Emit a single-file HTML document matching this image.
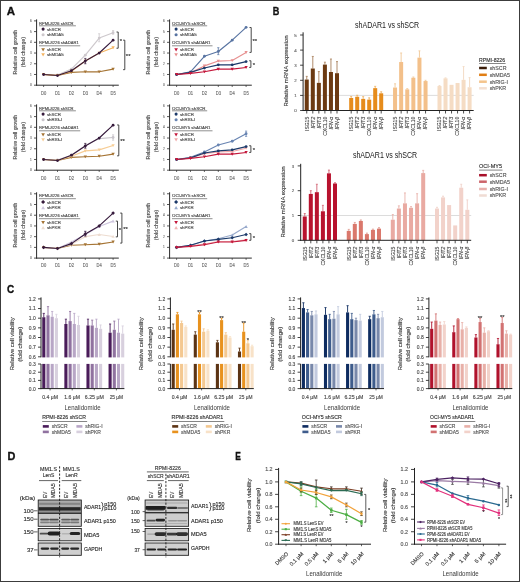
<!DOCTYPE html>
<html><head><meta charset="utf-8"><style>
html,body{margin:0;padding:0;background:#fff;}
svg{display:block;filter:blur(0.3px);}
text{font-family:"Liberation Sans", sans-serif;}
</style></head><body>
<svg width="520" height="582" viewBox="0 0 520 582">
<defs><filter id="soft" x="-30%" y="-80%" width="160%" height="260%"><feGaussianBlur stdDeviation="0.5"/></filter></defs>
<rect x="0" y="0" width="520" height="582" fill="#fff"/>
<text x="6.80" y="14.90" font-size="11.2" text-anchor="start" fill="#111" stroke="#111" stroke-width="0.35" font-weight="bold" textLength="8.30" lengthAdjust="spacingAndGlyphs">A</text>
<text x="17.20" y="52.20" font-size="5.2" text-anchor="middle" fill="#4a4a4a" stroke="#4a4a4a" stroke-width="0.14" textLength="44.70" lengthAdjust="spacingAndGlyphs" transform="rotate(-90 17.20 52.20)">Relative cell growth</text>
<text x="25.50" y="52.20" font-size="5.2" text-anchor="middle" fill="#4a4a4a" stroke="#4a4a4a" stroke-width="0.14" textLength="30.20" lengthAdjust="spacingAndGlyphs" transform="rotate(-90 25.50 52.20)">(fold change)</text>
<line x1="36.60" y1="19.38" x2="36.60" y2="85.70" stroke="#2a2a2a" stroke-width="1.0" />
<line x1="36.10" y1="85.20" x2="118.80" y2="85.20" stroke="#2a2a2a" stroke-width="1.0" />
<line x1="34.00" y1="85.20" x2="36.60" y2="85.20" stroke="#2a2a2a" stroke-width="0.8" />
<text x="30.80" y="86.30" font-size="3.1" text-anchor="middle" fill="#777" stroke="#777" stroke-width="0.14">0</text>
<line x1="34.00" y1="74.48" x2="36.60" y2="74.48" stroke="#2a2a2a" stroke-width="0.8" />
<text x="30.80" y="75.58" font-size="3.1" text-anchor="middle" fill="#777" stroke="#777" stroke-width="0.14">1</text>
<line x1="34.00" y1="63.76" x2="36.60" y2="63.76" stroke="#2a2a2a" stroke-width="0.8" />
<text x="30.80" y="64.86" font-size="3.1" text-anchor="middle" fill="#777" stroke="#777" stroke-width="0.14">2</text>
<line x1="34.00" y1="53.04" x2="36.60" y2="53.04" stroke="#2a2a2a" stroke-width="0.8" />
<text x="30.80" y="54.14" font-size="3.1" text-anchor="middle" fill="#777" stroke="#777" stroke-width="0.14">3</text>
<line x1="34.00" y1="42.32" x2="36.60" y2="42.32" stroke="#2a2a2a" stroke-width="0.8" />
<text x="30.80" y="43.42" font-size="3.1" text-anchor="middle" fill="#777" stroke="#777" stroke-width="0.14">4</text>
<line x1="34.00" y1="31.60" x2="36.60" y2="31.60" stroke="#2a2a2a" stroke-width="0.8" />
<text x="30.80" y="32.70" font-size="3.1" text-anchor="middle" fill="#777" stroke="#777" stroke-width="0.14">5</text>
<line x1="34.00" y1="20.88" x2="36.60" y2="20.88" stroke="#2a2a2a" stroke-width="0.8" />
<text x="30.80" y="21.98" font-size="3.1" text-anchor="middle" fill="#777" stroke="#777" stroke-width="0.14">6</text>
<line x1="43.60" y1="85.20" x2="43.60" y2="87.00" stroke="#2a2a2a" stroke-width="0.7" />
<text x="43.60" y="94.50" font-size="4.6" text-anchor="middle" fill="#707070" stroke="#707070" stroke-width="0.14" textLength="5.20" lengthAdjust="spacingAndGlyphs">D0</text>
<line x1="57.50" y1="85.20" x2="57.50" y2="87.00" stroke="#2a2a2a" stroke-width="0.7" />
<text x="57.50" y="94.50" font-size="4.6" text-anchor="middle" fill="#707070" stroke="#707070" stroke-width="0.14" textLength="5.20" lengthAdjust="spacingAndGlyphs">D1</text>
<line x1="71.40" y1="85.20" x2="71.40" y2="87.00" stroke="#2a2a2a" stroke-width="0.7" />
<text x="71.40" y="94.50" font-size="4.6" text-anchor="middle" fill="#707070" stroke="#707070" stroke-width="0.14" textLength="5.20" lengthAdjust="spacingAndGlyphs">D2</text>
<line x1="85.30" y1="85.20" x2="85.30" y2="87.00" stroke="#2a2a2a" stroke-width="0.7" />
<text x="85.30" y="94.50" font-size="4.6" text-anchor="middle" fill="#707070" stroke="#707070" stroke-width="0.14" textLength="5.20" lengthAdjust="spacingAndGlyphs">D3</text>
<line x1="99.20" y1="85.20" x2="99.20" y2="87.00" stroke="#2a2a2a" stroke-width="0.7" />
<text x="99.20" y="94.50" font-size="4.6" text-anchor="middle" fill="#707070" stroke="#707070" stroke-width="0.14" textLength="5.20" lengthAdjust="spacingAndGlyphs">D4</text>
<line x1="113.10" y1="85.20" x2="113.10" y2="87.00" stroke="#2a2a2a" stroke-width="0.7" />
<text x="113.10" y="94.50" font-size="4.6" text-anchor="middle" fill="#707070" stroke="#707070" stroke-width="0.14" textLength="5.20" lengthAdjust="spacingAndGlyphs">D5</text>
<polyline points="43.60,74.48 57.50,75.02 71.40,69.12 85.30,55.18 99.20,38.03 113.10,32.67" fill="none" stroke="#cdc8cc" stroke-width="1.15" stroke-linejoin="round"/>
<line x1="99.20" y1="41.78" x2="99.20" y2="33.74" stroke="#cdc8cc" stroke-width="0.8" />
<line x1="98.10" y1="33.74" x2="100.30" y2="33.74" stroke="#cdc8cc" stroke-width="0.7" />
<line x1="98.10" y1="41.78" x2="100.30" y2="41.78" stroke="#cdc8cc" stroke-width="0.7" />
<line x1="113.10" y1="34.28" x2="113.10" y2="30.53" stroke="#cdc8cc" stroke-width="0.8" />
<line x1="112.00" y1="30.53" x2="114.20" y2="30.53" stroke="#cdc8cc" stroke-width="0.7" />
<line x1="112.00" y1="34.28" x2="114.20" y2="34.28" stroke="#cdc8cc" stroke-width="0.7" />
<circle cx="43.60" cy="74.48" r="1.4" fill="#cdc8cc"/>
<circle cx="57.50" cy="75.02" r="1.4" fill="#cdc8cc"/>
<circle cx="71.40" cy="69.12" r="1.4" fill="#cdc8cc"/>
<circle cx="85.30" cy="55.18" r="1.4" fill="#cdc8cc"/>
<circle cx="99.20" cy="38.03" r="1.4" fill="#cdc8cc"/>
<circle cx="113.10" cy="32.67" r="1.4" fill="#cdc8cc"/>
<polyline points="43.60,74.48 57.50,75.55 71.40,72.34 85.30,71.80 99.20,71.80 113.10,69.12" fill="none" stroke="#a57434" stroke-width="1.15" stroke-linejoin="round"/>
<path d="M41.92,73.08 L45.28,73.08 L43.60,76.02Z" fill="#a57434"/>
<path d="M55.82,74.15 L59.18,74.15 L57.50,77.09Z" fill="#a57434"/>
<path d="M69.72,70.94 L73.08,70.94 L71.40,73.88Z" fill="#a57434"/>
<path d="M83.62,70.40 L86.98,70.40 L85.30,73.34Z" fill="#a57434"/>
<path d="M97.52,70.40 L100.88,70.40 L99.20,73.34Z" fill="#a57434"/>
<path d="M111.42,67.72 L114.78,67.72 L113.10,70.66Z" fill="#a57434"/>
<polyline points="43.60,74.48 57.50,75.55 71.40,71.26 85.30,61.08 99.20,53.04 113.10,47.68" fill="none" stroke="#f4b462" stroke-width="1.15" stroke-linejoin="round"/>
<path d="M41.92,73.08 L45.28,73.08 L43.60,76.02Z" fill="#f4b462"/>
<path d="M55.82,74.15 L59.18,74.15 L57.50,77.09Z" fill="#f4b462"/>
<path d="M69.72,69.86 L73.08,69.86 L71.40,72.80Z" fill="#f4b462"/>
<path d="M83.62,59.68 L86.98,59.68 L85.30,62.62Z" fill="#f4b462"/>
<path d="M97.52,51.64 L100.88,51.64 L99.20,54.58Z" fill="#f4b462"/>
<path d="M111.42,46.28 L114.78,46.28 L113.10,49.22Z" fill="#f4b462"/>
<polyline points="43.60,74.48 57.50,75.55 71.40,70.73 85.30,61.08 99.20,53.04 113.10,40.18" fill="none" stroke="#361a3c" stroke-width="1.15" stroke-linejoin="round"/>
<line x1="85.30" y1="63.76" x2="85.30" y2="58.40" stroke="#361a3c" stroke-width="0.8" />
<line x1="84.20" y1="58.40" x2="86.40" y2="58.40" stroke="#361a3c" stroke-width="0.7" />
<line x1="84.20" y1="63.76" x2="86.40" y2="63.76" stroke="#361a3c" stroke-width="0.7" />
<circle cx="43.60" cy="74.48" r="1.4" fill="#361a3c"/>
<circle cx="57.50" cy="75.55" r="1.4" fill="#361a3c"/>
<circle cx="71.40" cy="70.73" r="1.4" fill="#361a3c"/>
<circle cx="85.30" cy="61.08" r="1.4" fill="#361a3c"/>
<circle cx="99.20" cy="53.04" r="1.4" fill="#361a3c"/>
<circle cx="113.10" cy="40.18" r="1.4" fill="#361a3c"/>
<text x="39.00" y="24.50" font-size="4.1" text-anchor="start" fill="#4a4a4a" stroke="#4a4a4a" stroke-width="0.14" textLength="34.50" lengthAdjust="spacingAndGlyphs">RPMI-8226 shSCR</text>
<line x1="39.00" y1="25.80" x2="75.90" y2="25.80" stroke="#555" stroke-width="0.65" />
<circle cx="43.10" cy="29.10" r="1.55" fill="#361a3c"/>
<text x="46.90" y="30.60" font-size="4.4" text-anchor="start" fill="#4a4a4a" stroke="#4a4a4a" stroke-width="0.14">shSCR</text>
<circle cx="43.10" cy="34.70" r="1.55" fill="#cdc8cc"/>
<text x="46.90" y="36.20" font-size="4.4" text-anchor="start" fill="#4a4a4a" stroke="#4a4a4a" stroke-width="0.14">shMDA5</text>
<text x="39.00" y="44.40" font-size="4.1" text-anchor="start" fill="#4a4a4a" stroke="#4a4a4a" stroke-width="0.14" textLength="39.75" lengthAdjust="spacingAndGlyphs">RPMI-8226 shADAR1</text>
<line x1="39.00" y1="45.80" x2="80.20" y2="45.80" stroke="#555" stroke-width="0.65" />
<path d="M41.24,48.15 L44.96,48.15 L43.10,51.41Z" fill="#a57434"/>
<text x="46.90" y="51.20" font-size="4.4" text-anchor="start" fill="#4a4a4a" stroke="#4a4a4a" stroke-width="0.14">shSCR</text>
<path d="M41.24,53.15 L44.96,53.15 L43.10,56.41Z" fill="#f4b462"/>
<text x="46.90" y="56.20" font-size="4.4" text-anchor="start" fill="#4a4a4a" stroke="#4a4a4a" stroke-width="0.14">shMDA5</text>
<path d="M116.50,32.03 H118.20 V48.22 H116.50" fill="none" stroke="#333" stroke-width="0.9" />
<text x="121.00" y="42.72" font-size="6.0" text-anchor="middle" fill="#333" stroke="#333" stroke-width="0.14">*</text>
<path d="M123.10,40.18 H124.80 V69.66 H123.10" fill="none" stroke="#333" stroke-width="0.9" />
<text x="128.20" y="57.52" font-size="6.0" text-anchor="middle" fill="#333" stroke="#333" stroke-width="0.14">**</text>
<text x="150.20" y="52.20" font-size="5.2" text-anchor="middle" fill="#4a4a4a" stroke="#4a4a4a" stroke-width="0.14" textLength="44.70" lengthAdjust="spacingAndGlyphs" transform="rotate(-90 150.20 52.20)">Relative cell growth</text>
<text x="158.50" y="52.20" font-size="5.2" text-anchor="middle" fill="#4a4a4a" stroke="#4a4a4a" stroke-width="0.14" textLength="30.20" lengthAdjust="spacingAndGlyphs" transform="rotate(-90 158.50 52.20)">(fold change)</text>
<line x1="169.60" y1="19.38" x2="169.60" y2="85.70" stroke="#2a2a2a" stroke-width="1.0" />
<line x1="169.10" y1="85.20" x2="251.80" y2="85.20" stroke="#2a2a2a" stroke-width="1.0" />
<line x1="167.00" y1="85.20" x2="169.60" y2="85.20" stroke="#2a2a2a" stroke-width="0.8" />
<text x="163.80" y="86.30" font-size="3.1" text-anchor="middle" fill="#777" stroke="#777" stroke-width="0.14">0</text>
<line x1="167.00" y1="74.48" x2="169.60" y2="74.48" stroke="#2a2a2a" stroke-width="0.8" />
<text x="163.80" y="75.58" font-size="3.1" text-anchor="middle" fill="#777" stroke="#777" stroke-width="0.14">1</text>
<line x1="167.00" y1="63.76" x2="169.60" y2="63.76" stroke="#2a2a2a" stroke-width="0.8" />
<text x="163.80" y="64.86" font-size="3.1" text-anchor="middle" fill="#777" stroke="#777" stroke-width="0.14">2</text>
<line x1="167.00" y1="53.04" x2="169.60" y2="53.04" stroke="#2a2a2a" stroke-width="0.8" />
<text x="163.80" y="54.14" font-size="3.1" text-anchor="middle" fill="#777" stroke="#777" stroke-width="0.14">3</text>
<line x1="167.00" y1="42.32" x2="169.60" y2="42.32" stroke="#2a2a2a" stroke-width="0.8" />
<text x="163.80" y="43.42" font-size="3.1" text-anchor="middle" fill="#777" stroke="#777" stroke-width="0.14">4</text>
<line x1="167.00" y1="31.60" x2="169.60" y2="31.60" stroke="#2a2a2a" stroke-width="0.8" />
<text x="163.80" y="32.70" font-size="3.1" text-anchor="middle" fill="#777" stroke="#777" stroke-width="0.14">5</text>
<line x1="167.00" y1="20.88" x2="169.60" y2="20.88" stroke="#2a2a2a" stroke-width="0.8" />
<text x="163.80" y="21.98" font-size="3.1" text-anchor="middle" fill="#777" stroke="#777" stroke-width="0.14">6</text>
<line x1="176.60" y1="85.20" x2="176.60" y2="87.00" stroke="#2a2a2a" stroke-width="0.7" />
<text x="176.60" y="94.50" font-size="4.6" text-anchor="middle" fill="#707070" stroke="#707070" stroke-width="0.14" textLength="5.20" lengthAdjust="spacingAndGlyphs">D0</text>
<line x1="190.50" y1="85.20" x2="190.50" y2="87.00" stroke="#2a2a2a" stroke-width="0.7" />
<text x="190.50" y="94.50" font-size="4.6" text-anchor="middle" fill="#707070" stroke="#707070" stroke-width="0.14" textLength="5.20" lengthAdjust="spacingAndGlyphs">D1</text>
<line x1="204.40" y1="85.20" x2="204.40" y2="87.00" stroke="#2a2a2a" stroke-width="0.7" />
<text x="204.40" y="94.50" font-size="4.6" text-anchor="middle" fill="#707070" stroke="#707070" stroke-width="0.14" textLength="5.20" lengthAdjust="spacingAndGlyphs">D2</text>
<line x1="218.30" y1="85.20" x2="218.30" y2="87.00" stroke="#2a2a2a" stroke-width="0.7" />
<text x="218.30" y="94.50" font-size="4.6" text-anchor="middle" fill="#707070" stroke="#707070" stroke-width="0.14" textLength="5.20" lengthAdjust="spacingAndGlyphs">D3</text>
<line x1="232.20" y1="85.20" x2="232.20" y2="87.00" stroke="#2a2a2a" stroke-width="0.7" />
<text x="232.20" y="94.50" font-size="4.6" text-anchor="middle" fill="#707070" stroke="#707070" stroke-width="0.14" textLength="5.20" lengthAdjust="spacingAndGlyphs">D4</text>
<line x1="246.10" y1="85.20" x2="246.10" y2="87.00" stroke="#2a2a2a" stroke-width="0.7" />
<text x="246.10" y="94.50" font-size="4.6" text-anchor="middle" fill="#707070" stroke="#707070" stroke-width="0.14" textLength="5.20" lengthAdjust="spacingAndGlyphs">D5</text>
<polyline points="176.60,74.48 190.50,71.80 204.40,56.26 218.30,51.43 232.20,40.18 246.10,27.31" fill="none" stroke="#5874a2" stroke-width="1.15" stroke-linejoin="round"/>
<line x1="218.30" y1="54.65" x2="218.30" y2="47.68" stroke="#5874a2" stroke-width="0.8" />
<line x1="217.20" y1="47.68" x2="219.40" y2="47.68" stroke="#5874a2" stroke-width="0.7" />
<line x1="217.20" y1="54.65" x2="219.40" y2="54.65" stroke="#5874a2" stroke-width="0.7" />
<circle cx="176.60" cy="74.48" r="1.4" fill="#5874a2"/>
<circle cx="190.50" cy="71.80" r="1.4" fill="#5874a2"/>
<circle cx="204.40" cy="56.26" r="1.4" fill="#5874a2"/>
<circle cx="218.30" cy="51.43" r="1.4" fill="#5874a2"/>
<circle cx="232.20" cy="40.18" r="1.4" fill="#5874a2"/>
<circle cx="246.10" cy="27.31" r="1.4" fill="#5874a2"/>
<polyline points="176.60,74.48 190.50,72.87 204.40,65.90 218.30,61.08 232.20,60.54 246.10,52.50" fill="none" stroke="#e79090" stroke-width="1.15" stroke-linejoin="round"/>
<path d="M174.92,73.08 L178.28,73.08 L176.60,76.02Z" fill="#e79090"/>
<path d="M188.82,71.47 L192.18,71.47 L190.50,74.41Z" fill="#e79090"/>
<path d="M202.72,64.50 L206.08,64.50 L204.40,67.44Z" fill="#e79090"/>
<path d="M216.62,59.68 L219.98,59.68 L218.30,62.62Z" fill="#e79090"/>
<path d="M230.52,59.14 L233.88,59.14 L232.20,62.08Z" fill="#e79090"/>
<path d="M244.42,51.10 L247.78,51.10 L246.10,54.04Z" fill="#e79090"/>
<polyline points="176.60,74.48 190.50,72.34 204.40,68.05 218.30,64.83 232.20,64.83 246.10,61.62" fill="none" stroke="#1c3a6a" stroke-width="1.15" stroke-linejoin="round"/>
<circle cx="176.60" cy="74.48" r="1.4" fill="#1c3a6a"/>
<circle cx="190.50" cy="72.34" r="1.4" fill="#1c3a6a"/>
<circle cx="204.40" cy="68.05" r="1.4" fill="#1c3a6a"/>
<circle cx="218.30" cy="64.83" r="1.4" fill="#1c3a6a"/>
<circle cx="232.20" cy="64.83" r="1.4" fill="#1c3a6a"/>
<circle cx="246.10" cy="61.62" r="1.4" fill="#1c3a6a"/>
<polyline points="176.60,74.48 190.50,73.41 204.40,71.80 218.30,69.12 232.20,69.12 246.10,67.51" fill="none" stroke="#c4183c" stroke-width="1.15" stroke-linejoin="round"/>
<path d="M174.92,73.08 L178.28,73.08 L176.60,76.02Z" fill="#c4183c"/>
<path d="M188.82,72.01 L192.18,72.01 L190.50,74.95Z" fill="#c4183c"/>
<path d="M202.72,70.40 L206.08,70.40 L204.40,73.34Z" fill="#c4183c"/>
<path d="M216.62,67.72 L219.98,67.72 L218.30,70.66Z" fill="#c4183c"/>
<path d="M230.52,67.72 L233.88,67.72 L232.20,70.66Z" fill="#c4183c"/>
<path d="M244.42,66.11 L247.78,66.11 L246.10,69.05Z" fill="#c4183c"/>
<text x="172.00" y="24.50" font-size="4.1" text-anchor="start" fill="#4a4a4a" stroke="#4a4a4a" stroke-width="0.14" textLength="33.50" lengthAdjust="spacingAndGlyphs">OCI-MY5 shSCR</text>
<line x1="172.00" y1="25.80" x2="207.20" y2="25.80" stroke="#555" stroke-width="0.65" />
<circle cx="176.10" cy="29.10" r="1.55" fill="#1c3a6a"/>
<text x="179.90" y="30.60" font-size="4.4" text-anchor="start" fill="#4a4a4a" stroke="#4a4a4a" stroke-width="0.14">shSCR</text>
<circle cx="176.10" cy="34.70" r="1.55" fill="#5874a2"/>
<text x="179.90" y="36.20" font-size="4.4" text-anchor="start" fill="#4a4a4a" stroke="#4a4a4a" stroke-width="0.14">shMDA5</text>
<text x="172.00" y="44.40" font-size="4.1" text-anchor="start" fill="#4a4a4a" stroke="#4a4a4a" stroke-width="0.14" textLength="38.50" lengthAdjust="spacingAndGlyphs">OCI-MY5 shADAR1</text>
<line x1="172.00" y1="45.80" x2="212.50" y2="45.80" stroke="#555" stroke-width="0.65" />
<path d="M174.24,48.15 L177.96,48.15 L176.10,51.41Z" fill="#c4183c"/>
<text x="179.90" y="51.20" font-size="4.4" text-anchor="start" fill="#4a4a4a" stroke="#4a4a4a" stroke-width="0.14">shSCR</text>
<path d="M174.24,53.15 L177.96,53.15 L176.10,56.41Z" fill="#e79090"/>
<text x="179.90" y="56.20" font-size="4.4" text-anchor="start" fill="#4a4a4a" stroke="#4a4a4a" stroke-width="0.14">shMDA5</text>
<path d="M249.50,27.53 H251.20 V52.40 H249.50" fill="none" stroke="#333" stroke-width="0.9" />
<text x="254.80" y="42.56" font-size="6.0" text-anchor="middle" fill="#333" stroke="#333" stroke-width="0.14">**</text>
<path d="M249.20,60.76 H250.90 V67.40 H249.20" fill="none" stroke="#333" stroke-width="0.9" />
<text x="253.80" y="66.68" font-size="6.0" text-anchor="middle" fill="#333" stroke="#333" stroke-width="0.14">*</text>
<text x="17.20" y="137.20" font-size="5.2" text-anchor="middle" fill="#4a4a4a" stroke="#4a4a4a" stroke-width="0.14" textLength="44.70" lengthAdjust="spacingAndGlyphs" transform="rotate(-90 17.20 137.20)">Relative cell growth</text>
<text x="25.50" y="137.20" font-size="5.2" text-anchor="middle" fill="#4a4a4a" stroke="#4a4a4a" stroke-width="0.14" textLength="30.20" lengthAdjust="spacingAndGlyphs" transform="rotate(-90 25.50 137.20)">(fold change)</text>
<line x1="36.60" y1="104.38" x2="36.60" y2="170.70" stroke="#2a2a2a" stroke-width="1.0" />
<line x1="36.10" y1="170.20" x2="118.80" y2="170.20" stroke="#2a2a2a" stroke-width="1.0" />
<line x1="34.00" y1="170.20" x2="36.60" y2="170.20" stroke="#2a2a2a" stroke-width="0.8" />
<text x="30.80" y="171.30" font-size="3.1" text-anchor="middle" fill="#777" stroke="#777" stroke-width="0.14">0</text>
<line x1="34.00" y1="159.48" x2="36.60" y2="159.48" stroke="#2a2a2a" stroke-width="0.8" />
<text x="30.80" y="160.58" font-size="3.1" text-anchor="middle" fill="#777" stroke="#777" stroke-width="0.14">1</text>
<line x1="34.00" y1="148.76" x2="36.60" y2="148.76" stroke="#2a2a2a" stroke-width="0.8" />
<text x="30.80" y="149.86" font-size="3.1" text-anchor="middle" fill="#777" stroke="#777" stroke-width="0.14">2</text>
<line x1="34.00" y1="138.04" x2="36.60" y2="138.04" stroke="#2a2a2a" stroke-width="0.8" />
<text x="30.80" y="139.14" font-size="3.1" text-anchor="middle" fill="#777" stroke="#777" stroke-width="0.14">3</text>
<line x1="34.00" y1="127.32" x2="36.60" y2="127.32" stroke="#2a2a2a" stroke-width="0.8" />
<text x="30.80" y="128.42" font-size="3.1" text-anchor="middle" fill="#777" stroke="#777" stroke-width="0.14">4</text>
<line x1="34.00" y1="116.60" x2="36.60" y2="116.60" stroke="#2a2a2a" stroke-width="0.8" />
<text x="30.80" y="117.70" font-size="3.1" text-anchor="middle" fill="#777" stroke="#777" stroke-width="0.14">5</text>
<line x1="34.00" y1="105.88" x2="36.60" y2="105.88" stroke="#2a2a2a" stroke-width="0.8" />
<text x="30.80" y="106.98" font-size="3.1" text-anchor="middle" fill="#777" stroke="#777" stroke-width="0.14">6</text>
<line x1="43.60" y1="170.20" x2="43.60" y2="172.00" stroke="#2a2a2a" stroke-width="0.7" />
<text x="43.60" y="179.50" font-size="4.6" text-anchor="middle" fill="#707070" stroke="#707070" stroke-width="0.14" textLength="5.20" lengthAdjust="spacingAndGlyphs">D0</text>
<line x1="57.50" y1="170.20" x2="57.50" y2="172.00" stroke="#2a2a2a" stroke-width="0.7" />
<text x="57.50" y="179.50" font-size="4.6" text-anchor="middle" fill="#707070" stroke="#707070" stroke-width="0.14" textLength="5.20" lengthAdjust="spacingAndGlyphs">D1</text>
<line x1="71.40" y1="170.20" x2="71.40" y2="172.00" stroke="#2a2a2a" stroke-width="0.7" />
<text x="71.40" y="179.50" font-size="4.6" text-anchor="middle" fill="#707070" stroke="#707070" stroke-width="0.14" textLength="5.20" lengthAdjust="spacingAndGlyphs">D2</text>
<line x1="85.30" y1="170.20" x2="85.30" y2="172.00" stroke="#2a2a2a" stroke-width="0.7" />
<text x="85.30" y="179.50" font-size="4.6" text-anchor="middle" fill="#707070" stroke="#707070" stroke-width="0.14" textLength="5.20" lengthAdjust="spacingAndGlyphs">D3</text>
<line x1="99.20" y1="170.20" x2="99.20" y2="172.00" stroke="#2a2a2a" stroke-width="0.7" />
<text x="99.20" y="179.50" font-size="4.6" text-anchor="middle" fill="#707070" stroke="#707070" stroke-width="0.14" textLength="5.20" lengthAdjust="spacingAndGlyphs">D4</text>
<line x1="113.10" y1="170.20" x2="113.10" y2="172.00" stroke="#2a2a2a" stroke-width="0.7" />
<text x="113.10" y="179.50" font-size="4.6" text-anchor="middle" fill="#707070" stroke="#707070" stroke-width="0.14" textLength="5.20" lengthAdjust="spacingAndGlyphs">D5</text>
<polyline points="43.60,159.48 57.50,160.02 71.40,155.19 85.30,145.54 99.20,138.58 113.10,137.50" fill="none" stroke="#c9c5cb" stroke-width="1.15" stroke-linejoin="round"/>
<line x1="113.10" y1="140.18" x2="113.10" y2="134.82" stroke="#c9c5cb" stroke-width="0.8" />
<line x1="112.00" y1="134.82" x2="114.20" y2="134.82" stroke="#c9c5cb" stroke-width="0.7" />
<line x1="112.00" y1="140.18" x2="114.20" y2="140.18" stroke="#c9c5cb" stroke-width="0.7" />
<circle cx="43.60" cy="159.48" r="1.4" fill="#c9c5cb"/>
<circle cx="57.50" cy="160.02" r="1.4" fill="#c9c5cb"/>
<circle cx="71.40" cy="155.19" r="1.4" fill="#c9c5cb"/>
<circle cx="85.30" cy="145.54" r="1.4" fill="#c9c5cb"/>
<circle cx="99.20" cy="138.58" r="1.4" fill="#c9c5cb"/>
<circle cx="113.10" cy="137.50" r="1.4" fill="#c9c5cb"/>
<polyline points="43.60,159.48 57.50,160.55 71.40,157.34 85.30,156.80 99.20,156.26 113.10,154.12" fill="none" stroke="#a57434" stroke-width="1.15" stroke-linejoin="round"/>
<path d="M41.92,158.08 L45.28,158.08 L43.60,161.02Z" fill="#a57434"/>
<path d="M55.82,159.15 L59.18,159.15 L57.50,162.09Z" fill="#a57434"/>
<path d="M69.72,155.94 L73.08,155.94 L71.40,158.88Z" fill="#a57434"/>
<path d="M83.62,155.40 L86.98,155.40 L85.30,158.34Z" fill="#a57434"/>
<path d="M97.52,154.86 L100.88,154.86 L99.20,157.80Z" fill="#a57434"/>
<path d="M111.42,152.72 L114.78,152.72 L113.10,155.66Z" fill="#a57434"/>
<polyline points="43.60,159.48 57.50,160.55 71.40,156.26 85.30,150.90 99.20,149.83 113.10,145.54" fill="none" stroke="#f6cc94" stroke-width="1.15" stroke-linejoin="round"/>
<path d="M41.92,158.08 L45.28,158.08 L43.60,161.02Z" fill="#f6cc94"/>
<path d="M55.82,159.15 L59.18,159.15 L57.50,162.09Z" fill="#f6cc94"/>
<path d="M69.72,154.86 L73.08,154.86 L71.40,157.80Z" fill="#f6cc94"/>
<path d="M83.62,149.50 L86.98,149.50 L85.30,152.44Z" fill="#f6cc94"/>
<path d="M97.52,148.43 L100.88,148.43 L99.20,151.37Z" fill="#f6cc94"/>
<path d="M111.42,144.14 L114.78,144.14 L113.10,147.08Z" fill="#f6cc94"/>
<polyline points="43.60,159.48 57.50,160.55 71.40,155.19 85.30,146.08 99.20,138.04 113.10,125.18" fill="none" stroke="#361a3c" stroke-width="1.15" stroke-linejoin="round"/>
<line x1="85.30" y1="148.22" x2="85.30" y2="143.40" stroke="#361a3c" stroke-width="0.8" />
<line x1="84.20" y1="143.40" x2="86.40" y2="143.40" stroke="#361a3c" stroke-width="0.7" />
<line x1="84.20" y1="148.22" x2="86.40" y2="148.22" stroke="#361a3c" stroke-width="0.7" />
<circle cx="43.60" cy="159.48" r="1.4" fill="#361a3c"/>
<circle cx="57.50" cy="160.55" r="1.4" fill="#361a3c"/>
<circle cx="71.40" cy="155.19" r="1.4" fill="#361a3c"/>
<circle cx="85.30" cy="146.08" r="1.4" fill="#361a3c"/>
<circle cx="99.20" cy="138.04" r="1.4" fill="#361a3c"/>
<circle cx="113.10" cy="125.18" r="1.4" fill="#361a3c"/>
<text x="39.00" y="109.50" font-size="4.1" text-anchor="start" fill="#4a4a4a" stroke="#4a4a4a" stroke-width="0.14" textLength="34.50" lengthAdjust="spacingAndGlyphs">RPMI-8226 shSCR</text>
<line x1="39.00" y1="110.80" x2="75.90" y2="110.80" stroke="#555" stroke-width="0.65" />
<circle cx="43.10" cy="114.10" r="1.55" fill="#361a3c"/>
<text x="46.90" y="115.60" font-size="4.4" text-anchor="start" fill="#4a4a4a" stroke="#4a4a4a" stroke-width="0.14">shSCR</text>
<circle cx="43.10" cy="119.70" r="1.55" fill="#c9c5cb"/>
<text x="46.90" y="121.20" font-size="4.4" text-anchor="start" fill="#4a4a4a" stroke="#4a4a4a" stroke-width="0.14">shRIG-I</text>
<text x="39.00" y="129.40" font-size="4.1" text-anchor="start" fill="#4a4a4a" stroke="#4a4a4a" stroke-width="0.14" textLength="39.75" lengthAdjust="spacingAndGlyphs">RPMI-8226 shADAR1</text>
<line x1="39.00" y1="130.80" x2="80.20" y2="130.80" stroke="#555" stroke-width="0.65" />
<path d="M41.24,133.15 L44.96,133.15 L43.10,136.41Z" fill="#a57434"/>
<text x="46.90" y="136.20" font-size="4.4" text-anchor="start" fill="#4a4a4a" stroke="#4a4a4a" stroke-width="0.14">shSCR</text>
<path d="M41.24,138.15 L44.96,138.15 L43.10,141.41Z" fill="#f6cc94"/>
<text x="46.90" y="141.20" font-size="4.4" text-anchor="start" fill="#4a4a4a" stroke="#4a4a4a" stroke-width="0.14">shRIG-I</text>
<path d="M117.10,124.96 H118.80 V155.84 H117.10" fill="none" stroke="#333" stroke-width="0.9" />
<text x="122.50" y="143.00" font-size="6.0" text-anchor="middle" fill="#333" stroke="#333" stroke-width="0.14">**</text>
<text x="150.20" y="137.20" font-size="5.2" text-anchor="middle" fill="#4a4a4a" stroke="#4a4a4a" stroke-width="0.14" textLength="44.70" lengthAdjust="spacingAndGlyphs" transform="rotate(-90 150.20 137.20)">Relative cell growth</text>
<text x="158.50" y="137.20" font-size="5.2" text-anchor="middle" fill="#4a4a4a" stroke="#4a4a4a" stroke-width="0.14" textLength="30.20" lengthAdjust="spacingAndGlyphs" transform="rotate(-90 158.50 137.20)">(fold change)</text>
<line x1="169.60" y1="104.38" x2="169.60" y2="170.70" stroke="#2a2a2a" stroke-width="1.0" />
<line x1="169.10" y1="170.20" x2="251.80" y2="170.20" stroke="#2a2a2a" stroke-width="1.0" />
<line x1="167.00" y1="170.20" x2="169.60" y2="170.20" stroke="#2a2a2a" stroke-width="0.8" />
<text x="163.80" y="171.30" font-size="3.1" text-anchor="middle" fill="#777" stroke="#777" stroke-width="0.14">0</text>
<line x1="167.00" y1="159.48" x2="169.60" y2="159.48" stroke="#2a2a2a" stroke-width="0.8" />
<text x="163.80" y="160.58" font-size="3.1" text-anchor="middle" fill="#777" stroke="#777" stroke-width="0.14">1</text>
<line x1="167.00" y1="148.76" x2="169.60" y2="148.76" stroke="#2a2a2a" stroke-width="0.8" />
<text x="163.80" y="149.86" font-size="3.1" text-anchor="middle" fill="#777" stroke="#777" stroke-width="0.14">2</text>
<line x1="167.00" y1="138.04" x2="169.60" y2="138.04" stroke="#2a2a2a" stroke-width="0.8" />
<text x="163.80" y="139.14" font-size="3.1" text-anchor="middle" fill="#777" stroke="#777" stroke-width="0.14">3</text>
<line x1="167.00" y1="127.32" x2="169.60" y2="127.32" stroke="#2a2a2a" stroke-width="0.8" />
<text x="163.80" y="128.42" font-size="3.1" text-anchor="middle" fill="#777" stroke="#777" stroke-width="0.14">4</text>
<line x1="167.00" y1="116.60" x2="169.60" y2="116.60" stroke="#2a2a2a" stroke-width="0.8" />
<text x="163.80" y="117.70" font-size="3.1" text-anchor="middle" fill="#777" stroke="#777" stroke-width="0.14">5</text>
<line x1="167.00" y1="105.88" x2="169.60" y2="105.88" stroke="#2a2a2a" stroke-width="0.8" />
<text x="163.80" y="106.98" font-size="3.1" text-anchor="middle" fill="#777" stroke="#777" stroke-width="0.14">6</text>
<line x1="176.60" y1="170.20" x2="176.60" y2="172.00" stroke="#2a2a2a" stroke-width="0.7" />
<text x="176.60" y="179.50" font-size="4.6" text-anchor="middle" fill="#707070" stroke="#707070" stroke-width="0.14" textLength="5.20" lengthAdjust="spacingAndGlyphs">D0</text>
<line x1="190.50" y1="170.20" x2="190.50" y2="172.00" stroke="#2a2a2a" stroke-width="0.7" />
<text x="190.50" y="179.50" font-size="4.6" text-anchor="middle" fill="#707070" stroke="#707070" stroke-width="0.14" textLength="5.20" lengthAdjust="spacingAndGlyphs">D1</text>
<line x1="204.40" y1="170.20" x2="204.40" y2="172.00" stroke="#2a2a2a" stroke-width="0.7" />
<text x="204.40" y="179.50" font-size="4.6" text-anchor="middle" fill="#707070" stroke="#707070" stroke-width="0.14" textLength="5.20" lengthAdjust="spacingAndGlyphs">D2</text>
<line x1="218.30" y1="170.20" x2="218.30" y2="172.00" stroke="#2a2a2a" stroke-width="0.7" />
<text x="218.30" y="179.50" font-size="4.6" text-anchor="middle" fill="#707070" stroke="#707070" stroke-width="0.14" textLength="5.20" lengthAdjust="spacingAndGlyphs">D3</text>
<line x1="232.20" y1="170.20" x2="232.20" y2="172.00" stroke="#2a2a2a" stroke-width="0.7" />
<text x="232.20" y="179.50" font-size="4.6" text-anchor="middle" fill="#707070" stroke="#707070" stroke-width="0.14" textLength="5.20" lengthAdjust="spacingAndGlyphs">D4</text>
<line x1="246.10" y1="170.20" x2="246.10" y2="172.00" stroke="#2a2a2a" stroke-width="0.7" />
<text x="246.10" y="179.50" font-size="4.6" text-anchor="middle" fill="#707070" stroke="#707070" stroke-width="0.14" textLength="5.20" lengthAdjust="spacingAndGlyphs">D5</text>
<polyline points="176.60,159.48 190.50,157.34 204.40,151.98 218.30,145.01 232.20,141.26 246.10,133.75" fill="none" stroke="#6884b2" stroke-width="1.15" stroke-linejoin="round"/>
<line x1="246.10" y1="136.43" x2="246.10" y2="131.07" stroke="#6884b2" stroke-width="0.8" />
<line x1="245.00" y1="131.07" x2="247.20" y2="131.07" stroke="#6884b2" stroke-width="0.7" />
<line x1="245.00" y1="136.43" x2="247.20" y2="136.43" stroke="#6884b2" stroke-width="0.7" />
<circle cx="176.60" cy="159.48" r="1.4" fill="#6884b2"/>
<circle cx="190.50" cy="157.34" r="1.4" fill="#6884b2"/>
<circle cx="204.40" cy="151.98" r="1.4" fill="#6884b2"/>
<circle cx="218.30" cy="145.01" r="1.4" fill="#6884b2"/>
<circle cx="232.20" cy="141.26" r="1.4" fill="#6884b2"/>
<circle cx="246.10" cy="133.75" r="1.4" fill="#6884b2"/>
<polyline points="176.60,159.48 190.50,157.87 204.40,153.58 218.30,151.98 232.20,151.44 246.10,148.22" fill="none" stroke="#f0aaaa" stroke-width="1.15" stroke-linejoin="round"/>
<path d="M174.92,158.08 L178.28,158.08 L176.60,161.02Z" fill="#f0aaaa"/>
<path d="M188.82,156.47 L192.18,156.47 L190.50,159.41Z" fill="#f0aaaa"/>
<path d="M202.72,152.18 L206.08,152.18 L204.40,155.12Z" fill="#f0aaaa"/>
<path d="M216.62,150.58 L219.98,150.58 L218.30,153.52Z" fill="#f0aaaa"/>
<path d="M230.52,150.04 L233.88,150.04 L232.20,152.98Z" fill="#f0aaaa"/>
<path d="M244.42,146.82 L247.78,146.82 L246.10,149.76Z" fill="#f0aaaa"/>
<polyline points="176.60,159.48 190.50,157.87 204.40,153.05 218.30,150.90 232.20,149.83 246.10,146.62" fill="none" stroke="#1c3a6a" stroke-width="1.15" stroke-linejoin="round"/>
<circle cx="176.60" cy="159.48" r="1.4" fill="#1c3a6a"/>
<circle cx="190.50" cy="157.87" r="1.4" fill="#1c3a6a"/>
<circle cx="204.40" cy="153.05" r="1.4" fill="#1c3a6a"/>
<circle cx="218.30" cy="150.90" r="1.4" fill="#1c3a6a"/>
<circle cx="232.20" cy="149.83" r="1.4" fill="#1c3a6a"/>
<circle cx="246.10" cy="146.62" r="1.4" fill="#1c3a6a"/>
<polyline points="176.60,159.48 190.50,158.41 204.40,156.80 218.30,154.12 232.20,154.12 246.10,152.51" fill="none" stroke="#c4183c" stroke-width="1.15" stroke-linejoin="round"/>
<path d="M174.92,158.08 L178.28,158.08 L176.60,161.02Z" fill="#c4183c"/>
<path d="M188.82,157.01 L192.18,157.01 L190.50,159.95Z" fill="#c4183c"/>
<path d="M202.72,155.40 L206.08,155.40 L204.40,158.34Z" fill="#c4183c"/>
<path d="M216.62,152.72 L219.98,152.72 L218.30,155.66Z" fill="#c4183c"/>
<path d="M230.52,152.72 L233.88,152.72 L232.20,155.66Z" fill="#c4183c"/>
<path d="M244.42,151.11 L247.78,151.11 L246.10,154.05Z" fill="#c4183c"/>
<text x="172.00" y="109.50" font-size="4.1" text-anchor="start" fill="#4a4a4a" stroke="#4a4a4a" stroke-width="0.14" textLength="33.50" lengthAdjust="spacingAndGlyphs">OCI-MY5 shSCR</text>
<line x1="172.00" y1="110.80" x2="207.20" y2="110.80" stroke="#555" stroke-width="0.65" />
<circle cx="176.10" cy="114.10" r="1.55" fill="#1c3a6a"/>
<text x="179.90" y="115.60" font-size="4.4" text-anchor="start" fill="#4a4a4a" stroke="#4a4a4a" stroke-width="0.14">shSCR</text>
<circle cx="176.10" cy="119.70" r="1.55" fill="#6884b2"/>
<text x="179.90" y="121.20" font-size="4.4" text-anchor="start" fill="#4a4a4a" stroke="#4a4a4a" stroke-width="0.14">shRIG-I</text>
<text x="172.00" y="129.40" font-size="4.1" text-anchor="start" fill="#4a4a4a" stroke="#4a4a4a" stroke-width="0.14" textLength="38.50" lengthAdjust="spacingAndGlyphs">OCI-MY5 shADAR1</text>
<line x1="172.00" y1="130.80" x2="212.50" y2="130.80" stroke="#555" stroke-width="0.65" />
<path d="M174.24,133.15 L177.96,133.15 L176.10,136.41Z" fill="#c4183c"/>
<text x="179.90" y="136.20" font-size="4.4" text-anchor="start" fill="#4a4a4a" stroke="#4a4a4a" stroke-width="0.14">shSCR</text>
<path d="M174.24,138.15 L177.96,138.15 L176.10,141.41Z" fill="#f0aaaa"/>
<text x="179.90" y="141.20" font-size="4.4" text-anchor="start" fill="#4a4a4a" stroke="#4a4a4a" stroke-width="0.14">shRIG-I</text>
<path d="M249.20,145.76 H250.90 V152.40 H249.20" fill="none" stroke="#333" stroke-width="0.9" />
<text x="253.80" y="151.68" font-size="6.0" text-anchor="middle" fill="#333" stroke="#333" stroke-width="0.14">*</text>
<text x="17.20" y="225.10" font-size="5.2" text-anchor="middle" fill="#4a4a4a" stroke="#4a4a4a" stroke-width="0.14" textLength="44.70" lengthAdjust="spacingAndGlyphs" transform="rotate(-90 17.20 225.10)">Relative cell growth</text>
<text x="25.50" y="225.10" font-size="5.2" text-anchor="middle" fill="#4a4a4a" stroke="#4a4a4a" stroke-width="0.14" textLength="30.20" lengthAdjust="spacingAndGlyphs" transform="rotate(-90 25.50 225.10)">(fold change)</text>
<line x1="36.60" y1="192.28" x2="36.60" y2="258.60" stroke="#2a2a2a" stroke-width="1.0" />
<line x1="36.10" y1="258.10" x2="118.80" y2="258.10" stroke="#2a2a2a" stroke-width="1.0" />
<line x1="34.00" y1="258.10" x2="36.60" y2="258.10" stroke="#2a2a2a" stroke-width="0.8" />
<text x="30.80" y="259.20" font-size="3.1" text-anchor="middle" fill="#777" stroke="#777" stroke-width="0.14">0</text>
<line x1="34.00" y1="247.38" x2="36.60" y2="247.38" stroke="#2a2a2a" stroke-width="0.8" />
<text x="30.80" y="248.48" font-size="3.1" text-anchor="middle" fill="#777" stroke="#777" stroke-width="0.14">1</text>
<line x1="34.00" y1="236.66" x2="36.60" y2="236.66" stroke="#2a2a2a" stroke-width="0.8" />
<text x="30.80" y="237.76" font-size="3.1" text-anchor="middle" fill="#777" stroke="#777" stroke-width="0.14">2</text>
<line x1="34.00" y1="225.94" x2="36.60" y2="225.94" stroke="#2a2a2a" stroke-width="0.8" />
<text x="30.80" y="227.04" font-size="3.1" text-anchor="middle" fill="#777" stroke="#777" stroke-width="0.14">3</text>
<line x1="34.00" y1="215.22" x2="36.60" y2="215.22" stroke="#2a2a2a" stroke-width="0.8" />
<text x="30.80" y="216.32" font-size="3.1" text-anchor="middle" fill="#777" stroke="#777" stroke-width="0.14">4</text>
<line x1="34.00" y1="204.50" x2="36.60" y2="204.50" stroke="#2a2a2a" stroke-width="0.8" />
<text x="30.80" y="205.60" font-size="3.1" text-anchor="middle" fill="#777" stroke="#777" stroke-width="0.14">5</text>
<line x1="34.00" y1="193.78" x2="36.60" y2="193.78" stroke="#2a2a2a" stroke-width="0.8" />
<text x="30.80" y="194.88" font-size="3.1" text-anchor="middle" fill="#777" stroke="#777" stroke-width="0.14">6</text>
<line x1="43.60" y1="258.10" x2="43.60" y2="259.90" stroke="#2a2a2a" stroke-width="0.7" />
<text x="43.60" y="267.40" font-size="4.6" text-anchor="middle" fill="#707070" stroke="#707070" stroke-width="0.14" textLength="5.20" lengthAdjust="spacingAndGlyphs">D0</text>
<line x1="57.50" y1="258.10" x2="57.50" y2="259.90" stroke="#2a2a2a" stroke-width="0.7" />
<text x="57.50" y="267.40" font-size="4.6" text-anchor="middle" fill="#707070" stroke="#707070" stroke-width="0.14" textLength="5.20" lengthAdjust="spacingAndGlyphs">D1</text>
<line x1="71.40" y1="258.10" x2="71.40" y2="259.90" stroke="#2a2a2a" stroke-width="0.7" />
<text x="71.40" y="267.40" font-size="4.6" text-anchor="middle" fill="#707070" stroke="#707070" stroke-width="0.14" textLength="5.20" lengthAdjust="spacingAndGlyphs">D2</text>
<line x1="85.30" y1="258.10" x2="85.30" y2="259.90" stroke="#2a2a2a" stroke-width="0.7" />
<text x="85.30" y="267.40" font-size="4.6" text-anchor="middle" fill="#707070" stroke="#707070" stroke-width="0.14" textLength="5.20" lengthAdjust="spacingAndGlyphs">D3</text>
<line x1="99.20" y1="258.10" x2="99.20" y2="259.90" stroke="#2a2a2a" stroke-width="0.7" />
<text x="99.20" y="267.40" font-size="4.6" text-anchor="middle" fill="#707070" stroke="#707070" stroke-width="0.14" textLength="5.20" lengthAdjust="spacingAndGlyphs">D4</text>
<line x1="113.10" y1="258.10" x2="113.10" y2="259.90" stroke="#2a2a2a" stroke-width="0.7" />
<text x="113.10" y="267.40" font-size="4.6" text-anchor="middle" fill="#707070" stroke="#707070" stroke-width="0.14" textLength="5.20" lengthAdjust="spacingAndGlyphs">D5</text>
<polyline points="43.60,247.38 57.50,248.45 71.40,242.02 85.30,234.52 99.20,226.48 113.10,221.12" fill="none" stroke="#cfc6de" stroke-width="1.15" stroke-linejoin="round"/>
<line x1="85.30" y1="235.59" x2="85.30" y2="231.30" stroke="#cfc6de" stroke-width="0.8" />
<line x1="84.20" y1="231.30" x2="86.40" y2="231.30" stroke="#cfc6de" stroke-width="0.7" />
<line x1="84.20" y1="235.59" x2="86.40" y2="235.59" stroke="#cfc6de" stroke-width="0.7" />
<path d="M41.92,248.78 L45.28,248.78 L43.60,245.84Z" fill="#cfc6de"/>
<path d="M55.82,249.85 L59.18,249.85 L57.50,246.91Z" fill="#cfc6de"/>
<path d="M69.72,243.42 L73.08,243.42 L71.40,240.48Z" fill="#cfc6de"/>
<path d="M83.62,235.92 L86.98,235.92 L85.30,232.98Z" fill="#cfc6de"/>
<path d="M97.52,227.88 L100.88,227.88 L99.20,224.94Z" fill="#cfc6de"/>
<path d="M111.42,222.52 L114.78,222.52 L113.10,219.58Z" fill="#cfc6de"/>
<polyline points="43.60,247.38 57.50,248.45 71.40,245.24 85.30,244.70 99.20,244.16 113.10,242.02" fill="none" stroke="#a57434" stroke-width="1.15" stroke-linejoin="round"/>
<path d="M41.92,245.98 L45.28,245.98 L43.60,248.92Z" fill="#a57434"/>
<path d="M55.82,247.05 L59.18,247.05 L57.50,249.99Z" fill="#a57434"/>
<path d="M69.72,243.84 L73.08,243.84 L71.40,246.78Z" fill="#a57434"/>
<path d="M83.62,243.30 L86.98,243.30 L85.30,246.24Z" fill="#a57434"/>
<path d="M97.52,242.76 L100.88,242.76 L99.20,245.70Z" fill="#a57434"/>
<path d="M111.42,240.62 L114.78,240.62 L113.10,243.56Z" fill="#a57434"/>
<polyline points="43.60,247.38 57.50,248.45 71.40,244.16 85.30,236.66 99.20,234.52 113.10,236.45" fill="none" stroke="#eddcd0" stroke-width="1.15" stroke-linejoin="round"/>
<path d="M41.92,248.78 L45.28,248.78 L43.60,245.84Z" fill="#eddcd0"/>
<path d="M55.82,249.85 L59.18,249.85 L57.50,246.91Z" fill="#eddcd0"/>
<path d="M69.72,245.56 L73.08,245.56 L71.40,242.62Z" fill="#eddcd0"/>
<path d="M83.62,238.06 L86.98,238.06 L85.30,235.12Z" fill="#eddcd0"/>
<path d="M97.52,235.92 L100.88,235.92 L99.20,232.98Z" fill="#eddcd0"/>
<path d="M111.42,237.85 L114.78,237.85 L113.10,234.91Z" fill="#eddcd0"/>
<polyline points="43.60,247.38 57.50,248.45 71.40,243.63 85.30,233.98 99.20,225.94 113.10,213.08" fill="none" stroke="#361a3c" stroke-width="1.15" stroke-linejoin="round"/>
<line x1="85.30" y1="236.12" x2="85.30" y2="231.30" stroke="#361a3c" stroke-width="0.8" />
<line x1="84.20" y1="231.30" x2="86.40" y2="231.30" stroke="#361a3c" stroke-width="0.7" />
<line x1="84.20" y1="236.12" x2="86.40" y2="236.12" stroke="#361a3c" stroke-width="0.7" />
<path d="M41.78,247.38 L43.60,245.56 L45.42,247.38 L43.60,249.20Z" fill="#361a3c"/>
<path d="M55.68,248.45 L57.50,246.63 L59.32,248.45 L57.50,250.27Z" fill="#361a3c"/>
<path d="M69.58,243.63 L71.40,241.81 L73.22,243.63 L71.40,245.45Z" fill="#361a3c"/>
<path d="M83.48,233.98 L85.30,232.16 L87.12,233.98 L85.30,235.80Z" fill="#361a3c"/>
<path d="M97.38,225.94 L99.20,224.12 L101.02,225.94 L99.20,227.76Z" fill="#361a3c"/>
<path d="M111.28,213.08 L113.10,211.26 L114.92,213.08 L113.10,214.90Z" fill="#361a3c"/>
<text x="39.00" y="197.40" font-size="4.1" text-anchor="start" fill="#4a4a4a" stroke="#4a4a4a" stroke-width="0.14" textLength="34.50" lengthAdjust="spacingAndGlyphs">RPMI-8226 shSCR</text>
<line x1="39.00" y1="198.70" x2="75.90" y2="198.70" stroke="#555" stroke-width="0.65" />
<path d="M41.09,202.00 L43.10,199.99 L45.12,202.00 L43.10,204.02Z" fill="#361a3c"/>
<text x="46.90" y="203.50" font-size="4.4" text-anchor="start" fill="#4a4a4a" stroke="#4a4a4a" stroke-width="0.14">shSCR</text>
<path d="M41.24,209.15 L44.96,209.15 L43.10,205.90Z" fill="#cfc6de"/>
<text x="46.90" y="209.10" font-size="4.4" text-anchor="start" fill="#4a4a4a" stroke="#4a4a4a" stroke-width="0.14">shPKR</text>
<text x="39.00" y="217.30" font-size="4.1" text-anchor="start" fill="#4a4a4a" stroke="#4a4a4a" stroke-width="0.14" textLength="39.75" lengthAdjust="spacingAndGlyphs">RPMI-8226 shADAR1</text>
<line x1="39.00" y1="218.70" x2="80.20" y2="218.70" stroke="#555" stroke-width="0.65" />
<path d="M41.24,221.05 L44.96,221.05 L43.10,224.31Z" fill="#a57434"/>
<text x="46.90" y="224.10" font-size="4.4" text-anchor="start" fill="#4a4a4a" stroke="#4a4a4a" stroke-width="0.14">shSCR</text>
<path d="M41.24,229.15 L44.96,229.15 L43.10,225.90Z" fill="#eddcd0"/>
<text x="46.90" y="229.10" font-size="4.4" text-anchor="start" fill="#4a4a4a" stroke="#4a4a4a" stroke-width="0.14">shPKR</text>
<path d="M115.80,221.12 H117.50 V236.87 H115.80" fill="none" stroke="#333" stroke-width="0.9" />
<text x="120.00" y="231.60" font-size="6.0" text-anchor="middle" fill="#333" stroke="#333" stroke-width="0.14">*</text>
<path d="M120.20,213.08 H121.90 V243.09 H120.20" fill="none" stroke="#333" stroke-width="0.9" />
<text x="125.60" y="230.68" font-size="6.0" text-anchor="middle" fill="#333" stroke="#333" stroke-width="0.14">**</text>
<text x="150.20" y="225.10" font-size="5.2" text-anchor="middle" fill="#4a4a4a" stroke="#4a4a4a" stroke-width="0.14" textLength="44.70" lengthAdjust="spacingAndGlyphs" transform="rotate(-90 150.20 225.10)">Relative cell growth</text>
<text x="158.50" y="225.10" font-size="5.2" text-anchor="middle" fill="#4a4a4a" stroke="#4a4a4a" stroke-width="0.14" textLength="30.20" lengthAdjust="spacingAndGlyphs" transform="rotate(-90 158.50 225.10)">(fold change)</text>
<line x1="169.60" y1="192.28" x2="169.60" y2="258.60" stroke="#2a2a2a" stroke-width="1.0" />
<line x1="169.10" y1="258.10" x2="251.80" y2="258.10" stroke="#2a2a2a" stroke-width="1.0" />
<line x1="167.00" y1="258.10" x2="169.60" y2="258.10" stroke="#2a2a2a" stroke-width="0.8" />
<text x="163.80" y="259.20" font-size="3.1" text-anchor="middle" fill="#777" stroke="#777" stroke-width="0.14">0</text>
<line x1="167.00" y1="247.38" x2="169.60" y2="247.38" stroke="#2a2a2a" stroke-width="0.8" />
<text x="163.80" y="248.48" font-size="3.1" text-anchor="middle" fill="#777" stroke="#777" stroke-width="0.14">1</text>
<line x1="167.00" y1="236.66" x2="169.60" y2="236.66" stroke="#2a2a2a" stroke-width="0.8" />
<text x="163.80" y="237.76" font-size="3.1" text-anchor="middle" fill="#777" stroke="#777" stroke-width="0.14">2</text>
<line x1="167.00" y1="225.94" x2="169.60" y2="225.94" stroke="#2a2a2a" stroke-width="0.8" />
<text x="163.80" y="227.04" font-size="3.1" text-anchor="middle" fill="#777" stroke="#777" stroke-width="0.14">3</text>
<line x1="167.00" y1="215.22" x2="169.60" y2="215.22" stroke="#2a2a2a" stroke-width="0.8" />
<text x="163.80" y="216.32" font-size="3.1" text-anchor="middle" fill="#777" stroke="#777" stroke-width="0.14">4</text>
<line x1="167.00" y1="204.50" x2="169.60" y2="204.50" stroke="#2a2a2a" stroke-width="0.8" />
<text x="163.80" y="205.60" font-size="3.1" text-anchor="middle" fill="#777" stroke="#777" stroke-width="0.14">5</text>
<line x1="167.00" y1="193.78" x2="169.60" y2="193.78" stroke="#2a2a2a" stroke-width="0.8" />
<text x="163.80" y="194.88" font-size="3.1" text-anchor="middle" fill="#777" stroke="#777" stroke-width="0.14">6</text>
<line x1="176.60" y1="258.10" x2="176.60" y2="259.90" stroke="#2a2a2a" stroke-width="0.7" />
<text x="176.60" y="267.40" font-size="4.6" text-anchor="middle" fill="#707070" stroke="#707070" stroke-width="0.14" textLength="5.20" lengthAdjust="spacingAndGlyphs">D0</text>
<line x1="190.50" y1="258.10" x2="190.50" y2="259.90" stroke="#2a2a2a" stroke-width="0.7" />
<text x="190.50" y="267.40" font-size="4.6" text-anchor="middle" fill="#707070" stroke="#707070" stroke-width="0.14" textLength="5.20" lengthAdjust="spacingAndGlyphs">D1</text>
<line x1="204.40" y1="258.10" x2="204.40" y2="259.90" stroke="#2a2a2a" stroke-width="0.7" />
<text x="204.40" y="267.40" font-size="4.6" text-anchor="middle" fill="#707070" stroke="#707070" stroke-width="0.14" textLength="5.20" lengthAdjust="spacingAndGlyphs">D2</text>
<line x1="218.30" y1="258.10" x2="218.30" y2="259.90" stroke="#2a2a2a" stroke-width="0.7" />
<text x="218.30" y="267.40" font-size="4.6" text-anchor="middle" fill="#707070" stroke="#707070" stroke-width="0.14" textLength="5.20" lengthAdjust="spacingAndGlyphs">D3</text>
<line x1="232.20" y1="258.10" x2="232.20" y2="259.90" stroke="#2a2a2a" stroke-width="0.7" />
<text x="232.20" y="267.40" font-size="4.6" text-anchor="middle" fill="#707070" stroke="#707070" stroke-width="0.14" textLength="5.20" lengthAdjust="spacingAndGlyphs">D4</text>
<line x1="246.10" y1="258.10" x2="246.10" y2="259.90" stroke="#2a2a2a" stroke-width="0.7" />
<text x="246.10" y="267.40" font-size="4.6" text-anchor="middle" fill="#707070" stroke="#707070" stroke-width="0.14" textLength="5.20" lengthAdjust="spacingAndGlyphs">D5</text>
<polyline points="176.60,247.38 190.50,245.24 204.40,240.95 218.30,238.80 232.20,235.05 246.10,226.48" fill="none" stroke="#98aacc" stroke-width="1.15" stroke-linejoin="round"/>
<path d="M174.92,248.78 L178.28,248.78 L176.60,245.84Z" fill="#98aacc"/>
<path d="M188.82,246.64 L192.18,246.64 L190.50,243.70Z" fill="#98aacc"/>
<path d="M202.72,242.35 L206.08,242.35 L204.40,239.41Z" fill="#98aacc"/>
<path d="M216.62,240.20 L219.98,240.20 L218.30,237.26Z" fill="#98aacc"/>
<path d="M230.52,236.45 L233.88,236.45 L232.20,233.51Z" fill="#98aacc"/>
<path d="M244.42,227.88 L247.78,227.88 L246.10,224.94Z" fill="#98aacc"/>
<polyline points="176.60,247.38 190.50,245.77 204.40,244.16 218.30,241.48 232.20,241.48 246.10,239.88" fill="none" stroke="#f0b4b4" stroke-width="1.15" stroke-linejoin="round"/>
<path d="M174.92,248.78 L178.28,248.78 L176.60,245.84Z" fill="#f0b4b4"/>
<path d="M188.82,247.17 L192.18,247.17 L190.50,244.23Z" fill="#f0b4b4"/>
<path d="M202.72,245.56 L206.08,245.56 L204.40,242.62Z" fill="#f0b4b4"/>
<path d="M216.62,242.88 L219.98,242.88 L218.30,239.94Z" fill="#f0b4b4"/>
<path d="M230.52,242.88 L233.88,242.88 L232.20,239.94Z" fill="#f0b4b4"/>
<path d="M244.42,241.28 L247.78,241.28 L246.10,238.34Z" fill="#f0b4b4"/>
<polyline points="176.60,247.38 190.50,245.24 204.40,240.95 218.30,239.34 232.20,237.73 246.10,234.52" fill="none" stroke="#1c3a6a" stroke-width="1.15" stroke-linejoin="round"/>
<path d="M174.78,247.38 L176.60,245.56 L178.42,247.38 L176.60,249.20Z" fill="#1c3a6a"/>
<path d="M188.68,245.24 L190.50,243.42 L192.32,245.24 L190.50,247.06Z" fill="#1c3a6a"/>
<path d="M202.58,240.95 L204.40,239.13 L206.22,240.95 L204.40,242.77Z" fill="#1c3a6a"/>
<path d="M216.48,239.34 L218.30,237.52 L220.12,239.34 L218.30,241.16Z" fill="#1c3a6a"/>
<path d="M230.38,237.73 L232.20,235.91 L234.02,237.73 L232.20,239.55Z" fill="#1c3a6a"/>
<path d="M244.28,234.52 L246.10,232.70 L247.92,234.52 L246.10,236.34Z" fill="#1c3a6a"/>
<polyline points="176.60,247.38 190.50,246.31 204.40,244.70 218.30,242.02 232.20,242.02 246.10,240.41" fill="none" stroke="#c4183c" stroke-width="1.15" stroke-linejoin="round"/>
<path d="M174.92,245.98 L178.28,245.98 L176.60,248.92Z" fill="#c4183c"/>
<path d="M188.82,244.91 L192.18,244.91 L190.50,247.85Z" fill="#c4183c"/>
<path d="M202.72,243.30 L206.08,243.30 L204.40,246.24Z" fill="#c4183c"/>
<path d="M216.62,240.62 L219.98,240.62 L218.30,243.56Z" fill="#c4183c"/>
<path d="M230.52,240.62 L233.88,240.62 L232.20,243.56Z" fill="#c4183c"/>
<path d="M244.42,239.01 L247.78,239.01 L246.10,241.95Z" fill="#c4183c"/>
<text x="172.00" y="197.40" font-size="4.1" text-anchor="start" fill="#4a4a4a" stroke="#4a4a4a" stroke-width="0.14" textLength="33.50" lengthAdjust="spacingAndGlyphs">OCI-MY5 shSCR</text>
<line x1="172.00" y1="198.70" x2="207.20" y2="198.70" stroke="#555" stroke-width="0.65" />
<path d="M174.09,202.00 L176.10,199.99 L178.11,202.00 L176.10,204.02Z" fill="#1c3a6a"/>
<text x="179.90" y="203.50" font-size="4.4" text-anchor="start" fill="#4a4a4a" stroke="#4a4a4a" stroke-width="0.14">shSCR</text>
<path d="M174.24,209.15 L177.96,209.15 L176.10,205.90Z" fill="#98aacc"/>
<text x="179.90" y="209.10" font-size="4.4" text-anchor="start" fill="#4a4a4a" stroke="#4a4a4a" stroke-width="0.14">shPKR</text>
<text x="172.00" y="217.30" font-size="4.1" text-anchor="start" fill="#4a4a4a" stroke="#4a4a4a" stroke-width="0.14" textLength="38.50" lengthAdjust="spacingAndGlyphs">OCI-MY5 shADAR1</text>
<line x1="172.00" y1="218.70" x2="212.50" y2="218.70" stroke="#555" stroke-width="0.65" />
<path d="M174.24,221.05 L177.96,221.05 L176.10,224.31Z" fill="#c4183c"/>
<text x="179.90" y="224.10" font-size="4.4" text-anchor="start" fill="#4a4a4a" stroke="#4a4a4a" stroke-width="0.14">shSCR</text>
<path d="M174.24,229.15 L177.96,229.15 L176.10,225.90Z" fill="#f0b4b4"/>
<text x="179.90" y="229.10" font-size="4.4" text-anchor="start" fill="#4a4a4a" stroke="#4a4a4a" stroke-width="0.14">shPKR</text>
<path d="M249.20,233.66 H250.90 V240.30 H249.20" fill="none" stroke="#333" stroke-width="0.9" />
<text x="253.80" y="239.58" font-size="6.0" text-anchor="middle" fill="#333" stroke="#333" stroke-width="0.14">*</text>
<text x="272.80" y="14.90" font-size="11.2" text-anchor="start" fill="#111" stroke="#111" stroke-width="0.35" font-weight="bold" textLength="6.60" lengthAdjust="spacingAndGlyphs">B</text>
<text x="387.10" y="28.00" font-size="8.2" text-anchor="middle" fill="#1a1a1a" textLength="64.20" lengthAdjust="spacingAndGlyphs">shADAR1 vs shSCR</text>
<text x="287.50" y="71.00" font-size="6.2" text-anchor="middle" fill="#3a3a3a" stroke="#3a3a3a" stroke-width="0.14" textLength="71.00" lengthAdjust="spacingAndGlyphs" transform="rotate(-90 287.50 71.00)">Relative mRNA expression</text>
<line x1="303.10" y1="95.40" x2="473.70" y2="95.40" stroke="#c4c4c4" stroke-width="0.6" />
<line x1="306.75" y1="79.55" x2="306.75" y2="76.37" stroke="#a8805c" stroke-width="0.9" />
<line x1="305.75" y1="76.37" x2="307.75" y2="76.37" stroke="#a8805c" stroke-width="0.8" />
<rect x="304.75" y="79.55" width="4.00" height="30.95" fill="#6c3a12" />
<line x1="306.75" y1="110.50" x2="306.75" y2="113.50" stroke="#222" stroke-width="0.8" />
<text x="308.65" y="116.80" font-size="5.0" text-anchor="end" fill="#4a4a4a" stroke="#4a4a4a" stroke-width="0.14" transform="rotate(-90 308.65 116.80)">ISG15</text>
<line x1="312.80" y1="68.52" x2="312.80" y2="56.44" stroke="#a8805c" stroke-width="0.9" />
<line x1="311.80" y1="56.44" x2="313.80" y2="56.44" stroke="#a8805c" stroke-width="0.8" />
<rect x="310.80" y="68.52" width="4.00" height="41.98" fill="#6c3a12" />
<line x1="312.80" y1="110.50" x2="312.80" y2="113.50" stroke="#222" stroke-width="0.8" />
<text x="314.70" y="116.80" font-size="5.0" text-anchor="end" fill="#4a4a4a" stroke="#4a4a4a" stroke-width="0.14" font-style="italic" transform="rotate(-90 314.70 116.80)">IFIT2</text>
<line x1="318.85" y1="82.87" x2="318.85" y2="71.54" stroke="#a8805c" stroke-width="0.9" />
<line x1="317.85" y1="71.54" x2="319.85" y2="71.54" stroke="#a8805c" stroke-width="0.8" />
<rect x="316.85" y="82.87" width="4.00" height="27.63" fill="#6c3a12" />
<line x1="318.85" y1="110.50" x2="318.85" y2="113.50" stroke="#222" stroke-width="0.8" />
<text x="320.75" y="116.80" font-size="5.0" text-anchor="end" fill="#4a4a4a" stroke="#4a4a4a" stroke-width="0.14" font-style="italic" transform="rotate(-90 320.75 116.80)">IFIT3</text>
<line x1="324.90" y1="64.60" x2="324.90" y2="62.18" stroke="#a8805c" stroke-width="0.9" />
<line x1="323.90" y1="62.18" x2="325.90" y2="62.18" stroke="#a8805c" stroke-width="0.8" />
<rect x="322.90" y="64.60" width="4.00" height="45.90" fill="#6c3a12" />
<line x1="324.90" y1="110.50" x2="324.90" y2="113.50" stroke="#222" stroke-width="0.8" />
<text x="326.80" y="116.80" font-size="5.0" text-anchor="end" fill="#4a4a4a" stroke="#4a4a4a" stroke-width="0.14" transform="rotate(-90 326.80 116.80)">CXCL10</text>
<line x1="330.95" y1="72.00" x2="330.95" y2="59.01" stroke="#a8805c" stroke-width="0.9" />
<line x1="329.95" y1="59.01" x2="331.95" y2="59.01" stroke="#a8805c" stroke-width="0.8" />
<rect x="328.95" y="72.00" width="4.00" height="38.50" fill="#6c3a12" />
<line x1="330.95" y1="110.50" x2="330.95" y2="113.50" stroke="#222" stroke-width="0.8" />
<text x="332.85" y="116.80" font-size="5.0" text-anchor="end" fill="#4a4a4a" stroke="#4a4a4a" stroke-width="0.14" font-style="italic" transform="rotate(-90 332.85 116.80)">IFN-α</text>
<line x1="337.00" y1="73.20" x2="337.00" y2="61.58" stroke="#a8805c" stroke-width="0.9" />
<line x1="336.00" y1="61.58" x2="338.00" y2="61.58" stroke="#a8805c" stroke-width="0.8" />
<rect x="335.00" y="73.20" width="4.00" height="37.30" fill="#6c3a12" />
<line x1="337.00" y1="110.50" x2="337.00" y2="113.50" stroke="#222" stroke-width="0.8" />
<text x="338.90" y="116.80" font-size="5.0" text-anchor="end" fill="#4a4a4a" stroke="#4a4a4a" stroke-width="0.14" font-style="italic" transform="rotate(-90 338.90 116.80)">IFN-β</text>
<line x1="351.20" y1="97.97" x2="351.20" y2="96.46" stroke="#eeb060" stroke-width="0.9" />
<line x1="350.20" y1="96.46" x2="352.20" y2="96.46" stroke="#eeb060" stroke-width="0.8" />
<rect x="349.20" y="97.97" width="4.00" height="12.53" fill="#e68c1c" />
<line x1="351.20" y1="110.50" x2="351.20" y2="113.50" stroke="#222" stroke-width="0.8" />
<text x="353.10" y="116.80" font-size="5.0" text-anchor="end" fill="#4a4a4a" stroke="#4a4a4a" stroke-width="0.14" transform="rotate(-90 353.10 116.80)">ISG15</text>
<line x1="357.20" y1="96.76" x2="357.20" y2="95.25" stroke="#eeb060" stroke-width="0.9" />
<line x1="356.20" y1="95.25" x2="358.20" y2="95.25" stroke="#eeb060" stroke-width="0.8" />
<rect x="355.20" y="96.76" width="4.00" height="13.74" fill="#e68c1c" />
<line x1="357.20" y1="110.50" x2="357.20" y2="113.50" stroke="#222" stroke-width="0.8" />
<text x="359.10" y="116.80" font-size="5.0" text-anchor="end" fill="#4a4a4a" stroke="#4a4a4a" stroke-width="0.14" font-style="italic" transform="rotate(-90 359.10 116.80)">IFIT2</text>
<line x1="363.20" y1="98.87" x2="363.20" y2="96.61" stroke="#eeb060" stroke-width="0.9" />
<line x1="362.20" y1="96.61" x2="364.20" y2="96.61" stroke="#eeb060" stroke-width="0.8" />
<rect x="361.20" y="98.87" width="4.00" height="11.63" fill="#e68c1c" />
<line x1="363.20" y1="110.50" x2="363.20" y2="113.50" stroke="#222" stroke-width="0.8" />
<text x="365.10" y="116.80" font-size="5.0" text-anchor="end" fill="#4a4a4a" stroke="#4a4a4a" stroke-width="0.14" font-style="italic" transform="rotate(-90 365.10 116.80)">IFIT3</text>
<line x1="369.20" y1="99.63" x2="369.20" y2="97.82" stroke="#eeb060" stroke-width="0.9" />
<line x1="368.20" y1="97.82" x2="370.20" y2="97.82" stroke="#eeb060" stroke-width="0.8" />
<rect x="367.20" y="99.63" width="4.00" height="10.87" fill="#e68c1c" />
<line x1="369.20" y1="110.50" x2="369.20" y2="113.50" stroke="#222" stroke-width="0.8" />
<text x="371.10" y="116.80" font-size="5.0" text-anchor="end" fill="#4a4a4a" stroke="#4a4a4a" stroke-width="0.14" transform="rotate(-90 371.10 116.80)">CXCL10</text>
<line x1="375.20" y1="88.15" x2="375.20" y2="86.34" stroke="#eeb060" stroke-width="0.9" />
<line x1="374.20" y1="86.34" x2="376.20" y2="86.34" stroke="#eeb060" stroke-width="0.8" />
<rect x="373.20" y="88.15" width="4.00" height="22.35" fill="#e68c1c" />
<line x1="375.20" y1="110.50" x2="375.20" y2="113.50" stroke="#222" stroke-width="0.8" />
<text x="377.10" y="116.80" font-size="5.0" text-anchor="end" fill="#4a4a4a" stroke="#4a4a4a" stroke-width="0.14" font-style="italic" transform="rotate(-90 377.10 116.80)">IFN-α</text>
<line x1="381.20" y1="93.29" x2="381.20" y2="91.78" stroke="#eeb060" stroke-width="0.9" />
<line x1="380.20" y1="91.78" x2="382.20" y2="91.78" stroke="#eeb060" stroke-width="0.8" />
<rect x="379.20" y="93.29" width="4.00" height="17.21" fill="#e68c1c" />
<line x1="381.20" y1="110.50" x2="381.20" y2="113.50" stroke="#222" stroke-width="0.8" />
<text x="383.10" y="116.80" font-size="5.0" text-anchor="end" fill="#4a4a4a" stroke="#4a4a4a" stroke-width="0.14" font-style="italic" transform="rotate(-90 383.10 116.80)">IFN-β</text>
<line x1="395.05" y1="87.55" x2="395.05" y2="83.77" stroke="#f0c898" stroke-width="0.9" />
<line x1="394.05" y1="83.77" x2="396.05" y2="83.77" stroke="#f0c898" stroke-width="0.8" />
<rect x="393.05" y="87.55" width="4.00" height="22.95" fill="#f3c08a" />
<line x1="395.05" y1="110.50" x2="395.05" y2="113.50" stroke="#222" stroke-width="0.8" />
<text x="396.95" y="116.80" font-size="5.0" text-anchor="end" fill="#4a4a4a" stroke="#4a4a4a" stroke-width="0.14" transform="rotate(-90 396.95 116.80)">ISG15</text>
<line x1="401.15" y1="62.03" x2="401.15" y2="52.97" stroke="#f0c898" stroke-width="0.9" />
<line x1="400.15" y1="52.97" x2="402.15" y2="52.97" stroke="#f0c898" stroke-width="0.8" />
<rect x="399.15" y="62.03" width="4.00" height="48.47" fill="#f3c08a" />
<line x1="401.15" y1="110.50" x2="401.15" y2="113.50" stroke="#222" stroke-width="0.8" />
<text x="403.05" y="116.80" font-size="5.0" text-anchor="end" fill="#4a4a4a" stroke="#4a4a4a" stroke-width="0.14" font-style="italic" transform="rotate(-90 403.05 116.80)">IFIT2</text>
<line x1="407.25" y1="89.36" x2="407.25" y2="88.61" stroke="#f0c898" stroke-width="0.9" />
<line x1="406.25" y1="88.61" x2="408.25" y2="88.61" stroke="#f0c898" stroke-width="0.8" />
<rect x="405.25" y="89.36" width="4.00" height="21.14" fill="#f3c08a" />
<line x1="407.25" y1="110.50" x2="407.25" y2="113.50" stroke="#222" stroke-width="0.8" />
<text x="409.15" y="116.80" font-size="5.0" text-anchor="end" fill="#4a4a4a" stroke="#4a4a4a" stroke-width="0.14" font-style="italic" transform="rotate(-90 409.15 116.80)">IFIT3</text>
<line x1="413.35" y1="77.73" x2="413.35" y2="76.98" stroke="#f0c898" stroke-width="0.9" />
<line x1="412.35" y1="76.98" x2="414.35" y2="76.98" stroke="#f0c898" stroke-width="0.8" />
<rect x="411.35" y="77.73" width="4.00" height="32.77" fill="#f3c08a" />
<line x1="413.35" y1="110.50" x2="413.35" y2="113.50" stroke="#222" stroke-width="0.8" />
<text x="415.25" y="116.80" font-size="5.0" text-anchor="end" fill="#4a4a4a" stroke="#4a4a4a" stroke-width="0.14" transform="rotate(-90 415.25 116.80)">CXCL10</text>
<line x1="419.45" y1="57.65" x2="419.45" y2="50.85" stroke="#f0c898" stroke-width="0.9" />
<line x1="418.45" y1="50.85" x2="420.45" y2="50.85" stroke="#f0c898" stroke-width="0.8" />
<rect x="417.45" y="57.65" width="4.00" height="52.85" fill="#f3c08a" />
<line x1="419.45" y1="110.50" x2="419.45" y2="113.50" stroke="#222" stroke-width="0.8" />
<text x="421.35" y="116.80" font-size="5.0" text-anchor="end" fill="#4a4a4a" stroke="#4a4a4a" stroke-width="0.14" font-style="italic" transform="rotate(-90 421.35 116.80)">IFN-α</text>
<line x1="425.55" y1="81.06" x2="425.55" y2="80.30" stroke="#f0c898" stroke-width="0.9" />
<line x1="424.55" y1="80.30" x2="426.55" y2="80.30" stroke="#f0c898" stroke-width="0.8" />
<rect x="423.55" y="81.06" width="4.00" height="29.45" fill="#f3c08a" />
<line x1="425.55" y1="110.50" x2="425.55" y2="113.50" stroke="#222" stroke-width="0.8" />
<text x="427.45" y="116.80" font-size="5.0" text-anchor="end" fill="#4a4a4a" stroke="#4a4a4a" stroke-width="0.14" font-style="italic" transform="rotate(-90 427.45 116.80)">IFN-β</text>
<line x1="439.50" y1="86.04" x2="439.50" y2="85.58" stroke="#f2d8c0" stroke-width="0.9" />
<line x1="438.50" y1="85.58" x2="440.50" y2="85.58" stroke="#f2d8c0" stroke-width="0.8" />
<rect x="437.50" y="86.04" width="4.00" height="24.46" fill="#f5dcc4" />
<line x1="439.50" y1="110.50" x2="439.50" y2="113.50" stroke="#222" stroke-width="0.8" />
<text x="441.40" y="116.80" font-size="5.0" text-anchor="end" fill="#4a4a4a" stroke="#4a4a4a" stroke-width="0.14" transform="rotate(-90 441.40 116.80)">ISG15</text>
<line x1="445.52" y1="78.34" x2="445.52" y2="77.88" stroke="#f2d8c0" stroke-width="0.9" />
<line x1="444.52" y1="77.88" x2="446.52" y2="77.88" stroke="#f2d8c0" stroke-width="0.8" />
<rect x="443.52" y="78.34" width="4.00" height="32.16" fill="#f5dcc4" />
<line x1="445.52" y1="110.50" x2="445.52" y2="113.50" stroke="#222" stroke-width="0.8" />
<text x="447.42" y="116.80" font-size="5.0" text-anchor="end" fill="#4a4a4a" stroke="#4a4a4a" stroke-width="0.14" font-style="italic" transform="rotate(-90 447.42 116.80)">IFIT2</text>
<rect x="449.54" y="84.83" width="4.00" height="25.67" fill="#f5dcc4" />
<line x1="451.54" y1="110.50" x2="451.54" y2="113.50" stroke="#222" stroke-width="0.8" />
<text x="453.44" y="116.80" font-size="5.0" text-anchor="end" fill="#4a4a4a" stroke="#4a4a4a" stroke-width="0.14" font-style="italic" transform="rotate(-90 453.44 116.80)">IFIT3</text>
<rect x="455.56" y="83.02" width="4.00" height="27.48" fill="#f5dcc4" />
<line x1="457.56" y1="110.50" x2="457.56" y2="113.50" stroke="#222" stroke-width="0.8" />
<text x="459.46" y="116.80" font-size="5.0" text-anchor="end" fill="#4a4a4a" stroke="#4a4a4a" stroke-width="0.14" transform="rotate(-90 459.46 116.80)">CXCL10</text>
<line x1="463.58" y1="79.85" x2="463.58" y2="66.56" stroke="#f2d8c0" stroke-width="0.9" />
<line x1="462.58" y1="66.56" x2="464.58" y2="66.56" stroke="#f2d8c0" stroke-width="0.8" />
<rect x="461.58" y="79.85" width="4.00" height="30.65" fill="#f5dcc4" />
<line x1="463.58" y1="110.50" x2="463.58" y2="113.50" stroke="#222" stroke-width="0.8" />
<text x="465.48" y="116.80" font-size="5.0" text-anchor="end" fill="#4a4a4a" stroke="#4a4a4a" stroke-width="0.14" font-style="italic" transform="rotate(-90 465.48 116.80)">IFN-α</text>
<line x1="469.60" y1="87.25" x2="469.60" y2="77.58" stroke="#f2d8c0" stroke-width="0.9" />
<line x1="468.60" y1="77.58" x2="470.60" y2="77.58" stroke="#f2d8c0" stroke-width="0.8" />
<rect x="467.60" y="87.25" width="4.00" height="23.25" fill="#f5dcc4" />
<line x1="469.60" y1="110.50" x2="469.60" y2="113.50" stroke="#222" stroke-width="0.8" />
<text x="471.50" y="116.80" font-size="5.0" text-anchor="end" fill="#4a4a4a" stroke="#4a4a4a" stroke-width="0.14" font-style="italic" transform="rotate(-90 471.50 116.80)">IFN-β</text>
<line x1="303.10" y1="32.30" x2="303.10" y2="111.00" stroke="#222" stroke-width="1.0" />
<line x1="302.60" y1="110.50" x2="473.70" y2="110.50" stroke="#222" stroke-width="1.0" />
<line x1="300.10" y1="110.50" x2="303.10" y2="110.50" stroke="#222" stroke-width="0.85" />
<text x="295.50" y="112.10" font-size="4.4" text-anchor="middle" fill="#666" stroke="#666" stroke-width="0.14">0</text>
<line x1="300.10" y1="95.40" x2="303.10" y2="95.40" stroke="#222" stroke-width="0.85" />
<text x="295.50" y="97.00" font-size="4.4" text-anchor="middle" fill="#666" stroke="#666" stroke-width="0.14">1</text>
<line x1="300.10" y1="80.30" x2="303.10" y2="80.30" stroke="#222" stroke-width="0.85" />
<text x="295.50" y="81.90" font-size="4.4" text-anchor="middle" fill="#666" stroke="#666" stroke-width="0.14">2</text>
<line x1="300.10" y1="65.20" x2="303.10" y2="65.20" stroke="#222" stroke-width="0.85" />
<text x="295.50" y="66.80" font-size="4.4" text-anchor="middle" fill="#666" stroke="#666" stroke-width="0.14">3</text>
<line x1="300.10" y1="50.10" x2="303.10" y2="50.10" stroke="#222" stroke-width="0.85" />
<text x="295.50" y="51.70" font-size="4.4" text-anchor="middle" fill="#666" stroke="#666" stroke-width="0.14">4</text>
<line x1="300.10" y1="35.00" x2="303.10" y2="35.00" stroke="#222" stroke-width="0.85" />
<text x="295.50" y="36.60" font-size="4.4" text-anchor="middle" fill="#666" stroke="#666" stroke-width="0.14">5</text>
<text x="479.10" y="61.50" font-size="5.2" text-anchor="start" fill="#333" stroke="#333" stroke-width="0.14" textLength="26.00" lengthAdjust="spacingAndGlyphs">RPMI-8226</text>
<line x1="479.10" y1="63.50" x2="505.60" y2="63.50" stroke="#444" stroke-width="0.65" />
<rect x="479.10" y="66.75" width="7.70" height="2.50" fill="#3c1e0a" />
<text x="489.70" y="69.80" font-size="5.3" text-anchor="start" fill="#555" stroke="#555" stroke-width="0.14">shSCR</text>
<rect x="479.10" y="73.55" width="7.70" height="2.50" fill="#e07e14" />
<text x="489.70" y="76.60" font-size="5.3" text-anchor="start" fill="#555" stroke="#555" stroke-width="0.14">shMDA5</text>
<rect x="479.10" y="80.45" width="7.70" height="2.50" fill="#f4c48c" />
<text x="489.70" y="83.50" font-size="5.3" text-anchor="start" fill="#555" stroke="#555" stroke-width="0.14">shRIG-I</text>
<rect x="479.10" y="87.05" width="7.70" height="2.50" fill="#f4e0d2" />
<text x="489.70" y="90.10" font-size="5.3" text-anchor="start" fill="#555" stroke="#555" stroke-width="0.14">shPKR</text>
<text x="385.00" y="157.90" font-size="8.2" text-anchor="middle" fill="#1a1a1a" textLength="64.20" lengthAdjust="spacingAndGlyphs">shADAR1 vs shSCR</text>
<text x="285.10" y="201.90" font-size="6.2" text-anchor="middle" fill="#3a3a3a" stroke="#3a3a3a" stroke-width="0.14" textLength="71.00" lengthAdjust="spacingAndGlyphs" transform="rotate(-90 285.10 201.90)">Relative mRNA expression</text>
<line x1="300.70" y1="215.50" x2="471.20" y2="215.50" stroke="#c4c4c4" stroke-width="0.6" />
<line x1="304.75" y1="216.49" x2="304.75" y2="213.52" stroke="#d06070" stroke-width="0.9" />
<line x1="303.75" y1="213.52" x2="305.75" y2="213.52" stroke="#d06070" stroke-width="0.8" />
<rect x="302.75" y="216.49" width="4.00" height="23.81" fill="#b8122e" />
<line x1="304.75" y1="240.30" x2="304.75" y2="243.30" stroke="#222" stroke-width="0.8" />
<text x="306.65" y="246.60" font-size="5.0" text-anchor="end" fill="#4a4a4a" stroke="#4a4a4a" stroke-width="0.14" transform="rotate(-90 306.65 246.60)">ISG15</text>
<line x1="310.80" y1="193.92" x2="310.80" y2="190.70" stroke="#d06070" stroke-width="0.9" />
<line x1="309.80" y1="190.70" x2="311.80" y2="190.70" stroke="#d06070" stroke-width="0.8" />
<rect x="308.80" y="193.92" width="4.00" height="46.38" fill="#b8122e" />
<line x1="310.80" y1="240.30" x2="310.80" y2="243.30" stroke="#222" stroke-width="0.8" />
<text x="312.70" y="246.60" font-size="5.0" text-anchor="end" fill="#4a4a4a" stroke="#4a4a4a" stroke-width="0.14" font-style="italic" transform="rotate(-90 312.70 246.60)">IFIT2</text>
<line x1="316.85" y1="192.19" x2="316.85" y2="184.25" stroke="#d06070" stroke-width="0.9" />
<line x1="315.85" y1="184.25" x2="317.85" y2="184.25" stroke="#d06070" stroke-width="0.8" />
<rect x="314.85" y="192.19" width="4.00" height="48.11" fill="#b8122e" />
<line x1="316.85" y1="240.30" x2="316.85" y2="243.30" stroke="#222" stroke-width="0.8" />
<text x="318.75" y="246.60" font-size="5.0" text-anchor="end" fill="#4a4a4a" stroke="#4a4a4a" stroke-width="0.14" font-style="italic" transform="rotate(-90 318.75 246.60)">IFIT3</text>
<line x1="322.90" y1="211.28" x2="322.90" y2="205.33" stroke="#d06070" stroke-width="0.9" />
<line x1="321.90" y1="205.33" x2="323.90" y2="205.33" stroke="#d06070" stroke-width="0.8" />
<rect x="320.90" y="211.28" width="4.00" height="29.02" fill="#b8122e" />
<line x1="322.90" y1="240.30" x2="322.90" y2="243.30" stroke="#222" stroke-width="0.8" />
<text x="324.80" y="246.60" font-size="5.0" text-anchor="end" fill="#4a4a4a" stroke="#4a4a4a" stroke-width="0.14" transform="rotate(-90 324.80 246.60)">CXCL10</text>
<line x1="328.95" y1="173.34" x2="328.95" y2="170.12" stroke="#d06070" stroke-width="0.9" />
<line x1="327.95" y1="170.12" x2="329.95" y2="170.12" stroke="#d06070" stroke-width="0.8" />
<rect x="326.95" y="173.34" width="4.00" height="66.96" fill="#b8122e" />
<line x1="328.95" y1="240.30" x2="328.95" y2="243.30" stroke="#222" stroke-width="0.8" />
<text x="330.85" y="246.60" font-size="5.0" text-anchor="end" fill="#4a4a4a" stroke="#4a4a4a" stroke-width="0.14" font-style="italic" transform="rotate(-90 330.85 246.60)">IFN-α</text>
<line x1="335.00" y1="183.51" x2="335.00" y2="182.76" stroke="#d06070" stroke-width="0.9" />
<line x1="334.00" y1="182.76" x2="336.00" y2="182.76" stroke="#d06070" stroke-width="0.8" />
<rect x="333.00" y="183.51" width="4.00" height="56.79" fill="#b8122e" />
<line x1="335.00" y1="240.30" x2="335.00" y2="243.30" stroke="#222" stroke-width="0.8" />
<text x="336.90" y="246.60" font-size="5.0" text-anchor="end" fill="#4a4a4a" stroke="#4a4a4a" stroke-width="0.14" font-style="italic" transform="rotate(-90 336.90 246.60)">IFN-β</text>
<line x1="348.75" y1="230.88" x2="348.75" y2="229.39" stroke="#e09a90" stroke-width="0.9" />
<line x1="347.75" y1="229.39" x2="349.75" y2="229.39" stroke="#e09a90" stroke-width="0.8" />
<rect x="346.75" y="230.88" width="4.00" height="9.42" fill="#da786c" />
<line x1="348.75" y1="240.30" x2="348.75" y2="243.30" stroke="#222" stroke-width="0.8" />
<text x="350.65" y="246.60" font-size="5.0" text-anchor="end" fill="#4a4a4a" stroke="#4a4a4a" stroke-width="0.14" transform="rotate(-90 350.65 246.60)">ISG15</text>
<line x1="354.80" y1="223.93" x2="354.80" y2="222.44" stroke="#e09a90" stroke-width="0.9" />
<line x1="353.80" y1="222.44" x2="355.80" y2="222.44" stroke="#e09a90" stroke-width="0.8" />
<rect x="352.80" y="223.93" width="4.00" height="16.37" fill="#da786c" />
<line x1="354.80" y1="240.30" x2="354.80" y2="243.30" stroke="#222" stroke-width="0.8" />
<text x="356.70" y="246.60" font-size="5.0" text-anchor="end" fill="#4a4a4a" stroke="#4a4a4a" stroke-width="0.14" font-style="italic" transform="rotate(-90 356.70 246.60)">IFIT2</text>
<line x1="360.85" y1="220.96" x2="360.85" y2="219.96" stroke="#e09a90" stroke-width="0.9" />
<line x1="359.85" y1="219.96" x2="361.85" y2="219.96" stroke="#e09a90" stroke-width="0.8" />
<rect x="358.85" y="220.96" width="4.00" height="19.34" fill="#da786c" />
<line x1="360.85" y1="240.30" x2="360.85" y2="243.30" stroke="#222" stroke-width="0.8" />
<text x="362.75" y="246.60" font-size="5.0" text-anchor="end" fill="#4a4a4a" stroke="#4a4a4a" stroke-width="0.14" font-style="italic" transform="rotate(-90 362.75 246.60)">IFIT3</text>
<line x1="366.90" y1="234.10" x2="366.90" y2="233.11" stroke="#e09a90" stroke-width="0.9" />
<line x1="365.90" y1="233.11" x2="367.90" y2="233.11" stroke="#e09a90" stroke-width="0.8" />
<rect x="364.90" y="234.10" width="4.00" height="6.20" fill="#da786c" />
<line x1="366.90" y1="240.30" x2="366.90" y2="243.30" stroke="#222" stroke-width="0.8" />
<text x="368.80" y="246.60" font-size="5.0" text-anchor="end" fill="#4a4a4a" stroke="#4a4a4a" stroke-width="0.14" transform="rotate(-90 368.80 246.60)">CXCL10</text>
<line x1="372.95" y1="229.88" x2="372.95" y2="229.14" stroke="#e09a90" stroke-width="0.9" />
<line x1="371.95" y1="229.14" x2="373.95" y2="229.14" stroke="#e09a90" stroke-width="0.8" />
<rect x="370.95" y="229.88" width="4.00" height="10.42" fill="#da786c" />
<line x1="372.95" y1="240.30" x2="372.95" y2="243.30" stroke="#222" stroke-width="0.8" />
<text x="374.85" y="246.60" font-size="5.0" text-anchor="end" fill="#4a4a4a" stroke="#4a4a4a" stroke-width="0.14" font-style="italic" transform="rotate(-90 374.85 246.60)">IFN-α</text>
<line x1="379.00" y1="228.64" x2="379.00" y2="227.65" stroke="#e09a90" stroke-width="0.9" />
<line x1="378.00" y1="227.65" x2="380.00" y2="227.65" stroke="#e09a90" stroke-width="0.8" />
<rect x="377.00" y="228.64" width="4.00" height="11.66" fill="#da786c" />
<line x1="379.00" y1="240.30" x2="379.00" y2="243.30" stroke="#222" stroke-width="0.8" />
<text x="380.90" y="246.60" font-size="5.0" text-anchor="end" fill="#4a4a4a" stroke="#4a4a4a" stroke-width="0.14" font-style="italic" transform="rotate(-90 380.90 246.60)">IFN-β</text>
<line x1="392.80" y1="219.72" x2="392.80" y2="214.51" stroke="#e8b0a8" stroke-width="0.9" />
<line x1="391.80" y1="214.51" x2="393.80" y2="214.51" stroke="#e8b0a8" stroke-width="0.8" />
<rect x="390.80" y="219.72" width="4.00" height="20.58" fill="#e9aaa2" />
<line x1="392.80" y1="240.30" x2="392.80" y2="243.30" stroke="#222" stroke-width="0.8" />
<text x="394.70" y="246.60" font-size="5.0" text-anchor="end" fill="#4a4a4a" stroke="#4a4a4a" stroke-width="0.14" transform="rotate(-90 394.70 246.60)">ISG15</text>
<line x1="398.88" y1="208.56" x2="398.88" y2="205.83" stroke="#e8b0a8" stroke-width="0.9" />
<line x1="397.88" y1="205.83" x2="399.88" y2="205.83" stroke="#e8b0a8" stroke-width="0.8" />
<rect x="396.88" y="208.56" width="4.00" height="31.74" fill="#e9aaa2" />
<line x1="398.88" y1="240.30" x2="398.88" y2="243.30" stroke="#222" stroke-width="0.8" />
<text x="400.78" y="246.60" font-size="5.0" text-anchor="end" fill="#4a4a4a" stroke="#4a4a4a" stroke-width="0.14" font-style="italic" transform="rotate(-90 400.78 246.60)">IFIT2</text>
<line x1="404.96" y1="203.35" x2="404.96" y2="192.93" stroke="#e8b0a8" stroke-width="0.9" />
<line x1="403.96" y1="192.93" x2="405.96" y2="192.93" stroke="#e8b0a8" stroke-width="0.8" />
<rect x="402.96" y="203.35" width="4.00" height="36.95" fill="#e9aaa2" />
<line x1="404.96" y1="240.30" x2="404.96" y2="243.30" stroke="#222" stroke-width="0.8" />
<text x="406.86" y="246.60" font-size="5.0" text-anchor="end" fill="#4a4a4a" stroke="#4a4a4a" stroke-width="0.14" font-style="italic" transform="rotate(-90 406.86 246.60)">IFIT3</text>
<line x1="411.04" y1="207.81" x2="411.04" y2="206.57" stroke="#e8b0a8" stroke-width="0.9" />
<line x1="410.04" y1="206.57" x2="412.04" y2="206.57" stroke="#e8b0a8" stroke-width="0.8" />
<rect x="409.04" y="207.81" width="4.00" height="32.49" fill="#e9aaa2" />
<line x1="411.04" y1="240.30" x2="411.04" y2="243.30" stroke="#222" stroke-width="0.8" />
<text x="412.94" y="246.60" font-size="5.0" text-anchor="end" fill="#4a4a4a" stroke="#4a4a4a" stroke-width="0.14" transform="rotate(-90 412.94 246.60)">CXCL10</text>
<line x1="417.12" y1="203.35" x2="417.12" y2="193.68" stroke="#e8b0a8" stroke-width="0.9" />
<line x1="416.12" y1="193.68" x2="418.12" y2="193.68" stroke="#e8b0a8" stroke-width="0.8" />
<rect x="415.12" y="203.35" width="4.00" height="36.95" fill="#e9aaa2" />
<line x1="417.12" y1="240.30" x2="417.12" y2="243.30" stroke="#222" stroke-width="0.8" />
<text x="419.02" y="246.60" font-size="5.0" text-anchor="end" fill="#4a4a4a" stroke="#4a4a4a" stroke-width="0.14" font-style="italic" transform="rotate(-90 419.02 246.60)">IFN-α</text>
<line x1="423.20" y1="173.09" x2="423.20" y2="170.36" stroke="#e8b0a8" stroke-width="0.9" />
<line x1="422.20" y1="170.36" x2="424.20" y2="170.36" stroke="#e8b0a8" stroke-width="0.8" />
<rect x="421.20" y="173.09" width="4.00" height="67.21" fill="#e9aaa2" />
<line x1="423.20" y1="240.30" x2="423.20" y2="243.30" stroke="#222" stroke-width="0.8" />
<text x="425.10" y="246.60" font-size="5.0" text-anchor="end" fill="#4a4a4a" stroke="#4a4a4a" stroke-width="0.14" font-style="italic" transform="rotate(-90 425.10 246.60)">IFN-β</text>
<line x1="437.00" y1="208.56" x2="437.00" y2="207.32" stroke="#f0d0c8" stroke-width="0.9" />
<line x1="436.00" y1="207.32" x2="438.00" y2="207.32" stroke="#f0d0c8" stroke-width="0.8" />
<rect x="435.00" y="208.56" width="4.00" height="31.74" fill="#f2d2ca" />
<line x1="437.00" y1="240.30" x2="437.00" y2="243.30" stroke="#222" stroke-width="0.8" />
<text x="438.90" y="246.60" font-size="5.0" text-anchor="end" fill="#4a4a4a" stroke="#4a4a4a" stroke-width="0.14" transform="rotate(-90 438.90 246.60)">ISG15</text>
<line x1="443.06" y1="197.40" x2="443.06" y2="196.16" stroke="#f0d0c8" stroke-width="0.9" />
<line x1="442.06" y1="196.16" x2="444.06" y2="196.16" stroke="#f0d0c8" stroke-width="0.8" />
<rect x="441.06" y="197.40" width="4.00" height="42.90" fill="#f2d2ca" />
<line x1="443.06" y1="240.30" x2="443.06" y2="243.30" stroke="#222" stroke-width="0.8" />
<text x="444.96" y="246.60" font-size="5.0" text-anchor="end" fill="#4a4a4a" stroke="#4a4a4a" stroke-width="0.14" font-style="italic" transform="rotate(-90 444.96 246.60)">IFIT2</text>
<rect x="447.12" y="205.08" width="4.00" height="35.22" fill="#f2d2ca" />
<line x1="449.12" y1="240.30" x2="449.12" y2="243.30" stroke="#222" stroke-width="0.8" />
<text x="451.02" y="246.60" font-size="5.0" text-anchor="end" fill="#4a4a4a" stroke="#4a4a4a" stroke-width="0.14" font-style="italic" transform="rotate(-90 451.02 246.60)">IFIT3</text>
<rect x="453.18" y="225.42" width="4.00" height="14.88" fill="#f2d2ca" />
<line x1="455.18" y1="240.30" x2="455.18" y2="243.30" stroke="#222" stroke-width="0.8" />
<text x="457.08" y="246.60" font-size="5.0" text-anchor="end" fill="#4a4a4a" stroke="#4a4a4a" stroke-width="0.14" transform="rotate(-90 457.08 246.60)">CXCL10</text>
<line x1="461.24" y1="187.72" x2="461.24" y2="184.25" stroke="#f0d0c8" stroke-width="0.9" />
<line x1="460.24" y1="184.25" x2="462.24" y2="184.25" stroke="#f0d0c8" stroke-width="0.8" />
<rect x="459.24" y="187.72" width="4.00" height="52.58" fill="#f2d2ca" />
<line x1="461.24" y1="240.30" x2="461.24" y2="243.30" stroke="#222" stroke-width="0.8" />
<text x="463.14" y="246.60" font-size="5.0" text-anchor="end" fill="#4a4a4a" stroke="#4a4a4a" stroke-width="0.14" font-style="italic" transform="rotate(-90 463.14 246.60)">IFN-α</text>
<line x1="467.30" y1="209.80" x2="467.30" y2="199.88" stroke="#f0d0c8" stroke-width="0.9" />
<line x1="466.30" y1="199.88" x2="468.30" y2="199.88" stroke="#f0d0c8" stroke-width="0.8" />
<rect x="465.30" y="209.80" width="4.00" height="30.50" fill="#f2d2ca" />
<line x1="467.30" y1="240.30" x2="467.30" y2="243.30" stroke="#222" stroke-width="0.8" />
<text x="469.20" y="246.60" font-size="5.0" text-anchor="end" fill="#4a4a4a" stroke="#4a4a4a" stroke-width="0.14" font-style="italic" transform="rotate(-90 469.20 246.60)">IFN-β</text>
<line x1="300.70" y1="163.80" x2="300.70" y2="240.80" stroke="#222" stroke-width="1.0" />
<line x1="300.20" y1="240.30" x2="471.20" y2="240.30" stroke="#222" stroke-width="1.0" />
<line x1="297.70" y1="240.30" x2="300.70" y2="240.30" stroke="#222" stroke-width="0.85" />
<text x="293.10" y="241.90" font-size="4.4" text-anchor="middle" fill="#666" stroke="#666" stroke-width="0.14">0</text>
<line x1="297.70" y1="215.50" x2="300.70" y2="215.50" stroke="#222" stroke-width="0.85" />
<text x="293.10" y="217.10" font-size="4.4" text-anchor="middle" fill="#666" stroke="#666" stroke-width="0.14">1</text>
<line x1="297.70" y1="190.70" x2="300.70" y2="190.70" stroke="#222" stroke-width="0.85" />
<text x="293.10" y="192.30" font-size="4.4" text-anchor="middle" fill="#666" stroke="#666" stroke-width="0.14">2</text>
<line x1="297.70" y1="165.90" x2="300.70" y2="165.90" stroke="#222" stroke-width="0.85" />
<text x="293.10" y="167.50" font-size="4.4" text-anchor="middle" fill="#666" stroke="#666" stroke-width="0.14">3</text>
<text x="479.10" y="168.10" font-size="5.2" text-anchor="start" fill="#333" stroke="#333" stroke-width="0.14" textLength="22.90" lengthAdjust="spacingAndGlyphs">OCI-MY5</text>
<line x1="479.10" y1="170.10" x2="502.50" y2="170.10" stroke="#444" stroke-width="0.65" />
<rect x="479.10" y="173.95" width="7.70" height="2.50" fill="#a8102a" />
<text x="489.70" y="177.00" font-size="5.3" text-anchor="start" fill="#555" stroke="#555" stroke-width="0.14">shSCR</text>
<rect x="479.10" y="180.45" width="7.70" height="2.50" fill="#cc646a" />
<text x="489.70" y="183.50" font-size="5.3" text-anchor="start" fill="#555" stroke="#555" stroke-width="0.14">shMDA5</text>
<rect x="479.10" y="187.75" width="7.70" height="2.50" fill="#e8b0ac" />
<text x="489.70" y="190.80" font-size="5.3" text-anchor="start" fill="#555" stroke="#555" stroke-width="0.14">shRIG-I</text>
<rect x="479.10" y="194.25" width="7.70" height="2.50" fill="#f0dcd4" />
<text x="489.70" y="197.30" font-size="5.3" text-anchor="start" fill="#555" stroke="#555" stroke-width="0.14">shPKR</text>
<text x="6.90" y="293.40" font-size="11.2" text-anchor="start" fill="#111" stroke="#111" stroke-width="0.35" font-weight="bold" textLength="7.20" lengthAdjust="spacingAndGlyphs">C</text>
<line x1="43.80" y1="317.24" x2="43.80" y2="313.38" stroke="#4a1c5a" stroke-width="0.9" />
<line x1="42.70" y1="313.38" x2="44.90" y2="313.38" stroke="#4a1c5a" stroke-width="0.8" />
<rect x="42.25" y="317.24" width="3.10" height="71.37" fill="#4a1c5a" />
<line x1="48.00" y1="315.31" x2="48.00" y2="306.62" stroke="#9072a0" stroke-width="0.9" />
<line x1="46.90" y1="306.62" x2="49.10" y2="306.62" stroke="#9072a0" stroke-width="0.8" />
<rect x="46.45" y="315.31" width="3.10" height="73.30" fill="#9072a0" />
<line x1="52.20" y1="316.75" x2="52.20" y2="311.44" stroke="#b8a6c6" stroke-width="0.9" />
<line x1="51.10" y1="311.44" x2="53.30" y2="311.44" stroke="#b8a6c6" stroke-width="0.8" />
<rect x="50.65" y="316.75" width="3.10" height="71.85" fill="#b8a6c6" />
<line x1="56.40" y1="318.20" x2="56.40" y2="314.34" stroke="#d8d0de" stroke-width="0.9" />
<line x1="55.30" y1="314.34" x2="57.50" y2="314.34" stroke="#d8d0de" stroke-width="0.8" />
<rect x="54.85" y="318.20" width="3.10" height="70.40" fill="#d8d0de" />
<line x1="65.90" y1="323.99" x2="65.90" y2="319.17" stroke="#4a1c5a" stroke-width="0.9" />
<line x1="64.80" y1="319.17" x2="67.00" y2="319.17" stroke="#4a1c5a" stroke-width="0.8" />
<rect x="64.35" y="323.99" width="3.10" height="64.61" fill="#4a1c5a" />
<line x1="70.10" y1="321.10" x2="70.10" y2="311.44" stroke="#9072a0" stroke-width="0.9" />
<line x1="69.00" y1="311.44" x2="71.20" y2="311.44" stroke="#9072a0" stroke-width="0.8" />
<rect x="68.55" y="321.10" width="3.10" height="67.50" fill="#9072a0" />
<line x1="74.30" y1="323.99" x2="74.30" y2="313.38" stroke="#b8a6c6" stroke-width="0.9" />
<line x1="73.20" y1="313.38" x2="75.40" y2="313.38" stroke="#b8a6c6" stroke-width="0.8" />
<rect x="72.75" y="323.99" width="3.10" height="64.61" fill="#b8a6c6" />
<line x1="78.50" y1="324.95" x2="78.50" y2="316.27" stroke="#d8d0de" stroke-width="0.9" />
<line x1="77.40" y1="316.27" x2="79.60" y2="316.27" stroke="#d8d0de" stroke-width="0.8" />
<rect x="76.95" y="324.95" width="3.10" height="63.65" fill="#d8d0de" />
<line x1="88.00" y1="325.44" x2="88.00" y2="319.17" stroke="#4a1c5a" stroke-width="0.9" />
<line x1="86.90" y1="319.17" x2="89.10" y2="319.17" stroke="#4a1c5a" stroke-width="0.8" />
<rect x="86.45" y="325.44" width="3.10" height="63.16" fill="#4a1c5a" />
<line x1="92.20" y1="325.44" x2="92.20" y2="320.13" stroke="#9072a0" stroke-width="0.9" />
<line x1="91.10" y1="320.13" x2="93.30" y2="320.13" stroke="#9072a0" stroke-width="0.8" />
<rect x="90.65" y="325.44" width="3.10" height="63.16" fill="#9072a0" />
<line x1="96.40" y1="327.85" x2="96.40" y2="319.17" stroke="#b8a6c6" stroke-width="0.9" />
<line x1="95.30" y1="319.17" x2="97.50" y2="319.17" stroke="#b8a6c6" stroke-width="0.8" />
<rect x="94.85" y="327.85" width="3.10" height="60.75" fill="#b8a6c6" />
<line x1="100.60" y1="328.81" x2="100.60" y2="324.95" stroke="#d8d0de" stroke-width="0.9" />
<line x1="99.50" y1="324.95" x2="101.70" y2="324.95" stroke="#d8d0de" stroke-width="0.8" />
<rect x="99.05" y="328.81" width="3.10" height="59.79" fill="#d8d0de" />
<line x1="110.10" y1="332.68" x2="110.10" y2="323.99" stroke="#4a1c5a" stroke-width="0.9" />
<line x1="109.00" y1="323.99" x2="111.20" y2="323.99" stroke="#4a1c5a" stroke-width="0.8" />
<rect x="108.55" y="332.68" width="3.10" height="55.93" fill="#4a1c5a" />
<line x1="114.30" y1="329.78" x2="114.30" y2="321.10" stroke="#9072a0" stroke-width="0.9" />
<line x1="113.20" y1="321.10" x2="115.40" y2="321.10" stroke="#9072a0" stroke-width="0.8" />
<rect x="112.75" y="329.78" width="3.10" height="58.82" fill="#9072a0" />
<line x1="118.50" y1="332.68" x2="118.50" y2="319.17" stroke="#b8a6c6" stroke-width="0.9" />
<line x1="117.40" y1="319.17" x2="119.60" y2="319.17" stroke="#b8a6c6" stroke-width="0.8" />
<rect x="116.95" y="332.68" width="3.10" height="55.93" fill="#b8a6c6" />
<line x1="122.70" y1="333.64" x2="122.70" y2="325.92" stroke="#d8d0de" stroke-width="0.9" />
<line x1="121.60" y1="325.92" x2="123.80" y2="325.92" stroke="#d8d0de" stroke-width="0.8" />
<rect x="121.15" y="333.64" width="3.10" height="54.96" fill="#d8d0de" />
<rect x="37.00" y="357.40" width="88.00" height="6.50" fill="#fff" />
<line x1="41.00" y1="297.40" x2="41.00" y2="357.30" stroke="#222" stroke-width="1.0" />
<line x1="41.00" y1="364.00" x2="41.00" y2="389.10" stroke="#222" stroke-width="1.0" />
<line x1="40.50" y1="388.60" x2="124.40" y2="388.60" stroke="#222" stroke-width="1.0" />
<line x1="38.00" y1="356.80" x2="41.00" y2="356.80" stroke="#222" stroke-width="0.85" />
<text x="32.30" y="358.70" font-size="5.3" text-anchor="middle" fill="#4a4a4a" stroke="#4a4a4a" stroke-width="0.14" textLength="6.90" lengthAdjust="spacingAndGlyphs">0.6</text>
<line x1="38.00" y1="347.15" x2="41.00" y2="347.15" stroke="#222" stroke-width="0.85" />
<text x="32.30" y="349.05" font-size="5.3" text-anchor="middle" fill="#4a4a4a" stroke="#4a4a4a" stroke-width="0.14" textLength="6.90" lengthAdjust="spacingAndGlyphs">0.7</text>
<line x1="38.00" y1="337.50" x2="41.00" y2="337.50" stroke="#222" stroke-width="0.85" />
<text x="32.30" y="339.40" font-size="5.3" text-anchor="middle" fill="#4a4a4a" stroke="#4a4a4a" stroke-width="0.14" textLength="6.90" lengthAdjust="spacingAndGlyphs">0.8</text>
<line x1="38.00" y1="327.85" x2="41.00" y2="327.85" stroke="#222" stroke-width="0.85" />
<text x="32.30" y="329.75" font-size="5.3" text-anchor="middle" fill="#4a4a4a" stroke="#4a4a4a" stroke-width="0.14" textLength="6.90" lengthAdjust="spacingAndGlyphs">0.9</text>
<line x1="38.00" y1="318.20" x2="41.00" y2="318.20" stroke="#222" stroke-width="0.85" />
<text x="32.30" y="320.10" font-size="5.3" text-anchor="middle" fill="#4a4a4a" stroke="#4a4a4a" stroke-width="0.14" textLength="6.90" lengthAdjust="spacingAndGlyphs">1.0</text>
<line x1="38.00" y1="308.55" x2="41.00" y2="308.55" stroke="#222" stroke-width="0.85" />
<text x="32.30" y="310.45" font-size="5.3" text-anchor="middle" fill="#4a4a4a" stroke="#4a4a4a" stroke-width="0.14" textLength="6.90" lengthAdjust="spacingAndGlyphs">1.1</text>
<line x1="38.00" y1="298.90" x2="41.00" y2="298.90" stroke="#222" stroke-width="0.85" />
<text x="32.30" y="300.80" font-size="5.3" text-anchor="middle" fill="#4a4a4a" stroke="#4a4a4a" stroke-width="0.14" textLength="6.90" lengthAdjust="spacingAndGlyphs">1.2</text>
<line x1="38.00" y1="388.60" x2="41.00" y2="388.60" stroke="#222" stroke-width="0.85" />
<text x="32.30" y="390.50" font-size="5.3" text-anchor="middle" fill="#4a4a4a" stroke="#4a4a4a" stroke-width="0.14" textLength="6.90" lengthAdjust="spacingAndGlyphs">0.0</text>
<line x1="38.00" y1="380.40" x2="41.00" y2="380.40" stroke="#222" stroke-width="0.85" />
<text x="32.30" y="382.30" font-size="5.3" text-anchor="middle" fill="#4a4a4a" stroke="#4a4a4a" stroke-width="0.14" textLength="6.90" lengthAdjust="spacingAndGlyphs">0.1</text>
<line x1="38.00" y1="372.20" x2="41.00" y2="372.20" stroke="#222" stroke-width="0.85" />
<text x="32.30" y="374.10" font-size="5.3" text-anchor="middle" fill="#4a4a4a" stroke="#4a4a4a" stroke-width="0.14" textLength="6.90" lengthAdjust="spacingAndGlyphs">0.2</text>
<line x1="38.00" y1="364.00" x2="41.00" y2="364.00" stroke="#222" stroke-width="0.85" />
<text x="32.30" y="365.90" font-size="5.3" text-anchor="middle" fill="#4a4a4a" stroke="#4a4a4a" stroke-width="0.14" textLength="6.90" lengthAdjust="spacingAndGlyphs">0.3</text>
<line x1="50.10" y1="388.60" x2="50.10" y2="390.40" stroke="#222" stroke-width="0.7" />
<text x="50.10" y="399.00" font-size="5.1" text-anchor="middle" fill="#4a4a4a" stroke="#4a4a4a" stroke-width="0.14" textLength="15.75" lengthAdjust="spacingAndGlyphs">0.4 μM</text>
<line x1="72.20" y1="388.60" x2="72.20" y2="390.40" stroke="#222" stroke-width="0.7" />
<text x="72.20" y="399.00" font-size="5.1" text-anchor="middle" fill="#4a4a4a" stroke="#4a4a4a" stroke-width="0.14" textLength="15.75" lengthAdjust="spacingAndGlyphs">1.6 μM</text>
<line x1="94.30" y1="388.60" x2="94.30" y2="390.40" stroke="#222" stroke-width="0.7" />
<text x="94.30" y="399.00" font-size="5.1" text-anchor="middle" fill="#4a4a4a" stroke="#4a4a4a" stroke-width="0.14" textLength="19.00" lengthAdjust="spacingAndGlyphs">6.25 μM</text>
<line x1="116.40" y1="388.60" x2="116.40" y2="390.40" stroke="#222" stroke-width="0.7" />
<text x="116.40" y="399.00" font-size="5.1" text-anchor="middle" fill="#4a4a4a" stroke="#4a4a4a" stroke-width="0.14" textLength="13.50" lengthAdjust="spacingAndGlyphs">25 μM</text>
<text x="82.50" y="410.30" font-size="6.8" text-anchor="middle" fill="#3a3a3a" textLength="36.00" lengthAdjust="spacingAndGlyphs">Lenalidomide</text>
<text x="14.00" y="343.70" font-size="6.2" text-anchor="middle" fill="#3a3a3a" stroke="#3a3a3a" stroke-width="0.14" textLength="53.00" lengthAdjust="spacingAndGlyphs" transform="rotate(-90 14.00 343.70)">Relative cell viability</text>
<text x="22.40" y="344.20" font-size="6.2" text-anchor="middle" fill="#3a3a3a" stroke="#3a3a3a" stroke-width="0.14" textLength="35.00" lengthAdjust="spacingAndGlyphs" transform="rotate(-90 22.40 344.20)">(fold change)</text>
<text x="42.20" y="419.30" font-size="5.15" text-anchor="start" fill="#333" stroke="#333" stroke-width="0.14" textLength="43.75" lengthAdjust="spacingAndGlyphs">RPMI-8226 shSCR</text>
<line x1="42.20" y1="421.50" x2="87.15" y2="421.50" stroke="#444" stroke-width="0.65" />
<rect x="42.80" y="425.10" width="6.00" height="2.60" fill="#4a1c5a" />
<text x="51.70" y="428.20" font-size="5.0" text-anchor="start" fill="#555" stroke="#555" stroke-width="0.14">shSCR</text>
<rect x="42.80" y="430.60" width="6.00" height="2.60" fill="#9072a0" />
<text x="51.70" y="433.70" font-size="5.0" text-anchor="start" fill="#555" stroke="#555" stroke-width="0.14">shMDA5</text>
<rect x="76.40" y="425.10" width="6.00" height="2.60" fill="#b8a6c6" />
<text x="85.30" y="428.20" font-size="5.0" text-anchor="start" fill="#555" stroke="#555" stroke-width="0.14">shRIG-I</text>
<rect x="76.40" y="430.60" width="6.00" height="2.60" fill="#d8d0de" />
<text x="85.30" y="433.70" font-size="5.0" text-anchor="start" fill="#555" stroke="#555" stroke-width="0.14">shPKR</text>
<line x1="173.20" y1="329.78" x2="173.20" y2="323.99" stroke="#5c3414" stroke-width="0.9" />
<line x1="172.10" y1="323.99" x2="174.30" y2="323.99" stroke="#5c3414" stroke-width="0.8" />
<rect x="171.65" y="329.78" width="3.10" height="58.82" fill="#5c3414" />
<line x1="177.40" y1="314.34" x2="177.40" y2="312.41" stroke="#e8921e" stroke-width="0.9" />
<line x1="176.30" y1="312.41" x2="178.50" y2="312.41" stroke="#e8921e" stroke-width="0.8" />
<rect x="175.85" y="314.34" width="3.10" height="74.26" fill="#e8921e" />
<line x1="181.60" y1="323.03" x2="181.60" y2="321.10" stroke="#f4c890" stroke-width="0.9" />
<line x1="180.50" y1="321.10" x2="182.70" y2="321.10" stroke="#f4c890" stroke-width="0.8" />
<rect x="180.05" y="323.03" width="3.10" height="65.57" fill="#f4c890" />
<line x1="185.80" y1="326.88" x2="185.80" y2="325.92" stroke="#f8e2c8" stroke-width="0.9" />
<line x1="184.70" y1="325.92" x2="186.90" y2="325.92" stroke="#f8e2c8" stroke-width="0.8" />
<rect x="184.25" y="326.88" width="3.10" height="61.72" fill="#f8e2c8" />
<line x1="195.30" y1="334.61" x2="195.30" y2="331.71" stroke="#5c3414" stroke-width="0.9" />
<line x1="194.20" y1="331.71" x2="196.40" y2="331.71" stroke="#5c3414" stroke-width="0.8" />
<rect x="193.75" y="334.61" width="3.10" height="54.00" fill="#5c3414" />
<line x1="199.50" y1="314.34" x2="199.50" y2="312.41" stroke="#e8921e" stroke-width="0.9" />
<line x1="198.40" y1="312.41" x2="200.60" y2="312.41" stroke="#e8921e" stroke-width="0.8" />
<rect x="197.95" y="314.34" width="3.10" height="74.26" fill="#e8921e" />
<text x="199.50" y="314.01" font-size="5.8" text-anchor="middle" fill="#333" stroke="#333" stroke-width="0.14">**</text>
<line x1="203.70" y1="331.71" x2="203.70" y2="328.81" stroke="#f4c890" stroke-width="0.9" />
<line x1="202.60" y1="328.81" x2="204.80" y2="328.81" stroke="#f4c890" stroke-width="0.8" />
<rect x="202.15" y="331.71" width="3.10" height="56.89" fill="#f4c890" />
<line x1="207.90" y1="330.75" x2="207.90" y2="329.78" stroke="#f8e2c8" stroke-width="0.9" />
<line x1="206.80" y1="329.78" x2="209.00" y2="329.78" stroke="#f8e2c8" stroke-width="0.8" />
<rect x="206.35" y="330.75" width="3.10" height="57.86" fill="#f8e2c8" />
<line x1="217.40" y1="342.32" x2="217.40" y2="340.39" stroke="#5c3414" stroke-width="0.9" />
<line x1="216.30" y1="340.39" x2="218.50" y2="340.39" stroke="#5c3414" stroke-width="0.8" />
<rect x="215.85" y="342.32" width="3.10" height="46.28" fill="#5c3414" />
<line x1="221.60" y1="320.13" x2="221.60" y2="318.20" stroke="#e8921e" stroke-width="0.9" />
<line x1="220.50" y1="318.20" x2="222.70" y2="318.20" stroke="#e8921e" stroke-width="0.8" />
<rect x="220.05" y="320.13" width="3.10" height="68.47" fill="#e8921e" />
<text x="221.60" y="319.80" font-size="5.8" text-anchor="middle" fill="#333" stroke="#333" stroke-width="0.14">**</text>
<line x1="225.80" y1="334.61" x2="225.80" y2="332.68" stroke="#f4c890" stroke-width="0.9" />
<line x1="224.70" y1="332.68" x2="226.90" y2="332.68" stroke="#f4c890" stroke-width="0.8" />
<rect x="224.25" y="334.61" width="3.10" height="54.00" fill="#f4c890" />
<line x1="230.00" y1="337.50" x2="230.00" y2="336.54" stroke="#f8e2c8" stroke-width="0.9" />
<line x1="228.90" y1="336.54" x2="231.10" y2="336.54" stroke="#f8e2c8" stroke-width="0.8" />
<rect x="228.45" y="337.50" width="3.10" height="51.10" fill="#f8e2c8" />
<line x1="239.50" y1="351.49" x2="239.50" y2="348.12" stroke="#5c3414" stroke-width="0.9" />
<line x1="238.40" y1="348.12" x2="240.60" y2="348.12" stroke="#5c3414" stroke-width="0.8" />
<rect x="237.95" y="351.49" width="3.10" height="37.11" fill="#5c3414" />
<line x1="243.70" y1="331.71" x2="243.70" y2="323.03" stroke="#e8921e" stroke-width="0.9" />
<line x1="242.60" y1="323.03" x2="244.80" y2="323.03" stroke="#e8921e" stroke-width="0.8" />
<rect x="242.15" y="331.71" width="3.10" height="56.89" fill="#e8921e" />
<text x="243.70" y="324.63" font-size="5.8" text-anchor="middle" fill="#333" stroke="#333" stroke-width="0.14">**</text>
<line x1="247.90" y1="343.29" x2="247.90" y2="340.39" stroke="#f4c890" stroke-width="0.9" />
<line x1="246.80" y1="340.39" x2="249.00" y2="340.39" stroke="#f4c890" stroke-width="0.8" />
<rect x="246.35" y="343.29" width="3.10" height="45.31" fill="#f4c890" />
<text x="247.90" y="342.00" font-size="5.8" text-anchor="middle" fill="#333" stroke="#333" stroke-width="0.14">*</text>
<line x1="252.10" y1="346.19" x2="252.10" y2="345.22" stroke="#f8e2c8" stroke-width="0.9" />
<line x1="251.00" y1="345.22" x2="253.20" y2="345.22" stroke="#f8e2c8" stroke-width="0.8" />
<rect x="250.55" y="346.19" width="3.10" height="42.42" fill="#f8e2c8" />
<rect x="166.40" y="357.40" width="88.00" height="6.50" fill="#fff" />
<line x1="170.40" y1="297.40" x2="170.40" y2="357.30" stroke="#222" stroke-width="1.0" />
<line x1="170.40" y1="364.00" x2="170.40" y2="389.10" stroke="#222" stroke-width="1.0" />
<line x1="169.90" y1="388.60" x2="253.80" y2="388.60" stroke="#222" stroke-width="1.0" />
<line x1="167.40" y1="356.80" x2="170.40" y2="356.80" stroke="#222" stroke-width="0.85" />
<text x="161.70" y="358.70" font-size="5.3" text-anchor="middle" fill="#4a4a4a" stroke="#4a4a4a" stroke-width="0.14" textLength="6.90" lengthAdjust="spacingAndGlyphs">0.6</text>
<line x1="167.40" y1="347.15" x2="170.40" y2="347.15" stroke="#222" stroke-width="0.85" />
<text x="161.70" y="349.05" font-size="5.3" text-anchor="middle" fill="#4a4a4a" stroke="#4a4a4a" stroke-width="0.14" textLength="6.90" lengthAdjust="spacingAndGlyphs">0.7</text>
<line x1="167.40" y1="337.50" x2="170.40" y2="337.50" stroke="#222" stroke-width="0.85" />
<text x="161.70" y="339.40" font-size="5.3" text-anchor="middle" fill="#4a4a4a" stroke="#4a4a4a" stroke-width="0.14" textLength="6.90" lengthAdjust="spacingAndGlyphs">0.8</text>
<line x1="167.40" y1="327.85" x2="170.40" y2="327.85" stroke="#222" stroke-width="0.85" />
<text x="161.70" y="329.75" font-size="5.3" text-anchor="middle" fill="#4a4a4a" stroke="#4a4a4a" stroke-width="0.14" textLength="6.90" lengthAdjust="spacingAndGlyphs">0.9</text>
<line x1="167.40" y1="318.20" x2="170.40" y2="318.20" stroke="#222" stroke-width="0.85" />
<text x="161.70" y="320.10" font-size="5.3" text-anchor="middle" fill="#4a4a4a" stroke="#4a4a4a" stroke-width="0.14" textLength="6.90" lengthAdjust="spacingAndGlyphs">1.0</text>
<line x1="167.40" y1="308.55" x2="170.40" y2="308.55" stroke="#222" stroke-width="0.85" />
<text x="161.70" y="310.45" font-size="5.3" text-anchor="middle" fill="#4a4a4a" stroke="#4a4a4a" stroke-width="0.14" textLength="6.90" lengthAdjust="spacingAndGlyphs">1.1</text>
<line x1="167.40" y1="298.90" x2="170.40" y2="298.90" stroke="#222" stroke-width="0.85" />
<text x="161.70" y="300.80" font-size="5.3" text-anchor="middle" fill="#4a4a4a" stroke="#4a4a4a" stroke-width="0.14" textLength="6.90" lengthAdjust="spacingAndGlyphs">1.2</text>
<line x1="167.40" y1="388.60" x2="170.40" y2="388.60" stroke="#222" stroke-width="0.85" />
<text x="161.70" y="390.50" font-size="5.3" text-anchor="middle" fill="#4a4a4a" stroke="#4a4a4a" stroke-width="0.14" textLength="6.90" lengthAdjust="spacingAndGlyphs">0.0</text>
<line x1="167.40" y1="380.40" x2="170.40" y2="380.40" stroke="#222" stroke-width="0.85" />
<text x="161.70" y="382.30" font-size="5.3" text-anchor="middle" fill="#4a4a4a" stroke="#4a4a4a" stroke-width="0.14" textLength="6.90" lengthAdjust="spacingAndGlyphs">0.1</text>
<line x1="167.40" y1="372.20" x2="170.40" y2="372.20" stroke="#222" stroke-width="0.85" />
<text x="161.70" y="374.10" font-size="5.3" text-anchor="middle" fill="#4a4a4a" stroke="#4a4a4a" stroke-width="0.14" textLength="6.90" lengthAdjust="spacingAndGlyphs">0.2</text>
<line x1="167.40" y1="364.00" x2="170.40" y2="364.00" stroke="#222" stroke-width="0.85" />
<text x="161.70" y="365.90" font-size="5.3" text-anchor="middle" fill="#4a4a4a" stroke="#4a4a4a" stroke-width="0.14" textLength="6.90" lengthAdjust="spacingAndGlyphs">0.3</text>
<line x1="179.50" y1="388.60" x2="179.50" y2="390.40" stroke="#222" stroke-width="0.7" />
<text x="179.50" y="399.00" font-size="5.1" text-anchor="middle" fill="#4a4a4a" stroke="#4a4a4a" stroke-width="0.14" textLength="15.75" lengthAdjust="spacingAndGlyphs">0.4 μM</text>
<line x1="201.60" y1="388.60" x2="201.60" y2="390.40" stroke="#222" stroke-width="0.7" />
<text x="201.60" y="399.00" font-size="5.1" text-anchor="middle" fill="#4a4a4a" stroke="#4a4a4a" stroke-width="0.14" textLength="15.75" lengthAdjust="spacingAndGlyphs">1.6 μM</text>
<line x1="223.70" y1="388.60" x2="223.70" y2="390.40" stroke="#222" stroke-width="0.7" />
<text x="223.70" y="399.00" font-size="5.1" text-anchor="middle" fill="#4a4a4a" stroke="#4a4a4a" stroke-width="0.14" textLength="19.00" lengthAdjust="spacingAndGlyphs">6.25 μM</text>
<line x1="245.80" y1="388.60" x2="245.80" y2="390.40" stroke="#222" stroke-width="0.7" />
<text x="245.80" y="399.00" font-size="5.1" text-anchor="middle" fill="#4a4a4a" stroke="#4a4a4a" stroke-width="0.14" textLength="13.50" lengthAdjust="spacingAndGlyphs">25 μM</text>
<text x="211.90" y="410.30" font-size="6.8" text-anchor="middle" fill="#3a3a3a" textLength="36.00" lengthAdjust="spacingAndGlyphs">Lenalidomide</text>
<text x="143.40" y="343.70" font-size="6.2" text-anchor="middle" fill="#3a3a3a" stroke="#3a3a3a" stroke-width="0.14" textLength="53.00" lengthAdjust="spacingAndGlyphs" transform="rotate(-90 143.40 343.70)">Relative cell viability</text>
<text x="151.80" y="344.20" font-size="6.2" text-anchor="middle" fill="#3a3a3a" stroke="#3a3a3a" stroke-width="0.14" textLength="35.00" lengthAdjust="spacingAndGlyphs" transform="rotate(-90 151.80 344.20)">(fold change)</text>
<text x="171.60" y="419.30" font-size="5.15" text-anchor="start" fill="#333" stroke="#333" stroke-width="0.14" textLength="51.50" lengthAdjust="spacingAndGlyphs">RPMI-8226 shADAR1</text>
<line x1="171.60" y1="421.50" x2="224.30" y2="421.50" stroke="#444" stroke-width="0.65" />
<rect x="172.20" y="425.10" width="6.00" height="2.60" fill="#5c3414" />
<text x="181.10" y="428.20" font-size="5.0" text-anchor="start" fill="#555" stroke="#555" stroke-width="0.14">shSCR</text>
<rect x="172.20" y="430.60" width="6.00" height="2.60" fill="#e8921e" />
<text x="181.10" y="433.70" font-size="5.0" text-anchor="start" fill="#555" stroke="#555" stroke-width="0.14">shMDA5</text>
<rect x="205.80" y="425.10" width="6.00" height="2.60" fill="#f4c890" />
<text x="214.70" y="428.20" font-size="5.0" text-anchor="start" fill="#555" stroke="#555" stroke-width="0.14">shRIG-I</text>
<rect x="205.80" y="430.60" width="6.00" height="2.60" fill="#f8e2c8" />
<text x="214.70" y="433.70" font-size="5.0" text-anchor="start" fill="#555" stroke="#555" stroke-width="0.14">shPKR</text>
<line x1="303.40" y1="308.07" x2="303.40" y2="302.76" stroke="#0e2c60" stroke-width="0.9" />
<line x1="302.30" y1="302.76" x2="304.50" y2="302.76" stroke="#0e2c60" stroke-width="0.8" />
<rect x="301.85" y="308.07" width="3.10" height="80.53" fill="#0e2c60" />
<line x1="307.60" y1="312.41" x2="307.60" y2="309.51" stroke="#3e5c8c" stroke-width="0.9" />
<line x1="306.50" y1="309.51" x2="308.70" y2="309.51" stroke="#3e5c8c" stroke-width="0.8" />
<rect x="306.05" y="312.41" width="3.10" height="76.19" fill="#3e5c8c" />
<line x1="311.80" y1="315.31" x2="311.80" y2="311.44" stroke="#7888aa" stroke-width="0.9" />
<line x1="310.70" y1="311.44" x2="312.90" y2="311.44" stroke="#7888aa" stroke-width="0.8" />
<rect x="310.25" y="315.31" width="3.10" height="73.30" fill="#7888aa" />
<line x1="316.00" y1="314.34" x2="316.00" y2="310.96" stroke="#c2cade" stroke-width="0.9" />
<line x1="314.90" y1="310.96" x2="317.10" y2="310.96" stroke="#c2cade" stroke-width="0.8" />
<rect x="314.45" y="314.34" width="3.10" height="74.26" fill="#c2cade" />
<line x1="325.50" y1="314.82" x2="325.50" y2="307.58" stroke="#0e2c60" stroke-width="0.9" />
<line x1="324.40" y1="307.58" x2="326.60" y2="307.58" stroke="#0e2c60" stroke-width="0.8" />
<rect x="323.95" y="314.82" width="3.10" height="73.78" fill="#0e2c60" />
<line x1="329.70" y1="319.17" x2="329.70" y2="314.34" stroke="#3e5c8c" stroke-width="0.9" />
<line x1="328.60" y1="314.34" x2="330.80" y2="314.34" stroke="#3e5c8c" stroke-width="0.8" />
<rect x="328.15" y="319.17" width="3.10" height="69.44" fill="#3e5c8c" />
<line x1="333.90" y1="318.68" x2="333.90" y2="311.44" stroke="#7888aa" stroke-width="0.9" />
<line x1="332.80" y1="311.44" x2="335.00" y2="311.44" stroke="#7888aa" stroke-width="0.8" />
<rect x="332.35" y="318.68" width="3.10" height="69.92" fill="#7888aa" />
<line x1="338.10" y1="314.34" x2="338.10" y2="306.62" stroke="#c2cade" stroke-width="0.9" />
<line x1="337.00" y1="306.62" x2="339.20" y2="306.62" stroke="#c2cade" stroke-width="0.8" />
<rect x="336.55" y="314.34" width="3.10" height="74.26" fill="#c2cade" />
<line x1="347.60" y1="312.41" x2="347.60" y2="305.66" stroke="#0e2c60" stroke-width="0.9" />
<line x1="346.50" y1="305.66" x2="348.70" y2="305.66" stroke="#0e2c60" stroke-width="0.8" />
<rect x="346.05" y="312.41" width="3.10" height="76.19" fill="#0e2c60" />
<line x1="351.80" y1="319.17" x2="351.80" y2="313.38" stroke="#3e5c8c" stroke-width="0.9" />
<line x1="350.70" y1="313.38" x2="352.90" y2="313.38" stroke="#3e5c8c" stroke-width="0.8" />
<rect x="350.25" y="319.17" width="3.10" height="69.44" fill="#3e5c8c" />
<line x1="356.00" y1="320.13" x2="356.00" y2="318.20" stroke="#7888aa" stroke-width="0.9" />
<line x1="354.90" y1="318.20" x2="357.10" y2="318.20" stroke="#7888aa" stroke-width="0.8" />
<rect x="354.45" y="320.13" width="3.10" height="68.47" fill="#7888aa" />
<line x1="360.20" y1="320.61" x2="360.20" y2="314.34" stroke="#c2cade" stroke-width="0.9" />
<line x1="359.10" y1="314.34" x2="361.30" y2="314.34" stroke="#c2cade" stroke-width="0.8" />
<rect x="358.65" y="320.61" width="3.10" height="67.99" fill="#c2cade" />
<line x1="369.70" y1="319.17" x2="369.70" y2="316.27" stroke="#0e2c60" stroke-width="0.9" />
<line x1="368.60" y1="316.27" x2="370.80" y2="316.27" stroke="#0e2c60" stroke-width="0.8" />
<rect x="368.15" y="319.17" width="3.10" height="69.44" fill="#0e2c60" />
<line x1="373.90" y1="314.34" x2="373.90" y2="310.48" stroke="#3e5c8c" stroke-width="0.9" />
<line x1="372.80" y1="310.48" x2="375.00" y2="310.48" stroke="#3e5c8c" stroke-width="0.8" />
<rect x="372.35" y="314.34" width="3.10" height="74.26" fill="#3e5c8c" />
<line x1="378.10" y1="318.20" x2="378.10" y2="314.34" stroke="#7888aa" stroke-width="0.9" />
<line x1="377.00" y1="314.34" x2="379.20" y2="314.34" stroke="#7888aa" stroke-width="0.8" />
<rect x="376.55" y="318.20" width="3.10" height="70.40" fill="#7888aa" />
<line x1="382.30" y1="317.24" x2="382.30" y2="311.44" stroke="#c2cade" stroke-width="0.9" />
<line x1="381.20" y1="311.44" x2="383.40" y2="311.44" stroke="#c2cade" stroke-width="0.8" />
<rect x="380.75" y="317.24" width="3.10" height="71.37" fill="#c2cade" />
<rect x="296.60" y="357.40" width="88.00" height="6.50" fill="#fff" />
<line x1="300.60" y1="297.40" x2="300.60" y2="357.30" stroke="#222" stroke-width="1.0" />
<line x1="300.60" y1="364.00" x2="300.60" y2="389.10" stroke="#222" stroke-width="1.0" />
<line x1="300.10" y1="388.60" x2="384.00" y2="388.60" stroke="#222" stroke-width="1.0" />
<line x1="297.60" y1="356.80" x2="300.60" y2="356.80" stroke="#222" stroke-width="0.85" />
<text x="291.90" y="358.70" font-size="5.3" text-anchor="middle" fill="#4a4a4a" stroke="#4a4a4a" stroke-width="0.14" textLength="6.90" lengthAdjust="spacingAndGlyphs">0.6</text>
<line x1="297.60" y1="347.15" x2="300.60" y2="347.15" stroke="#222" stroke-width="0.85" />
<text x="291.90" y="349.05" font-size="5.3" text-anchor="middle" fill="#4a4a4a" stroke="#4a4a4a" stroke-width="0.14" textLength="6.90" lengthAdjust="spacingAndGlyphs">0.7</text>
<line x1="297.60" y1="337.50" x2="300.60" y2="337.50" stroke="#222" stroke-width="0.85" />
<text x="291.90" y="339.40" font-size="5.3" text-anchor="middle" fill="#4a4a4a" stroke="#4a4a4a" stroke-width="0.14" textLength="6.90" lengthAdjust="spacingAndGlyphs">0.8</text>
<line x1="297.60" y1="327.85" x2="300.60" y2="327.85" stroke="#222" stroke-width="0.85" />
<text x="291.90" y="329.75" font-size="5.3" text-anchor="middle" fill="#4a4a4a" stroke="#4a4a4a" stroke-width="0.14" textLength="6.90" lengthAdjust="spacingAndGlyphs">0.9</text>
<line x1="297.60" y1="318.20" x2="300.60" y2="318.20" stroke="#222" stroke-width="0.85" />
<text x="291.90" y="320.10" font-size="5.3" text-anchor="middle" fill="#4a4a4a" stroke="#4a4a4a" stroke-width="0.14" textLength="6.90" lengthAdjust="spacingAndGlyphs">1.0</text>
<line x1="297.60" y1="308.55" x2="300.60" y2="308.55" stroke="#222" stroke-width="0.85" />
<text x="291.90" y="310.45" font-size="5.3" text-anchor="middle" fill="#4a4a4a" stroke="#4a4a4a" stroke-width="0.14" textLength="6.90" lengthAdjust="spacingAndGlyphs">1.1</text>
<line x1="297.60" y1="298.90" x2="300.60" y2="298.90" stroke="#222" stroke-width="0.85" />
<text x="291.90" y="300.80" font-size="5.3" text-anchor="middle" fill="#4a4a4a" stroke="#4a4a4a" stroke-width="0.14" textLength="6.90" lengthAdjust="spacingAndGlyphs">1.2</text>
<line x1="297.60" y1="388.60" x2="300.60" y2="388.60" stroke="#222" stroke-width="0.85" />
<text x="291.90" y="390.50" font-size="5.3" text-anchor="middle" fill="#4a4a4a" stroke="#4a4a4a" stroke-width="0.14" textLength="6.90" lengthAdjust="spacingAndGlyphs">0.0</text>
<line x1="297.60" y1="380.40" x2="300.60" y2="380.40" stroke="#222" stroke-width="0.85" />
<text x="291.90" y="382.30" font-size="5.3" text-anchor="middle" fill="#4a4a4a" stroke="#4a4a4a" stroke-width="0.14" textLength="6.90" lengthAdjust="spacingAndGlyphs">0.1</text>
<line x1="297.60" y1="372.20" x2="300.60" y2="372.20" stroke="#222" stroke-width="0.85" />
<text x="291.90" y="374.10" font-size="5.3" text-anchor="middle" fill="#4a4a4a" stroke="#4a4a4a" stroke-width="0.14" textLength="6.90" lengthAdjust="spacingAndGlyphs">0.2</text>
<line x1="297.60" y1="364.00" x2="300.60" y2="364.00" stroke="#222" stroke-width="0.85" />
<text x="291.90" y="365.90" font-size="5.3" text-anchor="middle" fill="#4a4a4a" stroke="#4a4a4a" stroke-width="0.14" textLength="6.90" lengthAdjust="spacingAndGlyphs">0.3</text>
<line x1="309.70" y1="388.60" x2="309.70" y2="390.40" stroke="#222" stroke-width="0.7" />
<text x="309.70" y="399.00" font-size="5.1" text-anchor="middle" fill="#4a4a4a" stroke="#4a4a4a" stroke-width="0.14" textLength="15.75" lengthAdjust="spacingAndGlyphs">0.4 μM</text>
<line x1="331.80" y1="388.60" x2="331.80" y2="390.40" stroke="#222" stroke-width="0.7" />
<text x="331.80" y="399.00" font-size="5.1" text-anchor="middle" fill="#4a4a4a" stroke="#4a4a4a" stroke-width="0.14" textLength="15.75" lengthAdjust="spacingAndGlyphs">1.6 μM</text>
<line x1="353.90" y1="388.60" x2="353.90" y2="390.40" stroke="#222" stroke-width="0.7" />
<text x="353.90" y="399.00" font-size="5.1" text-anchor="middle" fill="#4a4a4a" stroke="#4a4a4a" stroke-width="0.14" textLength="19.00" lengthAdjust="spacingAndGlyphs">6.25 μM</text>
<line x1="376.00" y1="388.60" x2="376.00" y2="390.40" stroke="#222" stroke-width="0.7" />
<text x="376.00" y="399.00" font-size="5.1" text-anchor="middle" fill="#4a4a4a" stroke="#4a4a4a" stroke-width="0.14" textLength="13.50" lengthAdjust="spacingAndGlyphs">25 μM</text>
<text x="342.10" y="410.30" font-size="6.8" text-anchor="middle" fill="#3a3a3a" textLength="36.00" lengthAdjust="spacingAndGlyphs">Lenalidomide</text>
<text x="273.60" y="343.70" font-size="6.2" text-anchor="middle" fill="#3a3a3a" stroke="#3a3a3a" stroke-width="0.14" textLength="53.00" lengthAdjust="spacingAndGlyphs" transform="rotate(-90 273.60 343.70)">Relative cell viability</text>
<text x="282.00" y="344.20" font-size="6.2" text-anchor="middle" fill="#3a3a3a" stroke="#3a3a3a" stroke-width="0.14" textLength="35.00" lengthAdjust="spacingAndGlyphs" transform="rotate(-90 282.00 344.20)">(fold change)</text>
<text x="301.80" y="419.30" font-size="5.15" text-anchor="start" fill="#333" stroke="#333" stroke-width="0.14" textLength="40.00" lengthAdjust="spacingAndGlyphs">OCI-MY5 shSCR</text>
<line x1="301.80" y1="421.50" x2="343.00" y2="421.50" stroke="#444" stroke-width="0.65" />
<rect x="302.40" y="425.10" width="6.00" height="2.60" fill="#0e2c60" />
<text x="311.30" y="428.20" font-size="5.0" text-anchor="start" fill="#555" stroke="#555" stroke-width="0.14">shSCR</text>
<rect x="302.40" y="430.60" width="6.00" height="2.60" fill="#3e5c8c" />
<text x="311.30" y="433.70" font-size="5.0" text-anchor="start" fill="#555" stroke="#555" stroke-width="0.14">shMDA5</text>
<rect x="336.00" y="425.10" width="6.00" height="2.60" fill="#7888aa" />
<text x="344.90" y="428.20" font-size="5.0" text-anchor="start" fill="#555" stroke="#555" stroke-width="0.14">shRIG-I</text>
<rect x="336.00" y="430.60" width="6.00" height="2.60" fill="#c2cade" />
<text x="344.90" y="433.70" font-size="5.0" text-anchor="start" fill="#555" stroke="#555" stroke-width="0.14">shPKR</text>
<line x1="431.70" y1="328.81" x2="431.70" y2="322.06" stroke="#b0122c" stroke-width="0.9" />
<line x1="430.60" y1="322.06" x2="432.80" y2="322.06" stroke="#b0122c" stroke-width="0.8" />
<rect x="430.15" y="328.81" width="3.10" height="59.79" fill="#b0122c" />
<line x1="435.90" y1="320.61" x2="435.90" y2="313.86" stroke="#d27272" stroke-width="0.9" />
<line x1="434.80" y1="313.86" x2="437.00" y2="313.86" stroke="#d27272" stroke-width="0.8" />
<rect x="434.35" y="320.61" width="3.10" height="67.99" fill="#d27272" />
<line x1="440.10" y1="324.95" x2="440.10" y2="322.06" stroke="#e8b0a8" stroke-width="0.9" />
<line x1="439.00" y1="322.06" x2="441.20" y2="322.06" stroke="#e8b0a8" stroke-width="0.8" />
<rect x="438.55" y="324.95" width="3.10" height="63.65" fill="#e8b0a8" />
<line x1="444.30" y1="324.47" x2="444.30" y2="321.58" stroke="#f2d2ca" stroke-width="0.9" />
<line x1="443.20" y1="321.58" x2="445.40" y2="321.58" stroke="#f2d2ca" stroke-width="0.8" />
<rect x="442.75" y="324.47" width="3.10" height="64.13" fill="#f2d2ca" />
<line x1="453.80" y1="332.19" x2="453.80" y2="325.92" stroke="#b0122c" stroke-width="0.9" />
<line x1="452.70" y1="325.92" x2="454.90" y2="325.92" stroke="#b0122c" stroke-width="0.8" />
<rect x="452.25" y="332.19" width="3.10" height="56.41" fill="#b0122c" />
<line x1="458.00" y1="319.17" x2="458.00" y2="318.68" stroke="#d27272" stroke-width="0.9" />
<line x1="456.90" y1="318.68" x2="459.10" y2="318.68" stroke="#d27272" stroke-width="0.8" />
<rect x="456.45" y="319.17" width="3.10" height="69.44" fill="#d27272" />
<line x1="462.20" y1="329.30" x2="462.20" y2="322.54" stroke="#e8b0a8" stroke-width="0.9" />
<line x1="461.10" y1="322.54" x2="463.30" y2="322.54" stroke="#e8b0a8" stroke-width="0.8" />
<rect x="460.65" y="329.30" width="3.10" height="59.30" fill="#e8b0a8" />
<line x1="466.40" y1="327.85" x2="466.40" y2="326.88" stroke="#f2d2ca" stroke-width="0.9" />
<line x1="465.30" y1="326.88" x2="467.50" y2="326.88" stroke="#f2d2ca" stroke-width="0.8" />
<rect x="464.85" y="327.85" width="3.10" height="60.75" fill="#f2d2ca" />
<line x1="475.90" y1="337.50" x2="475.90" y2="334.61" stroke="#b0122c" stroke-width="0.9" />
<line x1="474.80" y1="334.61" x2="477.00" y2="334.61" stroke="#b0122c" stroke-width="0.8" />
<rect x="474.35" y="337.50" width="3.10" height="51.10" fill="#b0122c" />
<line x1="480.10" y1="322.06" x2="480.10" y2="318.20" stroke="#d27272" stroke-width="0.9" />
<line x1="479.00" y1="318.20" x2="481.20" y2="318.20" stroke="#d27272" stroke-width="0.8" />
<rect x="478.55" y="322.06" width="3.10" height="66.54" fill="#d27272" />
<text x="480.10" y="319.80" font-size="5.8" text-anchor="middle" fill="#333" stroke="#333" stroke-width="0.14">**</text>
<line x1="484.30" y1="332.68" x2="484.30" y2="327.85" stroke="#e8b0a8" stroke-width="0.9" />
<line x1="483.20" y1="327.85" x2="485.40" y2="327.85" stroke="#e8b0a8" stroke-width="0.8" />
<rect x="482.75" y="332.68" width="3.10" height="55.93" fill="#e8b0a8" />
<line x1="488.50" y1="331.23" x2="488.50" y2="330.75" stroke="#f2d2ca" stroke-width="0.9" />
<line x1="487.40" y1="330.75" x2="489.60" y2="330.75" stroke="#f2d2ca" stroke-width="0.8" />
<rect x="486.95" y="331.23" width="3.10" height="57.37" fill="#f2d2ca" />
<line x1="498.00" y1="344.25" x2="498.00" y2="338.47" stroke="#b0122c" stroke-width="0.9" />
<line x1="496.90" y1="338.47" x2="499.10" y2="338.47" stroke="#b0122c" stroke-width="0.8" />
<rect x="496.45" y="344.25" width="3.10" height="44.35" fill="#b0122c" />
<line x1="502.20" y1="323.03" x2="502.20" y2="317.24" stroke="#d27272" stroke-width="0.9" />
<line x1="501.10" y1="317.24" x2="503.30" y2="317.24" stroke="#d27272" stroke-width="0.8" />
<rect x="500.65" y="323.03" width="3.10" height="65.57" fill="#d27272" />
<text x="502.20" y="318.84" font-size="5.8" text-anchor="middle" fill="#333" stroke="#333" stroke-width="0.14">**</text>
<line x1="506.40" y1="333.64" x2="506.40" y2="330.75" stroke="#e8b0a8" stroke-width="0.9" />
<line x1="505.30" y1="330.75" x2="507.50" y2="330.75" stroke="#e8b0a8" stroke-width="0.8" />
<rect x="504.85" y="333.64" width="3.10" height="54.96" fill="#e8b0a8" />
<line x1="510.60" y1="334.61" x2="510.60" y2="334.12" stroke="#f2d2ca" stroke-width="0.9" />
<line x1="509.50" y1="334.12" x2="511.70" y2="334.12" stroke="#f2d2ca" stroke-width="0.8" />
<rect x="509.05" y="334.61" width="3.10" height="54.00" fill="#f2d2ca" />
<rect x="424.90" y="357.40" width="88.00" height="6.50" fill="#fff" />
<line x1="428.90" y1="297.40" x2="428.90" y2="357.30" stroke="#222" stroke-width="1.0" />
<line x1="428.90" y1="364.00" x2="428.90" y2="389.10" stroke="#222" stroke-width="1.0" />
<line x1="428.40" y1="388.60" x2="512.30" y2="388.60" stroke="#222" stroke-width="1.0" />
<line x1="425.90" y1="356.80" x2="428.90" y2="356.80" stroke="#222" stroke-width="0.85" />
<text x="420.20" y="358.70" font-size="5.3" text-anchor="middle" fill="#4a4a4a" stroke="#4a4a4a" stroke-width="0.14" textLength="6.90" lengthAdjust="spacingAndGlyphs">0.6</text>
<line x1="425.90" y1="347.15" x2="428.90" y2="347.15" stroke="#222" stroke-width="0.85" />
<text x="420.20" y="349.05" font-size="5.3" text-anchor="middle" fill="#4a4a4a" stroke="#4a4a4a" stroke-width="0.14" textLength="6.90" lengthAdjust="spacingAndGlyphs">0.7</text>
<line x1="425.90" y1="337.50" x2="428.90" y2="337.50" stroke="#222" stroke-width="0.85" />
<text x="420.20" y="339.40" font-size="5.3" text-anchor="middle" fill="#4a4a4a" stroke="#4a4a4a" stroke-width="0.14" textLength="6.90" lengthAdjust="spacingAndGlyphs">0.8</text>
<line x1="425.90" y1="327.85" x2="428.90" y2="327.85" stroke="#222" stroke-width="0.85" />
<text x="420.20" y="329.75" font-size="5.3" text-anchor="middle" fill="#4a4a4a" stroke="#4a4a4a" stroke-width="0.14" textLength="6.90" lengthAdjust="spacingAndGlyphs">0.9</text>
<line x1="425.90" y1="318.20" x2="428.90" y2="318.20" stroke="#222" stroke-width="0.85" />
<text x="420.20" y="320.10" font-size="5.3" text-anchor="middle" fill="#4a4a4a" stroke="#4a4a4a" stroke-width="0.14" textLength="6.90" lengthAdjust="spacingAndGlyphs">1.0</text>
<line x1="425.90" y1="308.55" x2="428.90" y2="308.55" stroke="#222" stroke-width="0.85" />
<text x="420.20" y="310.45" font-size="5.3" text-anchor="middle" fill="#4a4a4a" stroke="#4a4a4a" stroke-width="0.14" textLength="6.90" lengthAdjust="spacingAndGlyphs">1.1</text>
<line x1="425.90" y1="298.90" x2="428.90" y2="298.90" stroke="#222" stroke-width="0.85" />
<text x="420.20" y="300.80" font-size="5.3" text-anchor="middle" fill="#4a4a4a" stroke="#4a4a4a" stroke-width="0.14" textLength="6.90" lengthAdjust="spacingAndGlyphs">1.2</text>
<line x1="425.90" y1="388.60" x2="428.90" y2="388.60" stroke="#222" stroke-width="0.85" />
<text x="420.20" y="390.50" font-size="5.3" text-anchor="middle" fill="#4a4a4a" stroke="#4a4a4a" stroke-width="0.14" textLength="6.90" lengthAdjust="spacingAndGlyphs">0.0</text>
<line x1="425.90" y1="380.40" x2="428.90" y2="380.40" stroke="#222" stroke-width="0.85" />
<text x="420.20" y="382.30" font-size="5.3" text-anchor="middle" fill="#4a4a4a" stroke="#4a4a4a" stroke-width="0.14" textLength="6.90" lengthAdjust="spacingAndGlyphs">0.1</text>
<line x1="425.90" y1="372.20" x2="428.90" y2="372.20" stroke="#222" stroke-width="0.85" />
<text x="420.20" y="374.10" font-size="5.3" text-anchor="middle" fill="#4a4a4a" stroke="#4a4a4a" stroke-width="0.14" textLength="6.90" lengthAdjust="spacingAndGlyphs">0.2</text>
<line x1="425.90" y1="364.00" x2="428.90" y2="364.00" stroke="#222" stroke-width="0.85" />
<text x="420.20" y="365.90" font-size="5.3" text-anchor="middle" fill="#4a4a4a" stroke="#4a4a4a" stroke-width="0.14" textLength="6.90" lengthAdjust="spacingAndGlyphs">0.3</text>
<line x1="438.00" y1="388.60" x2="438.00" y2="390.40" stroke="#222" stroke-width="0.7" />
<text x="438.00" y="399.00" font-size="5.1" text-anchor="middle" fill="#4a4a4a" stroke="#4a4a4a" stroke-width="0.14" textLength="15.75" lengthAdjust="spacingAndGlyphs">0.4 μM</text>
<line x1="460.10" y1="388.60" x2="460.10" y2="390.40" stroke="#222" stroke-width="0.7" />
<text x="460.10" y="399.00" font-size="5.1" text-anchor="middle" fill="#4a4a4a" stroke="#4a4a4a" stroke-width="0.14" textLength="15.75" lengthAdjust="spacingAndGlyphs">1.6 μM</text>
<line x1="482.20" y1="388.60" x2="482.20" y2="390.40" stroke="#222" stroke-width="0.7" />
<text x="482.20" y="399.00" font-size="5.1" text-anchor="middle" fill="#4a4a4a" stroke="#4a4a4a" stroke-width="0.14" textLength="19.00" lengthAdjust="spacingAndGlyphs">6.25 μM</text>
<line x1="504.30" y1="388.60" x2="504.30" y2="390.40" stroke="#222" stroke-width="0.7" />
<text x="504.30" y="399.00" font-size="5.1" text-anchor="middle" fill="#4a4a4a" stroke="#4a4a4a" stroke-width="0.14" textLength="13.50" lengthAdjust="spacingAndGlyphs">25 μM</text>
<text x="470.40" y="410.30" font-size="6.8" text-anchor="middle" fill="#3a3a3a" textLength="36.00" lengthAdjust="spacingAndGlyphs">Lenalidomide</text>
<text x="401.90" y="343.70" font-size="6.2" text-anchor="middle" fill="#3a3a3a" stroke="#3a3a3a" stroke-width="0.14" textLength="53.00" lengthAdjust="spacingAndGlyphs" transform="rotate(-90 401.90 343.70)">Relative cell viability</text>
<text x="410.30" y="344.20" font-size="6.2" text-anchor="middle" fill="#3a3a3a" stroke="#3a3a3a" stroke-width="0.14" textLength="35.00" lengthAdjust="spacingAndGlyphs" transform="rotate(-90 410.30 344.20)">(fold change)</text>
<text x="430.10" y="419.30" font-size="5.15" text-anchor="start" fill="#333" stroke="#333" stroke-width="0.14" textLength="44.00" lengthAdjust="spacingAndGlyphs">OCI-MY5 shADAR1</text>
<line x1="430.10" y1="421.50" x2="475.30" y2="421.50" stroke="#444" stroke-width="0.65" />
<rect x="430.70" y="425.10" width="6.00" height="2.60" fill="#b0122c" />
<text x="439.60" y="428.20" font-size="5.0" text-anchor="start" fill="#555" stroke="#555" stroke-width="0.14">shSCR</text>
<rect x="430.70" y="430.60" width="6.00" height="2.60" fill="#d27272" />
<text x="439.60" y="433.70" font-size="5.0" text-anchor="start" fill="#555" stroke="#555" stroke-width="0.14">shMDA5</text>
<rect x="464.30" y="425.10" width="6.00" height="2.60" fill="#e8b0a8" />
<text x="473.20" y="428.20" font-size="5.0" text-anchor="start" fill="#555" stroke="#555" stroke-width="0.14">shRIG-I</text>
<rect x="464.30" y="430.60" width="6.00" height="2.60" fill="#f2d2ca" />
<text x="473.20" y="433.70" font-size="5.0" text-anchor="start" fill="#555" stroke="#555" stroke-width="0.14">shPKR</text>
<text x="7.40" y="459.90" font-size="11.2" text-anchor="start" fill="#111" stroke="#111" stroke-width="0.35" font-weight="bold" textLength="7.90" lengthAdjust="spacingAndGlyphs">D</text>
<text x="235.30" y="459.90" font-size="11.2" text-anchor="start" fill="#111" stroke="#111" stroke-width="0.35" font-weight="bold" textLength="5.60" lengthAdjust="spacingAndGlyphs">E</text>
<text x="48.50" y="470.60" font-size="5.6" text-anchor="middle" fill="#333" stroke="#333" stroke-width="0.14" textLength="17.00" lengthAdjust="spacingAndGlyphs">MM1.S</text>
<text x="48.50" y="476.90" font-size="5.6" text-anchor="middle" fill="#333" stroke="#333" stroke-width="0.14" textLength="11.60" lengthAdjust="spacingAndGlyphs">LenS</text>
<text x="71.30" y="470.60" font-size="5.6" text-anchor="middle" fill="#333" stroke="#333" stroke-width="0.14" textLength="17.00" lengthAdjust="spacingAndGlyphs">MM1.S</text>
<text x="71.50" y="476.90" font-size="5.6" text-anchor="middle" fill="#333" stroke="#333" stroke-width="0.14" textLength="12.20" lengthAdjust="spacingAndGlyphs">LenR</text>
<line x1="39.00" y1="480.60" x2="58.00" y2="480.60" stroke="#333" stroke-width="0.75" />
<line x1="61.70" y1="480.60" x2="81.30" y2="480.60" stroke="#333" stroke-width="0.75" />
<text x="46.90" y="497.80" font-size="5.5" text-anchor="start" fill="#333" stroke="#333" stroke-width="0.14" textLength="6.00" lengthAdjust="spacingAndGlyphs" transform="rotate(-90 46.90 497.80)">EV</text>
<text x="55.30" y="497.80" font-size="5.5" text-anchor="start" fill="#333" stroke="#333" stroke-width="0.14" textLength="14.60" lengthAdjust="spacingAndGlyphs" transform="rotate(-90 55.30 497.80)">MDA5</text>
<text x="68.30" y="497.80" font-size="5.5" text-anchor="start" fill="#333" stroke="#333" stroke-width="0.14" textLength="6.00" lengthAdjust="spacingAndGlyphs" transform="rotate(-90 68.30 497.80)">EV</text>
<text x="77.00" y="497.80" font-size="5.5" text-anchor="start" fill="#333" stroke="#333" stroke-width="0.14" textLength="14.60" lengthAdjust="spacingAndGlyphs" transform="rotate(-90 77.00 497.80)">MDA5</text>
<text x="19.65" y="500.00" font-size="5.4" text-anchor="start" fill="#333" stroke="#333" stroke-width="0.14" textLength="15.45" lengthAdjust="spacingAndGlyphs">(kDa)</text>
<rect x="38.20" y="500.00" width="43.10" height="12.90" fill="#c4c4c4" />
<rect x="38.20" y="500.0" width="43.10" height="7.5" fill="#9c9c9c" opacity="0.6" filter="url(#soft)"/>
<rect x="39.20" y="502.80" width="41.00" height="2.00" fill="#151515" opacity="0.25" filter="url(#soft)"/>
<rect x="38.70" y="507.20" width="42.00" height="3.40" fill="#151515" opacity="0.9" filter="url(#soft)"/>
<rect x="38.70" y="510.60" width="42.00" height="1.20" fill="#151515" opacity="0.35" filter="url(#soft)"/>
<rect x="38.20" y="500.0" width="43.10" height="12.9" fill="none" stroke="#1a1a1a" stroke-width="0.85"/>
<rect x="38.20" y="513.40" width="43.10" height="12.90" fill="#cacaca" />
<rect x="40.20" y="518.70" width="9.00" height="1.80" rx="0.90" fill="#151515" opacity="0.65" filter="url(#soft)"/>
<rect x="49.20" y="518.70" width="9.50" height="1.80" rx="0.90" fill="#151515" opacity="0.7" filter="url(#soft)"/>
<rect x="61.20" y="518.70" width="9.00" height="1.80" rx="0.90" fill="#151515" opacity="0.6" filter="url(#soft)"/>
<rect x="70.20" y="518.70" width="9.00" height="1.80" rx="0.90" fill="#151515" opacity="0.65" filter="url(#soft)"/>
<rect x="40.20" y="521.60" width="9.00" height="1.60" rx="0.80" fill="#151515" opacity="0.4" filter="url(#soft)"/>
<rect x="49.20" y="521.60" width="9.50" height="1.60" rx="0.80" fill="#151515" opacity="0.4" filter="url(#soft)"/>
<rect x="61.20" y="521.60" width="9.00" height="1.60" rx="0.80" fill="#151515" opacity="0.45" filter="url(#soft)"/>
<rect x="70.20" y="521.60" width="9.00" height="1.60" rx="0.80" fill="#151515" opacity="0.45" filter="url(#soft)"/>
<rect x="38.20" y="513.40" width="43.10" height="12.90" fill="none" stroke="#1a1a1a" stroke-width="0.85"/>
<rect x="38.20" y="528.50" width="43.10" height="12.30" fill="#d2d2d2" />
<rect x="39.70" y="532.80" width="9.00" height="1.80" rx="0.90" fill="#151515" opacity="0.7" filter="url(#soft)"/>
<rect x="47.70" y="531.40" width="12.50" height="4.20" rx="2.00" fill="#151515" opacity="0.95" filter="url(#soft)"/>
<rect x="61.70" y="533.00" width="8.50" height="1.40" rx="0.70" fill="#151515" opacity="0.15" filter="url(#soft)"/>
<rect x="69.70" y="531.90" width="10.50" height="3.20" rx="1.60" fill="#151515" opacity="0.92" filter="url(#soft)"/>
<rect x="38.20" y="528.50" width="43.10" height="12.30" fill="none" stroke="#1a1a1a" stroke-width="0.85"/>
<rect x="38.20" y="543.00" width="43.10" height="12.30" fill="#cfcfcf" />
<rect x="40.70" y="547.50" width="8.50" height="2.20" rx="1.10" fill="#151515" opacity="0.92" filter="url(#soft)"/>
<rect x="50.20" y="547.50" width="8.50" height="2.20" rx="1.10" fill="#151515" opacity="0.9" filter="url(#soft)"/>
<rect x="61.20" y="547.50" width="8.00" height="2.20" rx="1.10" fill="#151515" opacity="0.9" filter="url(#soft)"/>
<rect x="70.20" y="547.50" width="9.00" height="2.20" rx="1.10" fill="#151515" opacity="0.9" filter="url(#soft)"/>
<rect x="38.20" y="543.00" width="43.10" height="12.30" fill="none" stroke="#1a1a1a" stroke-width="0.85"/>
<line x1="59.60" y1="466.30" x2="59.60" y2="557.30" stroke="#1a1a1a" stroke-width="0.9" stroke-dasharray="2.2,1.4"/>
<text x="33.60" y="512.70" font-size="5.4" text-anchor="end" fill="#333" stroke="#333" stroke-width="0.14" textLength="10.10" lengthAdjust="spacingAndGlyphs">100</text>
<line x1="34.00" y1="510.80" x2="37.60" y2="510.80" stroke="#222" stroke-width="0.7" />
<text x="33.60" y="521.10" font-size="5.4" text-anchor="end" fill="#333" stroke="#333" stroke-width="0.14" textLength="10.10" lengthAdjust="spacingAndGlyphs">150</text>
<line x1="34.00" y1="519.20" x2="37.60" y2="519.20" stroke="#222" stroke-width="0.7" />
<text x="33.60" y="533.80" font-size="5.4" text-anchor="end" fill="#333" stroke="#333" stroke-width="0.14" textLength="10.10" lengthAdjust="spacingAndGlyphs">150</text>
<line x1="34.00" y1="531.90" x2="37.60" y2="531.90" stroke="#222" stroke-width="0.7" />
<text x="33.60" y="551.80" font-size="5.4" text-anchor="end" fill="#333" stroke="#333" stroke-width="0.14" textLength="6.70" lengthAdjust="spacingAndGlyphs">37</text>
<line x1="34.00" y1="549.90" x2="37.60" y2="549.90" stroke="#222" stroke-width="0.7" />
<text x="83.90" y="508.80" font-size="5.6" text-anchor="start" fill="#2a2a2a" stroke="#2a2a2a" stroke-width="0.14" textLength="17.30" lengthAdjust="spacingAndGlyphs">ADAR1</text>
<text x="83.90" y="522.50" font-size="5.5" text-anchor="start" fill="#2a2a2a" stroke="#2a2a2a" stroke-width="0.14" textLength="31.80" lengthAdjust="spacingAndGlyphs">ADAR1 p150</text>
<text x="83.90" y="536.50" font-size="5.5" text-anchor="start" fill="#2a2a2a" stroke="#2a2a2a" stroke-width="0.14" textLength="15.60" lengthAdjust="spacingAndGlyphs">MDA5</text>
<text x="83.90" y="551.10" font-size="5.5" text-anchor="start" fill="#2a2a2a" stroke="#2a2a2a" stroke-width="0.14" textLength="18.40" lengthAdjust="spacingAndGlyphs">GAPDH</text>
<text x="104.20" y="505.50" font-size="5.3" text-anchor="start" fill="#2a2a2a" stroke="#2a2a2a" stroke-width="0.14" textLength="12.10" lengthAdjust="spacingAndGlyphs">p150</text>
<text x="104.20" y="509.60" font-size="5.3" text-anchor="start" fill="#2a2a2a" stroke="#2a2a2a" stroke-width="0.14" textLength="12.10" lengthAdjust="spacingAndGlyphs">p110</text>
<path d="M101.3,502.4 Q102.6,502.4 102.6,504.2 L102.6,505.6 Q102.6,506.6 103.6,506.6 Q102.6,506.6 102.6,507.6 L102.6,509.2 Q102.6,510.9 101.3,510.9" fill="none" stroke="#2a2a2a" stroke-width="0.8"/>
<text x="167.80" y="469.50" font-size="5.4" text-anchor="middle" fill="#333" stroke="#333" stroke-width="0.14" textLength="25.90" lengthAdjust="spacingAndGlyphs">RPMI-8226</text>
<line x1="146.90" y1="471.90" x2="188.70" y2="471.90" stroke="#333" stroke-width="0.75" />
<text x="155.80" y="478.00" font-size="5.4" text-anchor="middle" fill="#333" stroke="#333" stroke-width="0.14" textLength="15.90" lengthAdjust="spacingAndGlyphs">shSCR</text>
<text x="178.10" y="478.00" font-size="5.4" text-anchor="middle" fill="#333" stroke="#333" stroke-width="0.14" textLength="23.20" lengthAdjust="spacingAndGlyphs">shADAR1</text>
<line x1="146.90" y1="480.60" x2="163.80" y2="480.60" stroke="#333" stroke-width="0.75" />
<line x1="168.00" y1="480.60" x2="188.70" y2="480.60" stroke="#333" stroke-width="0.75" />
<text x="152.60" y="497.80" font-size="5.5" text-anchor="start" fill="#333" stroke="#333" stroke-width="0.14" textLength="6.00" lengthAdjust="spacingAndGlyphs" transform="rotate(-90 152.60 497.80)">EV</text>
<text x="162.10" y="497.80" font-size="5.5" text-anchor="start" fill="#333" stroke="#333" stroke-width="0.14" textLength="14.60" lengthAdjust="spacingAndGlyphs" transform="rotate(-90 162.10 497.80)">MDA5</text>
<text x="173.70" y="497.80" font-size="5.5" text-anchor="start" fill="#333" stroke="#333" stroke-width="0.14" textLength="6.00" lengthAdjust="spacingAndGlyphs" transform="rotate(-90 173.70 497.80)">EV</text>
<text x="182.70" y="497.80" font-size="5.5" text-anchor="start" fill="#333" stroke="#333" stroke-width="0.14" textLength="14.60" lengthAdjust="spacingAndGlyphs" transform="rotate(-90 182.70 497.80)">MDA5</text>
<text x="127.20" y="499.60" font-size="5.4" text-anchor="start" fill="#333" stroke="#333" stroke-width="0.14" textLength="12.60" lengthAdjust="spacingAndGlyphs">(kDa)</text>
<rect x="145.10" y="500.00" width="43.50" height="12.40" fill="#cdcdcd" />
<rect x="146.10" y="502.40" width="41.50" height="1.20" rx="0.8" fill="#151515" opacity="0.2" filter="url(#soft)"/>
<rect x="145.60" y="506.10" width="20.00" height="3.60" rx="0.8" fill="#151515" opacity="0.95" filter="url(#soft)"/>
<rect x="147.10" y="509.20" width="17.00" height="1.60" rx="0.8" fill="#151515" opacity="0.5" filter="url(#soft)"/>
<rect x="167.10" y="506.70" width="10.00" height="2.40" rx="0.8" fill="#151515" opacity="0.85" filter="url(#soft)"/>
<rect x="177.10" y="507.20" width="11.00" height="1.60" rx="0.8" fill="#151515" opacity="0.6" filter="url(#soft)"/>
<rect x="145.10" y="500.0" width="43.50" height="12.4" fill="none" stroke="#1a1a1a" stroke-width="0.85"/>
<rect x="145.10" y="512.90" width="43.50" height="13.40" fill="#cdcdcd" />
<rect x="146.60" y="519.80" width="9.00" height="1.80" rx="0.90" fill="#151515" opacity="0.7" filter="url(#soft)"/>
<rect x="155.60" y="518.80" width="9.50" height="2.60" rx="1.30" fill="#151515" opacity="0.92" filter="url(#soft)"/>
<rect x="168.10" y="520.00" width="9.00" height="1.40" rx="0.70" fill="#151515" opacity="0.3" filter="url(#soft)"/>
<rect x="177.10" y="520.00" width="10.00" height="1.40" rx="0.70" fill="#151515" opacity="0.3" filter="url(#soft)"/>
<rect x="146.10" y="522.90" width="41.00" height="1.20" rx="0.60" fill="#151515" opacity="0.15" filter="url(#soft)"/>
<rect x="145.10" y="512.90" width="43.50" height="13.40" fill="none" stroke="#1a1a1a" stroke-width="0.85"/>
<rect x="145.10" y="528.50" width="43.50" height="12.30" fill="#d0d0d0" />
<rect x="147.10" y="533.40" width="8.00" height="1.40" rx="0.70" fill="#151515" opacity="0.25" filter="url(#soft)"/>
<rect x="154.60" y="532.30" width="11.50" height="3.60" rx="1.80" fill="#151515" opacity="0.88" filter="url(#soft)"/>
<rect x="166.60" y="532.80" width="10.50" height="2.60" rx="1.30" fill="#151515" opacity="0.8" filter="url(#soft)"/>
<rect x="176.10" y="532.30" width="12.00" height="3.60" rx="1.80" fill="#151515" opacity="0.85" filter="url(#soft)"/>
<rect x="145.10" y="528.50" width="43.50" height="12.30" fill="none" stroke="#1a1a1a" stroke-width="0.85"/>
<rect x="145.10" y="543.00" width="43.50" height="12.30" fill="#d0d0d0" />
<rect x="146.60" y="548.40" width="9.50" height="2.20" rx="1.10" fill="#151515" opacity="0.95" filter="url(#soft)"/>
<rect x="157.10" y="548.40" width="9.00" height="2.20" rx="1.10" fill="#151515" opacity="0.92" filter="url(#soft)"/>
<rect x="167.60" y="548.40" width="9.50" height="2.20" rx="1.10" fill="#151515" opacity="0.92" filter="url(#soft)"/>
<rect x="177.10" y="548.40" width="10.00" height="2.20" rx="1.10" fill="#151515" opacity="0.95" filter="url(#soft)"/>
<rect x="145.10" y="543.00" width="43.50" height="12.30" fill="none" stroke="#1a1a1a" stroke-width="0.85"/>
<line x1="165.90" y1="473.80" x2="165.90" y2="557.30" stroke="#1a1a1a" stroke-width="0.9" stroke-dasharray="2.2,1.4"/>
<text x="139.80" y="513.50" font-size="5.4" text-anchor="end" fill="#333" stroke="#333" stroke-width="0.14" textLength="8.80" lengthAdjust="spacingAndGlyphs">100</text>
<line x1="142.60" y1="511.60" x2="145.20" y2="511.60" stroke="#222" stroke-width="0.7" />
<text x="139.80" y="522.50" font-size="5.4" text-anchor="end" fill="#333" stroke="#333" stroke-width="0.14" textLength="8.80" lengthAdjust="spacingAndGlyphs">150</text>
<line x1="142.60" y1="520.60" x2="145.20" y2="520.60" stroke="#222" stroke-width="0.7" />
<text x="139.80" y="533.40" font-size="5.4" text-anchor="end" fill="#333" stroke="#333" stroke-width="0.14" textLength="8.80" lengthAdjust="spacingAndGlyphs">150</text>
<line x1="142.60" y1="531.50" x2="145.20" y2="531.50" stroke="#222" stroke-width="0.7" />
<text x="139.80" y="551.60" font-size="5.4" text-anchor="end" fill="#333" stroke="#333" stroke-width="0.14" textLength="5.40" lengthAdjust="spacingAndGlyphs">37</text>
<line x1="142.60" y1="549.70" x2="145.20" y2="549.70" stroke="#222" stroke-width="0.7" />
<text x="191.00" y="508.00" font-size="5.6" text-anchor="start" fill="#2a2a2a" stroke="#2a2a2a" stroke-width="0.14" textLength="17.30" lengthAdjust="spacingAndGlyphs">ADAR1</text>
<text x="191.00" y="523.20" font-size="5.5" text-anchor="start" fill="#2a2a2a" stroke="#2a2a2a" stroke-width="0.14" textLength="31.80" lengthAdjust="spacingAndGlyphs">ADAR1 p150</text>
<text x="191.00" y="536.20" font-size="5.5" text-anchor="start" fill="#2a2a2a" stroke="#2a2a2a" stroke-width="0.14" textLength="15.60" lengthAdjust="spacingAndGlyphs">MDA5</text>
<text x="191.00" y="550.30" font-size="5.5" text-anchor="start" fill="#2a2a2a" stroke="#2a2a2a" stroke-width="0.14" textLength="18.40" lengthAdjust="spacingAndGlyphs">GAPDH</text>
<text x="212.40" y="505.50" font-size="5.3" text-anchor="start" fill="#2a2a2a" stroke="#2a2a2a" stroke-width="0.14" textLength="12.10" lengthAdjust="spacingAndGlyphs">p150</text>
<text x="212.40" y="509.60" font-size="5.3" text-anchor="start" fill="#2a2a2a" stroke="#2a2a2a" stroke-width="0.14" textLength="12.10" lengthAdjust="spacingAndGlyphs">p110</text>
<path d="M209.2,502.4 Q210.5,502.4 210.5,504.2 L210.5,505.6 Q210.5,506.6 211.5,506.6 Q210.5,506.6 210.5,507.6 L210.5,509.2 Q210.5,510.9 209.2,510.9" fill="none" stroke="#2a2a2a" stroke-width="0.8"/>
<text x="251.50" y="505.20" font-size="6.2" text-anchor="middle" fill="#3a3a3a" stroke="#3a3a3a" stroke-width="0.14" textLength="53.50" lengthAdjust="spacingAndGlyphs" transform="rotate(-90 251.50 505.20)">Relative cell viability</text>
<text x="260.10" y="505.40" font-size="6.2" text-anchor="middle" fill="#3a3a3a" stroke="#3a3a3a" stroke-width="0.14" textLength="35.50" lengthAdjust="spacingAndGlyphs" transform="rotate(-90 260.10 505.40)">(fold change)</text>
<polyline points="286.00,481.90 301.10,483.15 316.20,486.88 331.30,488.75 346.40,488.75 361.50,491.25" fill="none" stroke="#7c3e24" stroke-width="1.25" stroke-linejoin="round"/>
<line x1="301.10" y1="485.02" x2="301.10" y2="481.90" stroke="#3a2a20" stroke-width="0.8" />
<line x1="299.80" y1="481.90" x2="302.40" y2="481.90" stroke="#3a2a20" stroke-width="0.8" />
<line x1="299.80" y1="485.02" x2="302.40" y2="485.02" stroke="#3a2a20" stroke-width="0.8" />
<line x1="316.20" y1="494.36" x2="316.20" y2="480.03" stroke="#3a2a20" stroke-width="0.8" />
<line x1="314.90" y1="480.03" x2="317.50" y2="480.03" stroke="#3a2a20" stroke-width="0.8" />
<line x1="314.90" y1="494.36" x2="317.50" y2="494.36" stroke="#3a2a20" stroke-width="0.8" />
<line x1="331.30" y1="490.62" x2="331.30" y2="486.88" stroke="#3a2a20" stroke-width="0.8" />
<line x1="330.00" y1="486.88" x2="332.60" y2="486.88" stroke="#3a2a20" stroke-width="0.8" />
<line x1="330.00" y1="490.62" x2="332.60" y2="490.62" stroke="#3a2a20" stroke-width="0.8" />
<line x1="346.40" y1="490.62" x2="346.40" y2="486.88" stroke="#3a2a20" stroke-width="0.8" />
<line x1="345.10" y1="486.88" x2="347.70" y2="486.88" stroke="#3a2a20" stroke-width="0.8" />
<line x1="345.10" y1="490.62" x2="347.70" y2="490.62" stroke="#3a2a20" stroke-width="0.8" />
<line x1="361.50" y1="494.36" x2="361.50" y2="488.13" stroke="#3a2a20" stroke-width="0.8" />
<line x1="360.20" y1="488.13" x2="362.80" y2="488.13" stroke="#3a2a20" stroke-width="0.8" />
<line x1="360.20" y1="494.36" x2="362.80" y2="494.36" stroke="#3a2a20" stroke-width="0.8" />
<path d="M284.50,483.15 L287.50,483.15 L286.00,480.53Z" fill="#7c3e24"/>
<path d="M299.60,484.40 L302.60,484.40 L301.10,481.77Z" fill="#7c3e24"/>
<path d="M314.70,488.13 L317.70,488.13 L316.20,485.51Z" fill="#7c3e24"/>
<path d="M329.80,490.00 L332.80,490.00 L331.30,487.38Z" fill="#7c3e24"/>
<path d="M344.90,490.00 L347.90,490.00 L346.40,487.38Z" fill="#7c3e24"/>
<path d="M360.00,492.50 L363.00,492.50 L361.50,489.87Z" fill="#7c3e24"/>
<polyline points="286.00,481.90 301.10,483.77 316.20,487.51 331.30,490.62 346.40,490.31 361.50,493.74" fill="none" stroke="#2c6c54" stroke-width="1.25" stroke-linejoin="round"/>
<line x1="301.10" y1="485.64" x2="301.10" y2="481.90" stroke="#2c6c54" stroke-width="0.8" />
<line x1="299.80" y1="481.90" x2="302.40" y2="481.90" stroke="#2c6c54" stroke-width="0.8" />
<line x1="299.80" y1="485.64" x2="302.40" y2="485.64" stroke="#2c6c54" stroke-width="0.8" />
<line x1="361.50" y1="495.61" x2="361.50" y2="491.87" stroke="#2c6c54" stroke-width="0.8" />
<line x1="360.20" y1="491.87" x2="362.80" y2="491.87" stroke="#2c6c54" stroke-width="0.8" />
<line x1="360.20" y1="495.61" x2="362.80" y2="495.61" stroke="#2c6c54" stroke-width="0.8" />
<path d="M284.50,480.65 L287.50,480.65 L286.00,483.28Z" fill="#2c6c54"/>
<path d="M299.60,482.52 L302.60,482.52 L301.10,485.14Z" fill="#2c6c54"/>
<path d="M314.70,486.26 L317.70,486.26 L316.20,488.88Z" fill="#2c6c54"/>
<path d="M329.80,489.37 L332.80,489.37 L331.30,492.00Z" fill="#2c6c54"/>
<path d="M344.90,489.06 L347.90,489.06 L346.40,491.69Z" fill="#2c6c54"/>
<path d="M360.00,492.49 L363.00,492.49 L361.50,495.11Z" fill="#2c6c54"/>
<polyline points="286.00,481.90 301.10,491.25 316.20,498.10 331.30,510.25 346.40,514.61 361.50,522.40" fill="none" stroke="#4cae44" stroke-width="1.25" stroke-linejoin="round"/>
<line x1="301.10" y1="495.61" x2="301.10" y2="486.88" stroke="#4cae44" stroke-width="0.8" />
<line x1="299.80" y1="486.88" x2="302.40" y2="486.88" stroke="#4cae44" stroke-width="0.8" />
<line x1="299.80" y1="495.61" x2="302.40" y2="495.61" stroke="#4cae44" stroke-width="0.8" />
<line x1="316.20" y1="506.82" x2="316.20" y2="489.38" stroke="#4cae44" stroke-width="0.8" />
<line x1="314.90" y1="489.38" x2="317.50" y2="489.38" stroke="#4cae44" stroke-width="0.8" />
<line x1="314.90" y1="506.82" x2="317.50" y2="506.82" stroke="#4cae44" stroke-width="0.8" />
<line x1="331.30" y1="512.43" x2="331.30" y2="508.07" stroke="#4cae44" stroke-width="0.8" />
<line x1="330.00" y1="508.07" x2="332.60" y2="508.07" stroke="#4cae44" stroke-width="0.8" />
<line x1="330.00" y1="512.43" x2="332.60" y2="512.43" stroke="#4cae44" stroke-width="0.8" />
<line x1="346.40" y1="519.28" x2="346.40" y2="509.31" stroke="#4cae44" stroke-width="0.8" />
<line x1="345.10" y1="509.31" x2="347.70" y2="509.31" stroke="#4cae44" stroke-width="0.8" />
<line x1="345.10" y1="519.28" x2="347.70" y2="519.28" stroke="#4cae44" stroke-width="0.8" />
<line x1="361.50" y1="524.26" x2="361.50" y2="520.53" stroke="#4cae44" stroke-width="0.8" />
<line x1="360.20" y1="520.53" x2="362.80" y2="520.53" stroke="#4cae44" stroke-width="0.8" />
<line x1="360.20" y1="524.26" x2="362.80" y2="524.26" stroke="#4cae44" stroke-width="0.8" />
<rect x="284.75" y="480.65" width="2.50" height="2.50" fill="#4cae44"/>
<rect x="299.85" y="490.00" width="2.50" height="2.50" fill="#4cae44"/>
<rect x="314.95" y="496.85" width="2.50" height="2.50" fill="#4cae44"/>
<rect x="330.05" y="509.00" width="2.50" height="2.50" fill="#4cae44"/>
<rect x="345.15" y="513.36" width="2.50" height="2.50" fill="#4cae44"/>
<rect x="360.25" y="521.15" width="2.50" height="2.50" fill="#4cae44"/>
<polyline points="286.00,481.90 301.10,490.00 316.20,492.49 331.30,496.85 346.40,504.95 361.50,513.67" fill="none" stroke="#f2a23a" stroke-width="1.25" stroke-linejoin="round"/>
<line x1="301.10" y1="491.87" x2="301.10" y2="488.13" stroke="#6a4a20" stroke-width="0.8" />
<line x1="299.80" y1="488.13" x2="302.40" y2="488.13" stroke="#6a4a20" stroke-width="0.8" />
<line x1="299.80" y1="491.87" x2="302.40" y2="491.87" stroke="#6a4a20" stroke-width="0.8" />
<line x1="316.20" y1="494.36" x2="316.20" y2="490.62" stroke="#6a4a20" stroke-width="0.8" />
<line x1="314.90" y1="490.62" x2="317.50" y2="490.62" stroke="#6a4a20" stroke-width="0.8" />
<line x1="314.90" y1="494.36" x2="317.50" y2="494.36" stroke="#6a4a20" stroke-width="0.8" />
<line x1="331.30" y1="498.72" x2="331.30" y2="494.98" stroke="#6a4a20" stroke-width="0.8" />
<line x1="330.00" y1="494.98" x2="332.60" y2="494.98" stroke="#6a4a20" stroke-width="0.8" />
<line x1="330.00" y1="498.72" x2="332.60" y2="498.72" stroke="#6a4a20" stroke-width="0.8" />
<line x1="346.40" y1="506.82" x2="346.40" y2="503.08" stroke="#6a4a20" stroke-width="0.8" />
<line x1="345.10" y1="503.08" x2="347.70" y2="503.08" stroke="#6a4a20" stroke-width="0.8" />
<line x1="345.10" y1="506.82" x2="347.70" y2="506.82" stroke="#6a4a20" stroke-width="0.8" />
<line x1="361.50" y1="515.54" x2="361.50" y2="511.80" stroke="#6a4a20" stroke-width="0.8" />
<line x1="360.20" y1="511.80" x2="362.80" y2="511.80" stroke="#6a4a20" stroke-width="0.8" />
<line x1="360.20" y1="515.54" x2="362.80" y2="515.54" stroke="#6a4a20" stroke-width="0.8" />
<circle cx="286.00" cy="481.90" r="1.25" fill="#f2a23a"/>
<circle cx="301.10" cy="490.00" r="1.25" fill="#f2a23a"/>
<circle cx="316.20" cy="492.49" r="1.25" fill="#f2a23a"/>
<circle cx="331.30" cy="496.85" r="1.25" fill="#f2a23a"/>
<circle cx="346.40" cy="504.95" r="1.25" fill="#f2a23a"/>
<circle cx="361.50" cy="513.67" r="1.25" fill="#f2a23a"/>
<line x1="278.60" y1="467.94" x2="278.60" y2="544.70" stroke="#222" stroke-width="1.0" />
<line x1="278.10" y1="544.20" x2="371.00" y2="544.20" stroke="#222" stroke-width="1.0" />
<line x1="275.10" y1="544.20" x2="278.60" y2="544.20" stroke="#222" stroke-width="0.85" />
<text x="268.90" y="546.10" font-size="5.3" text-anchor="middle" fill="#555" stroke="#555" stroke-width="0.14" textLength="7.40" lengthAdjust="spacingAndGlyphs">0.0</text>
<line x1="275.10" y1="531.74" x2="278.60" y2="531.74" stroke="#222" stroke-width="0.85" />
<text x="268.90" y="533.64" font-size="5.3" text-anchor="middle" fill="#555" stroke="#555" stroke-width="0.14" textLength="7.40" lengthAdjust="spacingAndGlyphs">0.2</text>
<line x1="275.10" y1="519.28" x2="278.60" y2="519.28" stroke="#222" stroke-width="0.85" />
<text x="268.90" y="521.18" font-size="5.3" text-anchor="middle" fill="#555" stroke="#555" stroke-width="0.14" textLength="7.40" lengthAdjust="spacingAndGlyphs">0.4</text>
<line x1="275.10" y1="506.82" x2="278.60" y2="506.82" stroke="#222" stroke-width="0.85" />
<text x="268.90" y="508.72" font-size="5.3" text-anchor="middle" fill="#555" stroke="#555" stroke-width="0.14" textLength="7.40" lengthAdjust="spacingAndGlyphs">0.6</text>
<line x1="275.10" y1="494.36" x2="278.60" y2="494.36" stroke="#222" stroke-width="0.85" />
<text x="268.90" y="496.26" font-size="5.3" text-anchor="middle" fill="#555" stroke="#555" stroke-width="0.14" textLength="7.40" lengthAdjust="spacingAndGlyphs">0.8</text>
<line x1="275.10" y1="481.90" x2="278.60" y2="481.90" stroke="#222" stroke-width="0.85" />
<text x="268.90" y="483.80" font-size="5.3" text-anchor="middle" fill="#555" stroke="#555" stroke-width="0.14" textLength="7.40" lengthAdjust="spacingAndGlyphs">1.0</text>
<line x1="275.10" y1="469.44" x2="278.60" y2="469.44" stroke="#222" stroke-width="0.85" />
<text x="268.90" y="471.34" font-size="5.3" text-anchor="middle" fill="#555" stroke="#555" stroke-width="0.14" textLength="7.40" lengthAdjust="spacingAndGlyphs">1.2</text>
<line x1="286.00" y1="544.20" x2="286.00" y2="546.20" stroke="#222" stroke-width="0.7" />
<text x="288.60" y="554.20" font-size="5.4" text-anchor="end" fill="#3a3a3a" stroke="#3a3a3a" stroke-width="0.14" textLength="16.00" lengthAdjust="spacingAndGlyphs" transform="rotate(-45 288.60 554.20)">DMSO</text>
<line x1="301.10" y1="544.20" x2="301.10" y2="546.20" stroke="#222" stroke-width="0.7" />
<text x="303.70" y="554.20" font-size="5.4" text-anchor="end" fill="#3a3a3a" stroke="#3a3a3a" stroke-width="0.14" textLength="17.00" lengthAdjust="spacingAndGlyphs" transform="rotate(-45 303.70 554.20)">0.1 μM</text>
<line x1="316.20" y1="544.20" x2="316.20" y2="546.20" stroke="#222" stroke-width="0.7" />
<text x="318.80" y="554.20" font-size="5.4" text-anchor="end" fill="#3a3a3a" stroke="#3a3a3a" stroke-width="0.14" textLength="17.00" lengthAdjust="spacingAndGlyphs" transform="rotate(-45 318.80 554.20)">0.5 μM</text>
<line x1="331.30" y1="544.20" x2="331.30" y2="546.20" stroke="#222" stroke-width="0.7" />
<text x="333.90" y="554.20" font-size="5.4" text-anchor="end" fill="#3a3a3a" stroke="#3a3a3a" stroke-width="0.14" textLength="13.00" lengthAdjust="spacingAndGlyphs" transform="rotate(-45 333.90 554.20)">1 μM</text>
<line x1="346.40" y1="544.20" x2="346.40" y2="546.20" stroke="#222" stroke-width="0.7" />
<text x="349.00" y="554.20" font-size="5.4" text-anchor="end" fill="#3a3a3a" stroke="#3a3a3a" stroke-width="0.14" textLength="13.00" lengthAdjust="spacingAndGlyphs" transform="rotate(-45 349.00 554.20)">5 μM</text>
<line x1="361.50" y1="544.20" x2="361.50" y2="546.20" stroke="#222" stroke-width="0.7" />
<text x="364.10" y="554.20" font-size="5.4" text-anchor="end" fill="#3a3a3a" stroke="#3a3a3a" stroke-width="0.14" textLength="16.00" lengthAdjust="spacingAndGlyphs" transform="rotate(-45 364.10 554.20)">10 μM</text>
<text x="324.20" y="575.60" font-size="6.8" text-anchor="middle" fill="#3a3a3a" textLength="36.30" lengthAdjust="spacingAndGlyphs">Lenalidomide</text>
<line x1="281.50" y1="523.70" x2="290.00" y2="523.70" stroke="#f2a23a" stroke-width="1.1" />
<circle cx="285.80" cy="523.70" r="1.05" fill="#f2a23a"/>
<text x="293.50" y="525.30" font-size="4.6" text-anchor="start" fill="#3a3a3a" stroke="#3a3a3a" stroke-width="0.14" textLength="30.00" lengthAdjust="spacingAndGlyphs">MM1.S LenS EV</text>
<line x1="281.50" y1="529.20" x2="290.00" y2="529.20" stroke="#4cae44" stroke-width="1.1" />
<rect x="284.75" y="528.15" width="2.10" height="2.10" fill="#4cae44"/>
<text x="293.50" y="530.80" font-size="4.6" text-anchor="start" fill="#3a3a3a" stroke="#3a3a3a" stroke-width="0.14" textLength="38.00" lengthAdjust="spacingAndGlyphs">MM1.S LenS MDA5</text>
<line x1="281.50" y1="534.70" x2="290.00" y2="534.70" stroke="#7c3e24" stroke-width="1.1" />
<path d="M284.54,535.75 L287.06,535.75 L285.80,533.55Z" fill="#7c3e24"/>
<text x="293.50" y="536.30" font-size="4.6" text-anchor="start" fill="#3a3a3a" stroke="#3a3a3a" stroke-width="0.14" textLength="30.00" lengthAdjust="spacingAndGlyphs">MM1.S LenR EV</text>
<line x1="281.50" y1="540.40" x2="290.00" y2="540.40" stroke="#2c6c54" stroke-width="1.1" />
<path d="M284.54,539.35 L287.06,539.35 L285.80,541.55Z" fill="#2c6c54"/>
<text x="293.50" y="542.00" font-size="4.6" text-anchor="start" fill="#3a3a3a" stroke="#3a3a3a" stroke-width="0.14" textLength="38.00" lengthAdjust="spacingAndGlyphs">MM1.S LenR MDA5</text>
<path d="M364.20,494.40 H365.80 V522.20 H364.20" fill="none" stroke="#333" stroke-width="0.8" />
<text x="366.20" y="509.00" font-size="5.2" text-anchor="middle" fill="#333" stroke="#333" stroke-width="0.14" transform="rotate(90 366.20 509.00)">*</text>
<text x="331.50" y="518.30" font-size="5.2" text-anchor="middle" fill="#333" stroke="#333" stroke-width="0.14">**</text>
<text x="346.40" y="524.60" font-size="5.2" text-anchor="middle" fill="#333" stroke="#333" stroke-width="0.14">*</text>
<text x="361.50" y="529.40" font-size="5.2" text-anchor="middle" fill="#333" stroke="#333" stroke-width="0.14">*</text>
<text x="387.00" y="505.20" font-size="6.2" text-anchor="middle" fill="#3a3a3a" stroke="#3a3a3a" stroke-width="0.14" textLength="53.50" lengthAdjust="spacingAndGlyphs" transform="rotate(-90 387.00 505.20)">Relative cell viability</text>
<text x="395.20" y="505.40" font-size="6.2" text-anchor="middle" fill="#3a3a3a" stroke="#3a3a3a" stroke-width="0.14" textLength="35.50" lengthAdjust="spacingAndGlyphs" transform="rotate(-90 395.20 505.40)">(fold change)</text>
<polyline points="421.50,481.90 436.98,480.65 452.46,481.28 467.94,481.90 483.42,483.15 498.90,485.64" fill="none" stroke="#9a7aa4" stroke-width="1.25" stroke-linejoin="round"/>
<line x1="452.46" y1="484.39" x2="452.46" y2="479.41" stroke="#444" stroke-width="0.8" />
<line x1="451.16" y1="479.41" x2="453.76" y2="479.41" stroke="#444" stroke-width="0.8" />
<line x1="451.16" y1="484.39" x2="453.76" y2="484.39" stroke="#444" stroke-width="0.8" />
<line x1="467.94" y1="484.39" x2="467.94" y2="480.03" stroke="#444" stroke-width="0.8" />
<line x1="466.64" y1="480.03" x2="469.24" y2="480.03" stroke="#444" stroke-width="0.8" />
<line x1="466.64" y1="484.39" x2="469.24" y2="484.39" stroke="#444" stroke-width="0.8" />
<line x1="483.42" y1="486.88" x2="483.42" y2="479.41" stroke="#444" stroke-width="0.8" />
<line x1="482.12" y1="479.41" x2="484.72" y2="479.41" stroke="#444" stroke-width="0.8" />
<line x1="482.12" y1="486.88" x2="484.72" y2="486.88" stroke="#444" stroke-width="0.8" />
<line x1="498.90" y1="488.13" x2="498.90" y2="483.77" stroke="#444" stroke-width="0.8" />
<line x1="497.60" y1="483.77" x2="500.20" y2="483.77" stroke="#444" stroke-width="0.8" />
<line x1="497.60" y1="488.13" x2="500.20" y2="488.13" stroke="#444" stroke-width="0.8" />
<path d="M420.00,483.15 L423.00,483.15 L421.50,480.53Z" fill="#9a7aa4"/>
<path d="M435.48,481.90 L438.48,481.90 L436.98,479.28Z" fill="#9a7aa4"/>
<path d="M450.96,482.53 L453.96,482.53 L452.46,479.90Z" fill="#9a7aa4"/>
<path d="M466.44,483.15 L469.44,483.15 L467.94,480.53Z" fill="#9a7aa4"/>
<path d="M481.92,484.40 L484.92,484.40 L483.42,481.77Z" fill="#9a7aa4"/>
<path d="M497.40,486.89 L500.40,486.89 L498.90,484.26Z" fill="#9a7aa4"/>
<polyline points="421.50,481.90 436.98,479.41 452.46,477.85 467.94,478.79 483.42,479.10 498.90,483.77" fill="none" stroke="#4c2262" stroke-width="1.25" stroke-linejoin="round"/>
<line x1="436.98" y1="480.65" x2="436.98" y2="478.16" stroke="#4c2262" stroke-width="0.8" />
<line x1="435.68" y1="478.16" x2="438.28" y2="478.16" stroke="#4c2262" stroke-width="0.8" />
<line x1="435.68" y1="480.65" x2="438.28" y2="480.65" stroke="#4c2262" stroke-width="0.8" />
<line x1="467.94" y1="480.65" x2="467.94" y2="476.92" stroke="#4c2262" stroke-width="0.8" />
<line x1="466.64" y1="476.92" x2="469.24" y2="476.92" stroke="#4c2262" stroke-width="0.8" />
<line x1="466.64" y1="480.65" x2="469.24" y2="480.65" stroke="#4c2262" stroke-width="0.8" />
<line x1="498.90" y1="486.88" x2="498.90" y2="482.52" stroke="#4c2262" stroke-width="0.8" />
<line x1="497.60" y1="482.52" x2="500.20" y2="482.52" stroke="#4c2262" stroke-width="0.8" />
<line x1="497.60" y1="486.88" x2="500.20" y2="486.88" stroke="#4c2262" stroke-width="0.8" />
<path d="M419.88,481.90 L421.50,480.28 L423.12,481.90 L421.50,483.53Z" fill="#4c2262"/>
<path d="M435.36,479.41 L436.98,477.78 L438.61,479.41 L436.98,481.03Z" fill="#4c2262"/>
<path d="M450.83,477.85 L452.46,476.23 L454.08,477.85 L452.46,479.48Z" fill="#4c2262"/>
<path d="M466.31,478.79 L467.94,477.16 L469.56,478.79 L467.94,480.41Z" fill="#4c2262"/>
<path d="M481.80,479.10 L483.42,477.47 L485.05,479.10 L483.42,480.72Z" fill="#4c2262"/>
<path d="M497.27,483.77 L498.90,482.14 L500.52,483.77 L498.90,485.39Z" fill="#4c2262"/>
<polyline points="421.50,481.90 436.98,485.02 452.46,493.43 467.94,498.10 483.42,501.21 498.90,504.95" fill="none" stroke="#2a6a90" stroke-width="1.25" stroke-linejoin="round"/>
<line x1="436.98" y1="486.88" x2="436.98" y2="482.52" stroke="#2a6a90" stroke-width="0.8" />
<line x1="435.68" y1="482.52" x2="438.28" y2="482.52" stroke="#2a6a90" stroke-width="0.8" />
<line x1="435.68" y1="486.88" x2="438.28" y2="486.88" stroke="#2a6a90" stroke-width="0.8" />
<line x1="467.94" y1="499.97" x2="467.94" y2="495.61" stroke="#2a6a90" stroke-width="0.8" />
<line x1="466.64" y1="495.61" x2="469.24" y2="495.61" stroke="#2a6a90" stroke-width="0.8" />
<line x1="466.64" y1="499.97" x2="469.24" y2="499.97" stroke="#2a6a90" stroke-width="0.8" />
<circle cx="421.50" cy="481.90" r="1.25" fill="#2a6a90"/>
<circle cx="436.98" cy="485.02" r="1.25" fill="#2a6a90"/>
<circle cx="452.46" cy="493.43" r="1.25" fill="#2a6a90"/>
<circle cx="467.94" cy="498.10" r="1.25" fill="#2a6a90"/>
<circle cx="483.42" cy="501.21" r="1.25" fill="#2a6a90"/>
<circle cx="498.90" cy="504.95" r="1.25" fill="#2a6a90"/>
<polyline points="421.50,481.90 436.98,490.00 452.46,496.23 467.94,504.33 483.42,507.75 498.90,513.05" fill="none" stroke="#e2307c" stroke-width="1.25" stroke-linejoin="round"/>
<line x1="436.98" y1="491.25" x2="436.98" y2="488.75" stroke="#e2307c" stroke-width="0.8" />
<line x1="435.68" y1="488.75" x2="438.28" y2="488.75" stroke="#e2307c" stroke-width="0.8" />
<line x1="435.68" y1="491.25" x2="438.28" y2="491.25" stroke="#e2307c" stroke-width="0.8" />
<line x1="452.46" y1="497.48" x2="452.46" y2="494.36" stroke="#e2307c" stroke-width="0.8" />
<line x1="451.16" y1="494.36" x2="453.76" y2="494.36" stroke="#e2307c" stroke-width="0.8" />
<line x1="451.16" y1="497.48" x2="453.76" y2="497.48" stroke="#e2307c" stroke-width="0.8" />
<line x1="483.42" y1="510.56" x2="483.42" y2="504.95" stroke="#e2307c" stroke-width="0.8" />
<line x1="482.12" y1="504.95" x2="484.72" y2="504.95" stroke="#e2307c" stroke-width="0.8" />
<line x1="482.12" y1="510.56" x2="484.72" y2="510.56" stroke="#e2307c" stroke-width="0.8" />
<line x1="498.90" y1="515.54" x2="498.90" y2="509.94" stroke="#e2307c" stroke-width="0.8" />
<line x1="497.60" y1="509.94" x2="500.20" y2="509.94" stroke="#e2307c" stroke-width="0.8" />
<line x1="497.60" y1="515.54" x2="500.20" y2="515.54" stroke="#e2307c" stroke-width="0.8" />
<rect x="420.25" y="480.65" width="2.50" height="2.50" fill="#e2307c"/>
<rect x="435.73" y="488.75" width="2.50" height="2.50" fill="#e2307c"/>
<rect x="451.21" y="494.98" width="2.50" height="2.50" fill="#e2307c"/>
<rect x="466.69" y="503.08" width="2.50" height="2.50" fill="#e2307c"/>
<rect x="482.17" y="506.50" width="2.50" height="2.50" fill="#e2307c"/>
<rect x="497.65" y="511.80" width="2.50" height="2.50" fill="#e2307c"/>
<line x1="414.50" y1="467.94" x2="414.50" y2="544.70" stroke="#222" stroke-width="1.0" />
<line x1="414.00" y1="544.20" x2="506.10" y2="544.20" stroke="#222" stroke-width="1.0" />
<line x1="411.00" y1="544.20" x2="414.50" y2="544.20" stroke="#222" stroke-width="0.85" />
<text x="404.30" y="546.10" font-size="5.3" text-anchor="middle" fill="#555" stroke="#555" stroke-width="0.14" textLength="7.40" lengthAdjust="spacingAndGlyphs">0.0</text>
<line x1="411.00" y1="531.74" x2="414.50" y2="531.74" stroke="#222" stroke-width="0.85" />
<text x="404.30" y="533.64" font-size="5.3" text-anchor="middle" fill="#555" stroke="#555" stroke-width="0.14" textLength="7.40" lengthAdjust="spacingAndGlyphs">0.2</text>
<line x1="411.00" y1="519.28" x2="414.50" y2="519.28" stroke="#222" stroke-width="0.85" />
<text x="404.30" y="521.18" font-size="5.3" text-anchor="middle" fill="#555" stroke="#555" stroke-width="0.14" textLength="7.40" lengthAdjust="spacingAndGlyphs">0.4</text>
<line x1="411.00" y1="506.82" x2="414.50" y2="506.82" stroke="#222" stroke-width="0.85" />
<text x="404.30" y="508.72" font-size="5.3" text-anchor="middle" fill="#555" stroke="#555" stroke-width="0.14" textLength="7.40" lengthAdjust="spacingAndGlyphs">0.6</text>
<line x1="411.00" y1="494.36" x2="414.50" y2="494.36" stroke="#222" stroke-width="0.85" />
<text x="404.30" y="496.26" font-size="5.3" text-anchor="middle" fill="#555" stroke="#555" stroke-width="0.14" textLength="7.40" lengthAdjust="spacingAndGlyphs">0.8</text>
<line x1="411.00" y1="481.90" x2="414.50" y2="481.90" stroke="#222" stroke-width="0.85" />
<text x="404.30" y="483.80" font-size="5.3" text-anchor="middle" fill="#555" stroke="#555" stroke-width="0.14" textLength="7.40" lengthAdjust="spacingAndGlyphs">1.0</text>
<line x1="411.00" y1="469.44" x2="414.50" y2="469.44" stroke="#222" stroke-width="0.85" />
<text x="404.30" y="471.34" font-size="5.3" text-anchor="middle" fill="#555" stroke="#555" stroke-width="0.14" textLength="7.40" lengthAdjust="spacingAndGlyphs">1.2</text>
<line x1="421.50" y1="544.20" x2="421.50" y2="546.20" stroke="#222" stroke-width="0.7" />
<text x="424.10" y="554.20" font-size="5.4" text-anchor="end" fill="#3a3a3a" stroke="#3a3a3a" stroke-width="0.14" textLength="16.00" lengthAdjust="spacingAndGlyphs" transform="rotate(-45 424.10 554.20)">DMSO</text>
<line x1="436.98" y1="544.20" x2="436.98" y2="546.20" stroke="#222" stroke-width="0.7" />
<text x="439.58" y="554.20" font-size="5.4" text-anchor="end" fill="#3a3a3a" stroke="#3a3a3a" stroke-width="0.14" textLength="17.00" lengthAdjust="spacingAndGlyphs" transform="rotate(-45 439.58 554.20)">0.1 μM</text>
<line x1="452.46" y1="544.20" x2="452.46" y2="546.20" stroke="#222" stroke-width="0.7" />
<text x="455.06" y="554.20" font-size="5.4" text-anchor="end" fill="#3a3a3a" stroke="#3a3a3a" stroke-width="0.14" textLength="17.00" lengthAdjust="spacingAndGlyphs" transform="rotate(-45 455.06 554.20)">0.5 μM</text>
<line x1="467.94" y1="544.20" x2="467.94" y2="546.20" stroke="#222" stroke-width="0.7" />
<text x="470.54" y="554.20" font-size="5.4" text-anchor="end" fill="#3a3a3a" stroke="#3a3a3a" stroke-width="0.14" textLength="13.00" lengthAdjust="spacingAndGlyphs" transform="rotate(-45 470.54 554.20)">1 μM</text>
<line x1="483.42" y1="544.20" x2="483.42" y2="546.20" stroke="#222" stroke-width="0.7" />
<text x="486.02" y="554.20" font-size="5.4" text-anchor="end" fill="#3a3a3a" stroke="#3a3a3a" stroke-width="0.14" textLength="13.00" lengthAdjust="spacingAndGlyphs" transform="rotate(-45 486.02 554.20)">5 μM</text>
<line x1="498.90" y1="544.20" x2="498.90" y2="546.20" stroke="#222" stroke-width="0.7" />
<text x="501.50" y="554.20" font-size="5.4" text-anchor="end" fill="#3a3a3a" stroke="#3a3a3a" stroke-width="0.14" textLength="16.00" lengthAdjust="spacingAndGlyphs" transform="rotate(-45 501.50 554.20)">10 μM</text>
<text x="460.60" y="575.60" font-size="6.8" text-anchor="middle" fill="#3a3a3a" textLength="36.30" lengthAdjust="spacingAndGlyphs">Lenalidomide</text>
<line x1="417.10" y1="522.00" x2="424.80" y2="522.00" stroke="#4c2262" stroke-width="1.1" />
<path d="M419.13,522.00 L420.50,520.63 L421.87,522.00 L420.50,523.37Z" fill="#4c2262"/>
<text x="426.90" y="523.60" font-size="4.6" text-anchor="start" fill="#3a3a3a" stroke="#3a3a3a" stroke-width="0.14" textLength="38.00" lengthAdjust="spacingAndGlyphs">RPMI-8226 shSCR EV</text>
<line x1="417.10" y1="528.40" x2="424.80" y2="528.40" stroke="#9a7aa4" stroke-width="1.1" />
<path d="M419.24,529.45 L421.76,529.45 L420.50,527.25Z" fill="#9a7aa4"/>
<text x="426.90" y="530.00" font-size="4.6" text-anchor="start" fill="#3a3a3a" stroke="#3a3a3a" stroke-width="0.14" textLength="45.50" lengthAdjust="spacingAndGlyphs">RPMI-8226 shSCR MDA5</text>
<line x1="417.10" y1="534.00" x2="424.80" y2="534.00" stroke="#2a6a90" stroke-width="1.1" />
<circle cx="420.50" cy="534.00" r="1.05" fill="#2a6a90"/>
<text x="426.90" y="535.60" font-size="4.6" text-anchor="start" fill="#3a3a3a" stroke="#3a3a3a" stroke-width="0.14" textLength="42.50" lengthAdjust="spacingAndGlyphs">RPMI-8226 shADAR1 EV</text>
<line x1="417.10" y1="539.90" x2="424.80" y2="539.90" stroke="#e2307c" stroke-width="1.1" />
<rect x="419.45" y="538.85" width="2.10" height="2.10" fill="#e2307c"/>
<text x="426.90" y="541.50" font-size="4.6" text-anchor="start" fill="#3a3a3a" stroke="#3a3a3a" stroke-width="0.14" textLength="54.30" lengthAdjust="spacingAndGlyphs">RPMI-8226 shADAR1 MDA5</text>
<path d="M501.00,487.90 H502.60 V514.60 H501.00" fill="none" stroke="#777" stroke-width="0.8" />
<text x="502.60" y="500.80" font-size="5.2" text-anchor="middle" fill="#333" stroke="#333" stroke-width="0.14" transform="rotate(90 502.60 500.80)">**</text>
<path d="M506.60,486.20 H508.20 V506.60 H506.60" fill="none" stroke="#333" stroke-width="0.8" />
<text x="507.80" y="496.50" font-size="5.2" text-anchor="middle" fill="#333" stroke="#333" stroke-width="0.14" transform="rotate(90 507.80 496.50)">**</text>
<text x="483.40" y="513.60" font-size="5.2" text-anchor="middle" fill="#333" stroke="#333" stroke-width="0.14">*</text>
<text x="498.90" y="521.00" font-size="5.2" text-anchor="middle" fill="#333" stroke="#333" stroke-width="0.14">*</text>
<rect x="0.5" y="0.5" width="519" height="581" fill="none" stroke="#3c3c3c" stroke-width="1"/>
</svg>
</body></html>
